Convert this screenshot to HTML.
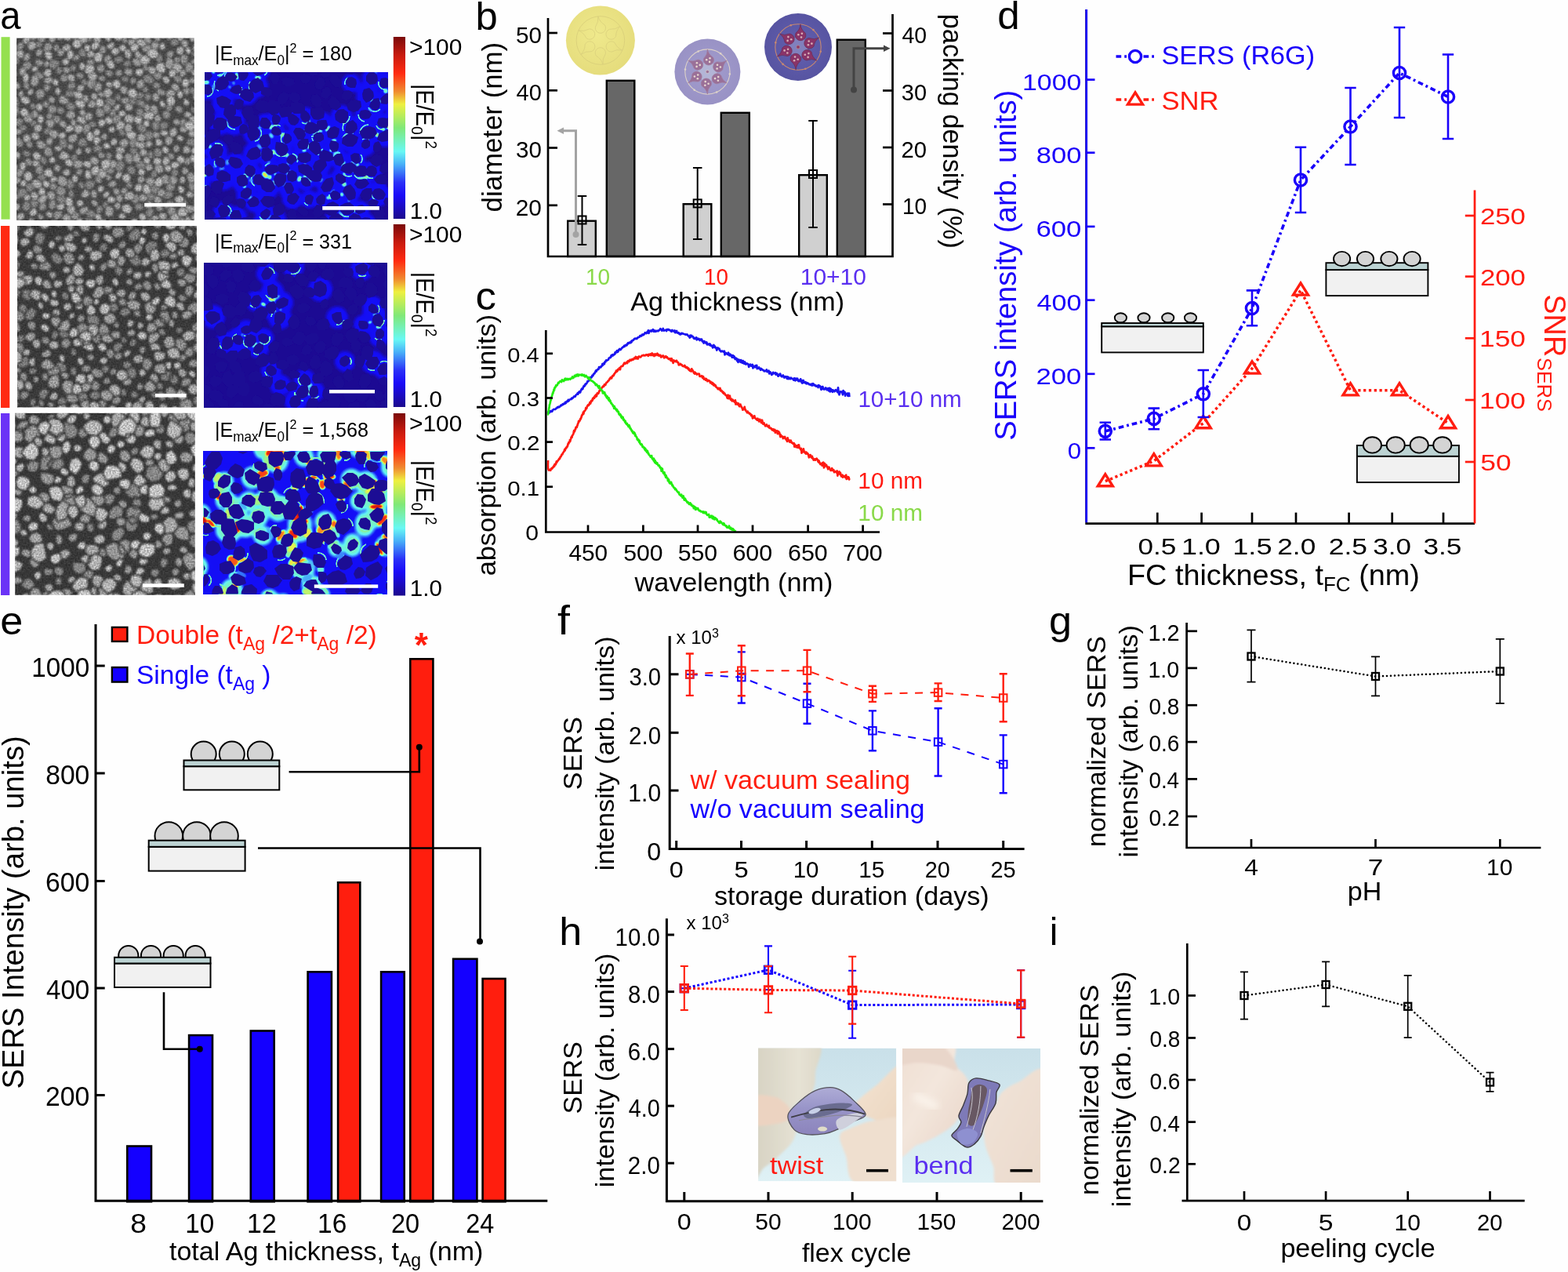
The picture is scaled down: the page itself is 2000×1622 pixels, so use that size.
<!DOCTYPE html><html><head><meta charset="utf-8"><style>html,body{margin:0;padding:0;background:#fff;}svg{display:block;}text{font-family:'Liberation Sans', Arial, Helvetica, sans-serif;}</style></head><body>
<svg width="2000" height="1622" viewBox="0 0 2000 1622">
<rect width="2000" height="1622" fill="#fefefe"/>
<defs><filter id="semnoise" x="0" y="0" width="100%" height="100%"><feTurbulence type="fractalNoise" baseFrequency="0.75" numOctaves="2" seed="3"/><feColorMatrix type="matrix" values="0 0 0 0 1  0 0 0 0 1  0 0 0 0 1  0 0 0 -1.3 1.45"/></filter><filter id="fmpart"><feGaussianBlur stdDeviation="0.5"/></filter><filter id="fmglow" x="-5%" y="-5%" width="110%" height="110%"><feGaussianBlur stdDeviation="2.6"/></filter><filter id="fmcres" x="-5%" y="-5%" width="110%" height="110%"><feGaussianBlur stdDeviation="0.6"/></filter><filter id="fmhot" x="-5%" y="-5%" width="110%" height="110%"><feGaussianBlur stdDeviation="1.1"/></filter></defs>
<rect x="1.5" y="47.2" width="11.1" height="232.5" fill="#95e04f" />
<rect x="1.0" y="288" width="11.3" height="232" fill="#ff2a12" />
<rect x="1.0" y="527" width="11.3" height="232" fill="#6b33f6" />
<clipPath id="semclip1"><rect x="21.1" y="48.5" width="226.70000000000002" height="232.39999999999998"/></clipPath>
<filter id="semb1" x="0" y="0" width="100%" height="100%" color-interpolation-filters="sRGB"><feGaussianBlur in="SourceGraphic" stdDeviation="0.9" result="b"/><feTurbulence type="fractalNoise" baseFrequency="0.5" numOctaves="2" seed="11" result="n"/><feColorMatrix in="n" type="matrix" values="1 0 0 0 0  1 0 0 0 0  1 0 0 0 0  0 0 0 0 1" result="ng"/><feComposite in="b" in2="ng" operator="arithmetic" k1="0.70" k2="0.65" k3="0" k4="0"/></filter>
<g clip-path="url(#semclip1)">
<g filter="url(#semb1)">
<rect x="21.1" y="48.5" width="226.70000000000002" height="232.39999999999998" fill="#484848"/>
<path d="M58 164l4 -2 4 3 -1 6 -4 1 -4 -1 -2 -4zM161 234l3 -3 3 1 2 3 0 5 -5 0 -4 -2zM42 243l-5 3 -4 -4 -1 -5 4 -4 6 1 3 5zM175 195l-4 3 -3 -2 -3 -4 2 -5 5 1 4 3zM29 158l-4 3 -5 0 -3 -5 2 -5 6 -1 5 3zM135 199l0 -4 4 -1 4 2 0 4 -2 4 -5 -1zM252 140l-1 4 -4 1 -3 -3 -1 -4 3 -2 4 0zM34 192l3 1 3 4 -4 3 -4 0 -3 -3 0 -5zM250 239l-2 5 -5 0 -3 -5 0 -5 5 -3 5 3zM76 85l3 2 1 4 -3 4 -4 -1 -2 -3 0 -5zM188 267l4 -3 5 4 -2 5 -2 5 -6 -2 -2 -5zM149 81l-4 -4 2 -4 4 -1 5 0 2 5 -5 3zM116 230l5 1 0 6 -4 4 -7 0 -2 -6 3 -5zM175 159l6 -2 5 4 1 5 -3 4 -5 -1 -4 -4zM208 246l4 -3 6 0 4 6 -5 4 -4 1 -6 -2zM87 246l2 -4 4 0 1 4 1 4 -4 3 -4 -3zM220 59l-3 -3 1 -5 4 -2 5 0 2 6 -4 3zM91 241l-5 0 -2 -5 1 -6 5 -3 5 5 0 5zM18 73l5 -2 2 4 0 4 -3 4 -4 -2 -2 -4zM106 187l-6 -1 -1 -6 4 -4 5 0 3 4 0 6zM172 223l-6 -1 -4 -3 0 -6 5 -2 5 2 1 5zM95 133l2 5 -5 4 -4 -1 -4 -4 1 -5 5 -2zM223 262l-4 5 -6 1 -4 -5 3 -5 3 -3 6 1zM173 120l4 -3 4 1 4 3 -3 4 -4 2 -4 -2zM206 79l-5 1 -2 -4 -2 -4 4 -4 5 2 2 5zM171 263l3 -4 5 0 4 3 0 6 -5 0 -4 0zM15 134l-1 -5 1 -6 7 0 2 5 1 5 -5 4zM83 141l-2 4 -5 1 -3 -3 -3 -5 6 -2 4 1zM101 70l-1 -5 4 -4 5 3 1 4 -1 5 -5 0zM243 186l-6 -2 2 -6 5 -2 5 0 3 6 -4 5zM55 231l-4 -1 -4 -4 4 -4 4 -1 4 3 -1 4zM28 267l1 -6 2 -4 6 -1 3 5 -1 5 -5 4zM116 163l-3 -2 0 -5 5 -2 4 2 2 4 -4 3zM193 108l-5 -2 -6 -2 1 -7 6 -3 5 4 4 5zM50 257l-2 6 -4 3 -5 -2 -1 -6 3 -4 5 0zM195 199l1 -6 3 -5 6 2 2 4 -1 6 -5 0zM199 284l-5 4 -5 0 -3 -3 1 -5 4 -2 6 0zM203 160l3 -4 4 -1 5 2 -1 5 -4 3 -5 0zM102 240l-2 -3 0 -4 4 -2 3 3 2 3 -3 4zM84 116l5 -2 5 0 3 5 -4 4 -4 1 -6 -1zM24 280l0 5 -3 4 -5 -1 -1 -4 1 -4 4 -2zM193 126l-4 4 -4 -3 -1 -4 2 -6 5 2 2 3zM191 245l0 -6 5 -3 6 0 3 6 -3 6 -6 0zM108 47l3 -4 5 1 2 3 0 4 -4 3 -4 -3zM41 131l3 1 3 3 -2 4 -4 1 -3 -3 0 -4zM152 204l7 3 0 6 -3 5 -6 1 -4 -5 2 -5zM149 129l-3 -3 1 -4 3 -3 3 2 2 4 -2 3zM164 99l0 4 -3 3 -4 -2 -3 -3 3 -4 4 0zM200 225l-5 2 -3 -3 1 -4 2 -3 5 0 1 4zM175 134l-3 -6 6 -2 5 2 4 4 -3 6 -6 -2zM250 120l-5 1 -3 -3 -1 -4 4 -4 4 3 2 3zM60 205l-1 5 -5 -1 -3 -3 0 -5 5 -2 3 3zM24 166l1 -5 4 -2 4 1 2 4 -3 3 -4 2zM97 88l-2 3 -4 0 -2 -3 1 -4 4 -2 4 2zM193 157l4 -3 6 0 1 6 -1 5 -6 2 -3 -4zM182 138l2 6 0 5 -5 3 -4 -3 -2 -5 2 -6zM246 72l-2 -3 2 -4 4 0 4 1 -1 4 -3 3zM218 220l2 -3 3 -3 4 3 1 4 -3 4 -5 0zM131 263l0 -3 3 -4 4 3 1 3 -2 4 -4 0zM22 248l1 -6 5 -2 6 0 1 7 -4 4 -6 2zM157 165l3 3 0 4 -3 2 -4 -2 -2 -3 2 -4zM186 179l-4 -5 3 -5 5 -3 5 3 1 6 -4 4zM137 124l5 1 6 2 -1 7 -5 2 -5 -3 -4 -4zM25 63l-6 4 -5 -1 -5 -4 3 -6 5 -2 5 3zM118 289l-6 0 -3 -4 -1 -6 5 -2 6 1 1 5zM130 193l-5 1 -5 0 -2 -5 4 -5 5 1 4 3zM76 178l5 -2 4 3 1 6 -3 5 -6 -3 -2 -4zM95 104l2 5 -2 5 -5 3 -4 -4 0 -5 3 -3zM142 289l-3 -3 0 -6 5 0 4 2 2 4 -3 5zM180 217l-5 -2 -3 -6 5 -4 5 0 4 4 0 6zM248 251l-2 -5 3 -3 4 -1 4 2 0 5 -4 3zM12 42l4 -4 5 1 2 5 -3 4 -4 3 -5 -4zM71 252l4 -4 6 0 3 5 -1 6 -6 1 -4 -3zM74 86l-5 3 -6 -3 -2 -6 6 -4 5 0 5 4zM212 51l1 -5 1 -3 5 0 2 3 -1 4 -4 2zM222 103l-1 -5 4 -3 5 2 3 4 -2 5 -5 0zM176 124l0 6 -4 3 -6 1 -2 -5 2 -4 4 -3zM160 78l4 -2 3 3 0 4 -3 2 -5 0 -3 -4zM249 226l-2 -4 2 -4 5 -2 2 5 1 4 -4 4zM232 254l6 1 2 5 -1 5 -5 3 -3 -4 -3 -5zM53 54l2 4 -3 3 -5 0 -2 -4 1 -4 4 -1zM112 105l-1 4 -4 1 -3 -3 -1 -3 3 -4 4 2zM40 154l3 -1 5 2 -1 4 -4 2 -4 0 -1 -4zM181 114l2 -4 4 0 3 3 -1 3 -2 4 -4 -2zM111 276l-3 -5 4 -4 6 1 4 4 -2 6 -5 1zM182 87l0 -5 5 -2 2 4 3 4 -4 3 -4 -1zM190 246l5 0 3 4 -2 4 -5 3 -4 -3 0 -5zM123 267l1 -5 5 0 3 4 -2 4 -3 3 -5 -2zM96 196l3 3 0 5 -4 1 -4 0 -1 -4 2 -3zM188 195l4 -3 4 2 1 4 -1 4 -5 0 -3 -3z" fill="rgb(130,130,130)" stroke="#484848" stroke-width="1.1"/>
<path d="M239 159l-4 2 -5 0 -1 -5 2 -4 5 -1 3 4zM50 44l5 -4 5 4 -1 5 -3 5 -6 0 -3 -6zM211 137l2 -3 4 -3 3 4 0 4 -3 3 -4 -1zM204 112l-3 1 -5 0 -1 -4 2 -4 4 0 4 2zM143 151l3 -4 5 -1 4 4 -1 5 -5 3 -6 -1zM61 138l2 -4 6 0 4 4 -2 5 -4 3 -5 -3zM219 204l-4 -2 -2 -3 2 -4 4 0 3 2 1 5zM42 289l-4 -3 -3 -3 1 -4 5 -2 3 3 2 5zM41 188l-3 1 -4 -2 -1 -4 3 -3 4 0 2 4zM78 251l-6 -4 -2 -5 4 -5 5 1 5 3 0 6zM62 131l1 4 -3 3 -4 -2 -3 -2 2 -4 4 -2zM95 283l1 4 -2 4 -5 -2 -1 -3 1 -4 3 -2zM202 260l4 2 3 3 -2 4 -5 1 -3 -3 -1 -5zM128 96l3 0 3 2 1 5 -5 1 -3 -1 -2 -4zM63 152l-4 -1 0 -4 3 -4 3 2 5 2 -2 5zM165 210l-5 -4 -2 -5 3 -6 7 1 3 5 0 5zM128 93l-4 -2 -1 -6 4 -3 5 0 2 4 -1 5zM62 265l0 -5 2 -4 6 -2 2 6 -1 4 -4 4zM44 79l3 -4 4 1 5 2 -1 5 -5 2 -4 -2zM151 98l-4 -2 0 -5 3 -2 4 -1 2 4 0 4zM161 47l2 3 0 4 -4 2 -3 -3 -2 -3 3 -4zM140 148l-1 -4 1 -5 5 -1 3 4 0 4 -3 3zM61 200l-5 -3 0 -6 3 -5 6 2 2 5 0 6zM233 84l-3 -6 -1 -5 4 -4 6 1 1 5 -1 5zM222 75l2 -3 4 1 2 3 -1 4 -4 0 -3 -1zM207 146l2 -5 5 0 3 3 1 4 -4 4 -5 -1zM65 55l3 5 -3 4 -4 5 -6 -4 1 -5 2 -6zM128 225l2 3 0 5 -5 1 -4 -3 0 -4 2 -4zM240 102l3 -3 4 -1 3 3 1 5 -5 1 -3 -1zM23 55l5 -2 3 4 -1 4 -3 3 -5 -1 0 -4zM33 209l-2 -5 5 -3 4 3 2 3 -2 4 -4 1zM105 222l-3 2 -4 -1 -2 -4 3 -3 3 -1 4 2zM212 121l-6 1 -4 -1 -3 -4 3 -5 5 2 4 2zM167 108l-1 -4 0 -4 4 -2 4 3 0 4 -3 2zM221 243l-5 1 -5 -3 2 -6 4 -3 5 2 2 5zM119 84l-4 0 -5 -2 1 -5 4 -2 4 1 2 4zM65 110l-1 4 -3 3 -4 -1 -2 -4 2 -4 4 -1zM50 223l-5 -3 0 -5 3 -4 5 -1 2 5 0 5zM130 139l4 4 -2 6 -6 1 -4 -4 0 -5 3 -5zM76 59l0 3 -2 4 -5 -1 -1 -4 1 -4 4 -1zM171 260l-4 -5 2 -5 4 -3 5 2 1 5 -3 4zM236 81l6 -2 5 4 0 5 -4 5 -6 -1 -1 -6zM46 116l4 -3 6 2 2 5 -3 5 -7 2 -3 -6zM97 97l1 -5 5 1 4 1 0 4 -3 3 -4 -1zM216 75l-4 -3 0 -5 4 -2 5 -1 1 5 -2 4zM24 135l1 7 -2 5 -6 4 -3 -6 -1 -5 4 -4zM135 228l-2 -4 3 -3 4 2 3 2 -1 4 -4 2zM198 101l-3 -5 4 -3 4 -2 4 4 -1 5 -4 2zM22 174l5 3 3 5 -1 5 -6 1 -5 -3 1 -5zM131 57l4 3 1 4 -2 5 -5 -1 -3 -4 1 -4zM222 275l-6 0 -3 -4 1 -5 5 -5 5 5 1 5zM37 107l1 3 -2 5 -5 -2 -1 -3 0 -4 4 -3zM47 275l3 -3 4 2 3 2 -2 3 -3 3 -3 -3zM102 274l-2 5 -5 3 -4 -4 -1 -5 3 -5 5 2zM134 144l-3 -5 0 -5 5 -2 4 2 3 5 -3 6zM100 43l1 4 -3 3 -4 1 -4 -3 2 -4 4 -2zM99 77l-5 1 -1 -5 2 -3 4 -1 3 2 0 4zM142 90l3 3 -2 4 -4 1 -4 -2 -1 -5 4 -2zM158 134l-4 -4 0 -4 5 -2 5 0 2 5 -4 4zM225 142l-3 -3 3 -4 5 0 3 3 0 5 -5 2zM69 270l5 -1 5 0 1 5 -3 4 -5 3 -4 -5zM44 99l0 -6 6 -2 4 3 3 4 -4 3 -4 0zM234 113l4 -3 4 3 0 5 -3 4 -4 -2 -2 -4zM55 269l-5 -1 0 -5 1 -4 5 -2 3 4 0 5zM75 148l3 4 -2 5 -6 1 -4 -3 0 -5 4 -3zM83 105l-4 -1 -3 -4 2 -4 4 -2 5 2 0 6zM64 241l-1 -5 3 -3 4 1 4 3 -1 5 -5 1zM109 172l-4 -5 0 -4 3 -5 6 0 2 6 -3 4zM39 79l2 5 -3 4 -5 2 -5 -2 1 -6 4 -4zM235 209l-1 -4 3 -4 5 0 3 4 -2 4 -4 2zM165 178l5 -1 7 -1 0 7 -3 4 -5 2 -4 -5zM141 213l5 2 0 5 -5 2 -4 -1 -2 -4 3 -3z" fill="rgb(142,142,142)" stroke="#484848" stroke-width="1.1"/>
<path d="M55 102l4 -3 4 -2 5 3 -2 6 -4 1 -5 -1zM117 242l5 1 2 3 0 4 -3 4 -4 -3 -2 -4zM121 116l-3 -5 2 -5 6 -2 4 4 0 6 -4 4zM192 144l-1 -5 3 -6 6 2 2 5 -1 5 -4 4zM12 92l4 -2 4 0 2 5 -2 3 -5 4 -3 -5zM239 228l-1 -6 6 -3 4 4 3 5 -4 5 -6 0zM39 102l2 -6 7 0 2 6 -1 5 -5 4 -5 -3zM38 148l2 -5 3 -3 5 2 1 4 -1 4 -5 1zM194 123l1 -4 5 -1 3 4 1 4 -4 4 -5 -2zM156 249l1 5 -2 4 -5 0 -2 -4 0 -4 4 -3zM64 81l-2 3 -3 3 -3 -3 0 -4 3 -3 3 1zM222 186l5 -2 2 4 0 4 -4 3 -4 -2 0 -4zM69 216l0 -4 3 -3 4 2 2 3 -2 5 -5 0zM157 109l5 2 1 5 -3 5 -5 -2 -2 -3 0 -5zM229 98l0 -4 1 -4 4 -3 3 4 1 4 -4 3zM17 112l-2 -4 3 -4 5 1 3 3 0 5 -5 1zM184 262l3 -4 4 -3 4 4 1 4 -4 3 -5 0zM92 209l4 -5 5 0 6 3 -2 6 -5 2 -5 -1zM184 136l2 -4 5 2 1 4 -1 3 -4 3 -3 -4zM74 51l-3 -3 3 -4 3 -3 4 3 2 4 -4 3zM85 133l-6 0 -4 -3 0 -6 5 -3 4 3 5 4zM234 212l5 3 2 3 -1 5 -4 0 -4 -2 0 -4zM137 236l3 -4 3 -2 5 1 1 5 -4 3 -4 0zM41 156l-6 1 -5 -3 0 -6 4 -5 7 1 1 6zM65 165l6 1 4 3 -1 5 -4 4 -5 -3 -4 -5zM212 174l6 -1 3 5 -1 4 -4 4 -5 -2 -1 -6zM71 250l-2 5 -6 0 -3 -4 0 -6 6 -2 4 3zM77 161l-2 -3 2 -4 5 -1 2 4 2 4 -5 3zM130 117l3 2 0 4 -4 2 -2 -2 -3 -3 2 -5zM201 55l-4 -2 -1 -4 1 -4 5 0 2 3 1 4zM101 198l-4 -1 -1 -4 2 -3 4 -2 3 4 -1 4zM65 281l4 -1 5 1 0 6 -4 2 -5 0 -3 -4zM83 66l-2 4 -3 2 -4 -1 -1 -4 2 -4 5 -1zM97 154l1 3 -2 4 -4 0 -2 -3 0 -4 3 -3zM185 257l-6 0 -2 -5 2 -4 4 -1 4 2 2 5zM199 230l-2 5 -4 3 -5 -3 -3 -4 4 -5 5 0zM179 235l-3 -3 -1 -5 4 -3 4 1 3 4 -3 3zM182 65l-2 -5 3 -6 6 1 4 4 -1 6 -5 3zM144 264l1 6 -1 5 -5 2 -5 -3 0 -6 3 -6zM127 206l-3 5 -5 -1 -5 -3 1 -6 6 -2 4 3zM196 168l5 0 3 2 0 4 -3 3 -4 -1 -3 -4zM61 127l2 -4 4 0 3 2 1 4 -4 3 -4 -1zM38 75l-3 3 -5 -1 0 -5 2 -3 5 -2 2 5zM114 100l7 -1 2 6 -1 6 -6 3 -5 -4 0 -5zM91 183l-5 -4 2 -6 5 -2 6 0 0 6 -3 4zM113 131l3 -4 5 2 3 4 -3 4 -5 1 -5 -2zM64 186l-5 -2 -1 -4 2 -3 4 -3 4 4 -1 4zM17 166l4 -2 4 0 4 5 -4 3 -4 0 -4 -1zM113 124l1 4 -4 4 -4 -3 -2 -4 3 -4 4 0zM136 178l-4 1 -4 -3 2 -4 2 -2 4 0 1 4zM83 283l-5 -4 3 -5 5 -2 4 3 1 5 -3 4zM19 237l4 3 -2 5 -4 3 -5 -1 1 -5 1 -5zM54 68l-2 4 -5 0 -2 -5 2 -3 3 -2 5 2zM160 87l5 0 4 2 1 5 -4 3 -4 -1 -4 -3zM238 283l-3 5 -5 2 -5 -4 -1 -5 5 -4 6 1zM64 152l4 1 2 5 -3 5 -6 0 -2 -5 -1 -5zM182 80l-4 5 -5 -1 -4 -3 0 -6 5 -1 5 1zM116 153l-4 1 -5 -3 0 -5 5 -3 5 1 2 5zM151 268l-4 -2 -2 -4 2 -3 4 -2 3 3 0 5zM114 268l-4 3 -4 3 -5 -2 1 -6 4 -2 5 -1zM248 74l3 2 3 3 -3 3 -3 0 -4 -1 0 -4zM230 154l0 4 -3 2 -4 -1 -3 -3 2 -4 4 -1zM226 50l0 -4 4 -2 5 2 0 4 -3 3 -4 0zM88 152l-5 -4 3 -5 4 -3 5 3 2 5 -4 4zM56 181l4 5 -5 4 -5 0 -3 -4 -1 -6 6 -1zM153 247l-3 2 -4 -1 -2 -4 1 -4 5 0 3 2zM135 81l-3 -5 2 -4 3 -2 5 1 0 4 -2 3zM206 240l5 3 0 5 -4 3 -4 0 -3 -4 2 -4zM205 225l6 -3 5 3 2 5 -3 5 -6 0 -3 -4zM151 182l4 -4 4 -2 5 3 0 6 -4 3 -5 -1zM222 80l0 6 -5 3 -6 -3 0 -6 2 -7 7 2zM117 193l-3 3 -3 0 -3 -3 0 -4 4 -2 4 2zM206 151l-2 5 -5 -1 -3 -3 1 -4 3 -3 4 2zM27 232l-5 3 -5 0 -3 -5 2 -5 5 0 5 2zM226 233l-4 3 -5 -2 -3 -5 4 -5 5 1 4 3zM207 258l-5 2 -5 -1 -1 -5 2 -5 5 1 3 3zM194 63l-2 -5 2 -4 4 -4 5 5 0 5 -4 4zM94 188l-2 3 -4 0 -3 -3 2 -4 3 -1 3 1zM154 245l1 -4 3 -2 4 1 1 3 -2 3 -4 3zM193 55l-4 3 -4 -3 -2 -5 2 -5 6 1 2 4zM253 87l3 4 -1 6 -5 1 -5 -2 -2 -5 5 -4zM40 51l-4 -4 1 -5 5 -4 4 3 2 5 -2 5zM85 237l-7 1 -4 -4 -2 -6 4 -4 6 1 4 5zM180 113l-5 0 -1 -5 1 -4 5 -4 4 5 0 5zM85 85l4 2 1 4 -4 3 -4 -1 -2 -3 1 -4zM179 200l1 6 -5 2 -5 -2 -1 -5 2 -4 6 -3zM18 208l5 3 -1 6 -3 6 -6 -2 -2 -6 1 -5zM209 219l-6 3 -5 -3 -1 -5 2 -6 6 1 3 4zM26 226l-5 -1 -1 -5 2 -4 4 -1 5 3 -2 5zM127 193l4 2 3 2 0 4 -5 1 -3 -1 -1 -4z" fill="rgb(154,154,154)" stroke="#484848" stroke-width="1.1"/>
<path d="M43 117l-1 3 -4 2 -3 -2 0 -4 3 -2 4 -2zM176 49l5 0 4 3 2 6 -5 3 -5 -3 -4 -4zM253 277l-2 3 -4 1 -3 -2 0 -4 3 -3 4 1zM138 56l3 -2 5 0 0 5 -3 4 -4 0 -4 -3zM94 95l2 4 -1 5 -5 0 -3 -2 -2 -5 4 -3zM85 66l-5 -1 -1 -5 4 -3 5 -1 3 4 -2 5zM239 252l-2 -4 3 -4 4 0 3 3 0 5 -4 0zM46 55l0 6 -4 3 -5 0 -2 -5 0 -6 7 -1zM69 190l1 -4 4 0 4 0 2 5 -4 2 -4 0zM108 151l3 5 -5 3 -4 -2 -5 -3 2 -6 6 -1zM58 272l3 -3 4 1 3 2 -1 5 -4 1 -3 -2zM122 71l-5 2 -4 1 -3 -4 2 -4 4 -2 4 2zM29 280l-4 2 -4 -4 0 -4 4 -2 5 -1 2 5zM187 188l-6 2 -5 -1 -5 -4 3 -6 6 1 6 2zM21 269l-4 -2 -1 -4 3 -4 4 0 3 3 -1 5zM26 196l0 5 -4 2 -3 -3 -2 -3 3 -3 4 -1zM128 214l6 -1 2 6 0 6 -6 3 -6 -3 1 -6zM30 173l4 -3 4 3 2 4 -3 4 -5 1 -3 -4zM195 213l-1 4 -4 1 -4 -1 0 -5 2 -3 5 0zM161 132l4 0 5 3 -1 5 -5 2 -4 -2 -1 -4zM153 187l4 0 3 4 -2 4 -5 1 -5 -2 0 -6zM255 254l0 5 -3 3 -4 -3 -1 -3 1 -4 4 0zM195 185l-4 3 -3 0 -4 -2 2 -5 4 -2 4 2zM116 255l5 0 3 2 1 3 -2 4 -4 -2 -2 -2zM54 160l0 5 -3 3 -5 2 -3 -5 1 -5 5 -2zM159 160l5 -4 4 3 1 5 -2 5 -6 1 -2 -5zM241 150l5 -3 5 2 2 4 0 6 -6 0 -5 -3zM39 52l-1 4 -5 1 -4 -3 0 -5 4 -3 5 1zM129 53l-4 4 -5 -3 -1 -4 1 -5 6 -2 3 5zM171 148l0 6 -4 5 -6 -2 -3 -5 2 -6 6 0zM213 278l-4 3 -5 -2 -3 -3 3 -4 3 -1 5 1zM234 68l-3 3 -5 -2 -2 -5 3 -4 6 -2 2 5zM89 223l-4 2 -4 -2 -2 -5 5 -2 4 -1 2 4zM241 174l-1 -4 2 -4 5 0 3 3 0 5 -5 1zM109 148l-5 1 -2 -3 -1 -4 3 -3 4 1 1 4zM86 270l-2 -5 4 -4 6 0 2 5 0 5 -6 3zM218 279l1 4 -1 4 -4 0 -3 -2 0 -4 3 -2zM241 49l4 -3 4 0 3 2 1 4 -5 2 -4 -1zM32 93l-3 4 -4 -2 -1 -4 2 -4 5 -1 3 4zM234 147l2 -4 3 -1 4 1 2 4 -4 3 -4 0zM89 52l-4 0 -4 -2 -1 -6 6 -2 5 1 1 5zM189 90l0 -6 6 1 4 2 0 5 -3 4 -5 -2zM161 74l-2 -4 -1 -6 6 -2 3 4 1 4 -2 6zM173 287l-4 1 -3 -4 1 -4 3 -2 5 1 1 4zM227 117l-5 0 -4 -4 1 -5 5 -2 4 3 1 4zM74 227l-2 4 -3 2 -5 0 0 -5 2 -3 4 -1zM224 162l2 5 0 4 -4 4 -5 -1 -1 -6 2 -4zM107 164l-3 5 -5 2 -4 -3 -2 -6 5 -3 6 0zM137 104l4 0 3 2 -1 5 -4 1 -3 -2 -2 -3zM171 58l-5 2 -3 -5 1 -4 3 -2 4 1 2 3zM40 176l0 -6 5 -2 4 2 2 4 -2 4 -5 1zM73 122l-3 -4 0 -4 3 -3 4 2 1 3 -1 4zM77 195l4 -3 5 3 4 4 -5 5 -5 0 -6 -3zM30 118l0 4 -2 3 -4 -2 -1 -3 1 -3 4 -2zM113 243l2 5 -3 3 -4 2 -5 -3 2 -5 3 -4zM184 199l-4 0 -2 -4 1 -5 5 0 3 2 2 5zM183 171l3 4 -2 5 -5 2 -4 -3 0 -5 3 -4zM243 194l-4 2 -5 -1 -1 -4 2 -5 5 0 3 4zM24 250l0 3 -3 3 -4 -1 -2 -4 2 -4 5 0zM159 273l2 3 -2 3 -4 1 -4 -2 1 -5 4 -2zM159 163l-4 3 -7 0 0 -7 3 -5 5 0 4 4zM125 238l4 -2 4 2 0 4 -3 3 -4 1 -2 -3zM233 160l4 3 3 2 -3 4 -3 0 -4 -1 -1 -5zM71 45l0 5 -2 4 -5 0 -2 -4 1 -4 4 -3zM141 113l3 5 -2 4 -4 4 -5 -3 -1 -6 3 -5zM154 132l-1 5 -1 3 -5 2 -2 -4 1 -3 3 -2zM222 285l-5 -3 0 -6 4 -4 6 0 3 5 -3 5zM174 74l-2 -3 0 -4 3 -3 4 3 3 4 -4 4zM223 79l6 2 4 4 -2 6 -5 3 -6 -3 0 -6zM170 255l-5 0 -6 0 -1 -6 4 -4 6 -1 4 5zM198 274l4 1 2 4 -4 2 -4 1 -3 -3 2 -4zM100 286l-3 -3 1 -4 3 -1 4 0 1 4 -2 3zM61 250l-2 6 -3 3 -6 0 -3 -5 5 -4 4 -3zM255 165l-1 3 -4 2 -2 -4 -1 -4 4 -2 4 1zM238 51l2 4 0 4 -4 2 -4 -2 -1 -4 2 -4zM225 116l-2 6 -5 3 -5 -1 -2 -5 4 -4 4 -2zM40 244l6 1 3 3 1 5 -5 3 -4 -2 -2 -4zM238 275l5 3 2 4 -1 5 -5 3 -3 -5 -1 -4zM47 241l-5 -3 -2 -6 5 -4 5 2 4 3 -1 6zM144 46l3 -4 5 -2 6 3 -1 6 -5 4 -5 -2zM26 63l4 2 1 5 -3 5 -5 -2 -4 -4 2 -4zM150 208l-2 4 -5 4 -3 -4 -1 -5 3 -3 5 1zM123 127l-4 1 -3 -3 0 -4 3 -3 4 1 2 4zM121 103l-6 0 -3 -5 0 -7 6 -2 4 4 3 5zM212 41l1 4 -3 4 -4 0 -3 -3 0 -5 4 -1zM229 232l0 -4 3 -4 4 2 1 4 -2 3 -3 2zM112 48l-1 6 -6 2 -5 -3 -2 -6 4 -6 6 2zM47 204l4 2 -1 5 -3 2 -5 -1 -1 -5 2 -3z" fill="rgb(166,166,166)" stroke="#484848" stroke-width="1.1"/>
<path d="M127 175l2 4 -3 4 -4 3 -3 -5 0 -4 3 -3zM142 188l-4 2 -4 0 -3 -4 2 -4 4 0 3 2zM219 215l-2 4 -4 0 -3 -2 0 -5 4 -3 4 2zM209 80l2 6 0 7 -7 0 -4 -3 -2 -5 4 -5zM61 226l-5 -2 0 -6 4 -3 5 0 3 5 -1 6zM51 203l-4 2 -4 -3 -2 -5 4 -4 5 2 3 4zM88 265l-4 -4 -1 -5 2 -5 6 1 2 4 0 5zM236 156l6 -2 5 3 4 5 -5 5 -6 0 -5 -4zM236 241l-2 5 -5 1 -1 -4 -2 -4 3 -3 4 2zM37 100l-1 5 -6 0 -1 -5 0 -4 4 -4 4 4zM125 61l-3 3 -5 -1 -1 -5 3 -4 5 -1 4 4zM102 264l-4 -2 0 -4 2 -3 4 0 3 3 -1 4zM242 200l4 -4 4 3 2 3 0 5 -5 1 -4 -3zM183 272l3 3 1 5 -5 2 -4 -2 -1 -4 2 -4zM234 258l-5 2 -5 -2 -2 -5 4 -3 5 -1 4 3zM40 230l-5 2 -4 -4 -1 -6 5 -4 5 2 2 5zM169 266l-3 6 -6 0 -4 -3 -1 -6 5 -3 5 1zM92 205l2 5 -5 3 -4 -2 -3 -3 2 -4 4 -2zM227 207l-2 -4 2 -4 4 -1 4 3 1 5 -5 4zM215 99l2 3 -2 5 -5 -1 -2 -3 -1 -5 5 -1zM178 87l5 1 0 5 -3 4 -4 0 -4 -3 1 -5zM156 224l4 -3 5 1 2 5 -2 5 -5 1 -4 -4zM188 248l-5 -2 -2 -5 2 -6 6 0 3 5 1 5zM224 129l-2 5 -6 2 -4 -6 1 -5 4 -4 5 3zM205 55l4 -1 2 4 0 4 -3 2 -4 -1 -1 -4zM243 62l1 3 -1 4 -4 0 -2 -3 -1 -3 3 -4zM146 162l1 4 -2 3 -4 0 -3 -2 1 -4 4 -2zM243 262l6 1 0 7 -5 1 -5 1 -4 -5 2 -5zM141 88l-3 -2 -3 -5 4 -4 5 0 2 5 1 5zM172 177l-5 2 -5 -4 -2 -5 5 -3 5 0 5 4zM229 126l-3 -3 0 -4 1 -4 5 1 2 4 -1 4zM116 207l1 5 -4 3 -4 -2 -4 -3 3 -5 5 0zM132 218l-3 -7 0 -6 6 -2 6 1 0 7 -3 4zM66 94l-3 4 -4 0 -4 -3 1 -4 3 -3 6 0zM139 54l-4 -3 -2 -3 1 -4 4 -1 3 3 1 4zM73 267l-2 -5 5 -2 5 -1 2 4 -2 4 -4 1zM98 112l2 -3 5 -1 3 4 -2 3 -3 2 -5 0zM186 162l-4 -2 1 -4 2 -3 5 -1 1 5 0 4zM210 131l2 3 -2 3 -4 0 -2 -3 -1 -4 4 -3zM71 203l0 4 -4 1 -4 -1 -1 -4 3 -3 4 0zM78 77l4 -2 4 -1 3 4 -2 4 -4 2 -3 -3zM241 268l-2 7 -6 1 -5 0 -2 -6 4 -5 5 -1zM95 131l4 -6 5 2 4 3 1 6 -5 3 -6 -3zM145 186l-4 -2 0 -4 2 -3 4 -1 3 4 -1 4zM207 207l1 -4 2 -4 5 2 2 4 -2 5 -6 2zM101 83l2 -4 5 2 1 3 0 5 -5 1 -3 -3zM74 173l3 -4 4 -1 3 3 0 4 -4 2 -4 0zM127 152l5 0 4 4 -3 4 -3 2 -4 -1 -1 -5zM52 239l5 1 1 4 0 4 -5 1 -4 -1 0 -5zM126 272l3 3 1 4 -3 3 -4 -1 -2 -3 0 -5zM207 193l-1 -4 4 -3 4 2 2 4 -2 4 -4 0zM233 180l-4 0 -3 -2 -1 -3 3 -3 3 1 4 3zM143 105l5 -4 5 2 1 5 -2 5 -5 0 -3 -3zM55 136l-1 4 -3 3 -4 -3 -1 -3 1 -5 5 0zM161 59l0 5 -4 2 -4 -2 -2 -3 3 -4 4 0zM32 217l-6 0 -1 -4 0 -4 4 -3 4 2 0 5zM96 164l-4 3 -4 2 -5 -1 1 -6 4 -3 4 1zM180 82l-2 -5 2 -6 6 -1 6 3 -1 7 -5 2zM131 247l3 -2 4 -2 2 4 -1 3 -3 2 -4 0zM28 148l-3 -4 2 -5 4 -2 4 3 2 5 -3 4zM73 110l-4 -1 -2 -3 0 -4 4 -2 3 2 1 4zM252 192l-2 3 -4 2 -3 -4 2 -4 3 -2 4 1zM224 90l1 4 -3 4 -5 1 -2 -4 1 -5 4 -2zM235 125l4 2 3 3 -1 4 -4 1 -3 -2 0 -3zM183 202l4 -3 4 3 1 3 -2 5 -4 -1 -3 -3zM100 228l-2 5 -5 -1 -1 -4 0 -3 3 -3 4 3zM238 99l3 4 1 4 -4 5 -6 -2 0 -5 2 -4zM134 279l2 5 -2 4 -4 3 -4 -4 0 -4 3 -3zM245 63l2 -5 2 -4 5 1 2 4 -3 4 -3 3zM42 85l4 -1 3 2 -1 4 -3 2 -4 -1 -1 -3zM248 216l-1 -4 1 -4 3 -2 5 1 -1 5 -2 3zM176 148l5 2 1 5 -4 4 -4 -1 -3 -3 0 -6zM122 130l2 -5 6 1 3 4 -1 5 -5 2 -5 -2zM198 62l5 6 -3 6 -7 1 -5 -2 -1 -7 5 -4zM47 273l-3 2 -5 1 -2 -5 3 -4 4 -2 4 4zM175 64l-4 3 -4 -2 -1 -5 3 -4 6 -1 3 5zM205 238l-5 0 -4 -4 2 -4 4 -5 6 3 0 6zM94 61l-2 -5 3 -6 5 0 4 4 0 5 -4 3zM119 179l-5 2 -4 -4 0 -4 3 -6 6 2 2 5zM146 227l2 -5 2 -3 5 0 1 4 -2 3 -3 3zM38 248l1 4 -1 3 -3 1 -4 -1 -1 -4 3 -3zM60 76l-2 -3 -2 -6 5 -2 5 2 1 5 -1 5zM120 91l-4 3 -7 0 -2 -6 3 -5 6 -1 5 3zM180 224l-4 -2 0 -4 3 -4 4 2 3 3 -2 4zM131 73l-2 6 -6 1 -4 -6 2 -5 4 -3 6 2zM173 244l-2 -5 3 -4 5 -1 4 3 -1 5 -4 3zM199 186l-1 -4 1 -5 5 0 3 3 1 4 -4 2zM162 117l4 -4 6 0 3 5 0 6 -6 1 -5 -2zM144 155l-3 4 -4 -1 -3 -4 0 -4 5 -2 4 3zM55 230l4 0 4 2 1 5 -4 3 -4 -2 -2 -3zM252 130l-4 -2 -2 -4 2 -5 5 0 4 4 0 5zM29 238l-3 -1 0 -4 2 -3 4 -1 2 4 -1 4zM202 201l4 2 0 5 -4 2 -5 0 -2 -4 2 -5zM210 166l4 1 1 4 -4 3 -4 -1 -3 -3 2 -4zM149 204l-2 -4 1 -5 6 -1 3 5 0 4 -4 2zM158 148l-4 2 -3 -3 0 -5 4 -1 4 0 2 4zM116 218l1 4 0 5 -5 2 -4 -3 0 -5 2 -5zM188 154l-5 -3 0 -7 6 -1 6 -1 2 6 -3 5zM204 280l6 1 -1 5 -3 3 -4 1 -3 -4 2 -4zM87 76l-2 -5 1 -4 3 -4 5 3 0 5 -1 4zM56 153l-2 5 -5 -1 -1 -4 0 -5 4 -2 4 3zM27 123l6 0 4 2 2 5 -5 4 -4 -2 -4 -3zM254 271l-5 0 -5 -3 1 -6 5 -2 5 2 2 5zM113 57l3 2 -1 4 -2 4 -4 -2 -2 -4 1 -4zM143 63l4 -3 4 2 2 5 -4 3 -4 0 -4 -3zM148 254l-2 4 -4 1 -5 -1 0 -6 4 -2 4 1zM229 207l0 5 -5 3 -4 0 -3 -4 2 -4 4 -1zM119 212l7 -1 1 6 -2 5 -4 2 -6 -2 1 -6zM172 41l5 -1 2 5 -2 4 -4 3 -5 -2 0 -6zM128 170l-2 3 -4 1 -4 -2 1 -4 3 -4 5 1zM105 119l1 5 -4 4 -5 -2 -3 -4 1 -6 6 -1z" fill="rgb(178,178,178)" stroke="#484848" stroke-width="1.1"/>
</g>
</g>
<rect x="184.2" y="258.9" width="52.80000000000001" height="4.600000000000023" fill="#fff" />
<clipPath id="semclip2"><rect x="22" y="288" width="229" height="231.5"/></clipPath>
<filter id="semb2" x="0" y="0" width="100%" height="100%" color-interpolation-filters="sRGB"><feGaussianBlur in="SourceGraphic" stdDeviation="1.2" result="b"/><feTurbulence type="fractalNoise" baseFrequency="0.5" numOctaves="2" seed="12" result="n"/><feColorMatrix in="n" type="matrix" values="1 0 0 0 0  1 0 0 0 0  1 0 0 0 0  0 0 0 0 1" result="ng"/><feComposite in="b" in2="ng" operator="arithmetic" k1="0.90" k2="0.55" k3="0" k4="0"/></filter>
<g clip-path="url(#semclip2)">
<g filter="url(#semb2)">
<rect x="22" y="288" width="229" height="231.5" fill="#3a3a3a"/>
<path d="M29 375l-6 5 -6 -1 -7 -3 1 -8 7 -1 6 2zM150 450l-6 -2 0 -7 4 -4 6 -1 4 5 -4 5zM49 502l3 -5 6 -2 5 4 -3 6 -3 5 -7 -2zM261 507l0 8 -6 3 -5 0 -4 -5 1 -8 7 0zM157 404l-5 -4 2 -6 6 -2 6 1 1 7 -5 3zM111 403l8 -3 6 3 3 7 -3 7 -8 -1 -6 -5zM33 389l2 5 -2 6 -6 1 -3 -5 0 -5 4 -5zM192 505l0 -4 4 -2 4 1 2 5 -4 3 -3 -1zM33 432l-4 4 -4 3 -6 -3 2 -5 3 -4 7 -1zM97 468l1 5 0 4 -4 3 -4 -3 -1 -5 2 -4zM74 509l4 -3 5 1 2 5 -1 5 -5 0 -6 -2zM162 501l-1 4 -5 1 -2 -3 -1 -5 4 -3 4 2zM99 450l-3 4 -5 0 -1 -5 1 -4 4 -2 2 4zM44 305l1 -7 7 -2 6 4 -1 7 -4 6 -7 -2zM248 291l-6 -1 -5 -3 1 -5 4 -4 5 2 1 4zM223 477l4 4 1 6 -4 4 -6 -2 -3 -4 1 -6zM204 325l1 -5 5 -3 6 2 3 6 -6 3 -5 2zM151 395l-5 4 -5 -3 -3 -5 4 -5 5 0 4 3zM169 467l-5 3 -4 1 -4 -4 1 -6 5 -1 5 2zM69 303l3 -3 4 0 4 2 -2 5 -3 1 -5 0zM18 345l-4 -5 -1 -5 5 -4 7 1 1 6 -2 6zM167 295l7 -5 7 5 -2 8 -5 4 -8 1 -3 -7zM81 330l-3 7 -7 0 -4 -4 -3 -7 6 -5 6 4zM165 437l2 -4 4 -2 4 4 -1 4 -3 3 -6 0zM31 402l3 -6 7 -5 6 6 -2 7 -4 4 -7 1zM118 499l5 -2 4 4 1 6 -5 3 -6 -1 -4 -5zM198 323l-8 3 -5 -6 0 -8 6 -5 9 1 2 9zM73 461l7 1 5 4 0 7 -6 4 -7 -2 -2 -7zM130 321l-4 -3 1 -4 3 -4 6 0 2 6 -3 5zM73 422l2 5 -2 4 -4 3 -4 -4 1 -4 2 -5zM43 507l3 4 0 4 -4 4 -4 -2 0 -5 1 -3zM162 296l-2 -5 2 -5 4 -1 6 1 -1 5 -3 3zM156 429l4 1 2 3 0 3 -4 3 -3 -3 -1 -4zM232 341l4 3 0 4 -2 6 -6 -1 -4 -5 3 -5zM120 437l-4 -5 1 -6 6 -2 6 2 0 6 -2 7zM161 480l-1 -7 6 -5 7 2 2 7 -3 6 -6 0zM29 369l6 0 8 1 -1 8 -5 6 -7 -3 -5 -5zM88 376l0 5 -4 3 -4 -3 -2 -4 2 -5 5 0zM24 296l-7 2 -3 -5 -4 -6 6 -5 6 3 4 5zM205 476l5 -3 8 0 2 7 -4 7 -7 -1 -5 -3zM248 328l1 -6 6 0 3 4 0 5 -5 3 -5 -1zM154 340l4 4 -2 5 -5 4 -4 -5 -2 -6 4 -4zM230 425l-3 1 -3 -3 0 -4 4 -2 4 1 2 5zM98 293l3 3 2 4 -4 2 -4 0 -3 -3 2 -5zM36 473l3 -4 5 0 4 2 -2 5 -3 1 -5 1zM209 493l-1 4 -5 0 -3 -2 -1 -6 5 -2 3 2zM50 519l-1 -4 0 -4 3 -3 3 3 2 3 -1 5zM39 521l-1 5 -3 2 -4 0 -4 -3 4 -4 4 -1zM83 433l-4 -2 -4 -4 1 -6 7 -2 4 5 1 6zM111 502l2 7 -4 6 -7 -1 -3 -6 2 -6 5 -3zM134 465l5 2 1 5 -4 4 -4 1 -4 -4 2 -5zM22 460l5 -4 8 -2 3 7 -3 7 -6 1 -8 -1zM174 323l4 5 4 8 -8 4 -7 -3 -3 -6 2 -8zM177 502l-1 5 -5 1 -4 -2 -1 -4 3 -4 4 1z" fill="rgb(125,125,125)" stroke="#3a3a3a" stroke-width="1.8"/>
<path d="M183 316l-3 5 -4 4 -5 -4 -1 -6 4 -5 7 0zM34 489l-6 -3 -3 -4 0 -6 6 -2 4 4 0 4zM31 510l-5 -1 -1 -6 3 -4 6 -1 4 5 -3 4zM53 480l1 -4 5 -1 3 3 0 4 -3 4 -5 -1zM106 388l-1 -6 5 -6 6 3 3 4 0 7 -7 2zM187 445l-2 4 -4 4 -3 -4 -1 -5 3 -3 5 1zM45 335l4 3 0 4 -5 2 -3 -1 -3 -4 3 -4zM98 407l2 -5 5 -2 4 4 -1 4 -3 4 -5 0zM206 410l-3 -6 2 -7 8 -3 3 7 2 6 -5 6zM110 475l-5 -1 -2 -5 4 -3 4 -1 5 2 0 6zM46 412l0 5 -2 5 -5 -1 -4 -4 0 -6 6 -2zM131 521l-4 -2 -3 -5 4 -4 5 0 3 3 0 5zM198 369l-3 -5 3 -4 5 1 3 3 0 4 -4 3zM74 290l-3 -3 -2 -4 4 -2 4 -1 4 4 -2 4zM144 446l3 5 -3 6 -5 1 -3 -5 -1 -4 4 -5zM244 510l3 8 -6 6 -7 -2 -6 -4 2 -8 7 -3zM207 419l3 2 2 5 -5 3 -3 -3 -3 -3 2 -3zM149 475l-2 3 -5 1 -3 -4 3 -4 3 -2 4 2zM248 451l-4 4 -6 1 -4 -4 2 -5 4 -5 7 1zM244 363l4 6 -2 6 -5 5 -7 -3 2 -7 1 -5zM181 363l2 5 -5 1 -5 2 -3 -6 4 -3 4 -2zM253 421l-5 3 -4 -4 1 -5 4 -4 5 0 1 6zM143 374l-6 2 -6 -1 -1 -6 4 -4 4 0 7 2zM169 342l1 5 -3 3 -4 2 -3 -4 2 -4 2 -3zM94 337l-9 1 -4 -6 -1 -7 6 -4 6 2 4 6zM247 469l-6 -1 -1 -6 4 -4 6 0 5 4 -3 6zM251 351l-2 8 -7 3 -6 -2 -3 -7 5 -5 6 1zM240 401l-2 -8 4 -5 7 -4 6 6 -2 7 -5 5zM195 463l-2 6 -5 5 -6 -5 -1 -6 3 -7 8 2zM242 311l-4 5 -7 0 -5 -5 2 -7 6 -3 6 3zM22 395l7 3 3 8 -7 5 -8 -2 -6 -5 5 -7zM226 500l-1 7 -8 3 -6 -6 0 -8 6 -4 5 3zM150 409l2 4 1 3 -3 3 -4 -1 -2 -3 2 -4zM183 494l-2 4 -5 0 -2 -4 1 -4 4 -3 4 4zM138 526l0 -6 3 -4 6 -1 2 6 -1 5 -5 1zM244 292l3 4 -2 5 -5 1 -2 -4 -1 -3 3 -4zM93 502l5 2 3 6 -5 5 -6 -1 -6 -3 1 -9zM170 397l3 -4 5 1 1 4 1 5 -5 2 -4 -3zM52 434l3 -5 5 0 3 3 1 4 -4 4 -5 -2zM67 513l3 3 -2 4 -4 0 -3 -2 -1 -4 4 -2zM66 339l-3 7 -7 -1 -7 -2 2 -7 5 -3 6 0zM127 496l-6 3 -5 -3 -3 -6 4 -6 7 2 4 4zM257 297l0 5 -5 1 -3 -4 0 -4 2 -4 5 2zM133 475l-3 7 -7 0 -5 -2 -3 -7 6 -4 6 2zM99 424l-2 -7 6 -6 7 2 5 5 -2 7 -7 1zM152 317l-2 -5 4 -4 4 -2 4 4 -2 5 -3 3zM248 340l4 1 1 5 -3 4 -5 0 -5 -4 2 -6zM200 292l-4 -2 0 -4 4 -3 4 1 3 4 -3 4zM145 287l2 -4 3 -2 5 1 1 4 -2 4 -4 -1zM147 304l-5 -6 2 -7 7 -3 7 3 1 8 -5 4zM121 457l-4 4 -4 -2 -3 -3 2 -4 4 -1 4 2zM137 490l-4 0 -3 -4 3 -3 4 -3 4 4 0 5zM38 520l6 -3 6 0 7 5 -4 7 -7 3 -8 -3zM51 314l4 3 -2 6 -7 1 -4 -3 0 -6 4 -4zM219 331l-4 -3 2 -5 4 -1 5 1 1 5 -4 3zM234 448l-8 -2 -3 -7 1 -7 7 -1 6 3 2 7zM88 432l3 5 -2 5 -5 3 -6 -3 0 -7 5 -4zM11 508l1 -7 4 -7 8 3 2 7 -2 6 -7 1zM203 498l6 2 4 4 -1 4 -4 4 -5 -3 -3 -5zM195 296l6 -1 2 5 -1 4 -3 3 -4 -3 -3 -4zM126 417l5 -6 7 5 2 6 -1 8 -9 0 -5 -6zM151 388l0 -6 5 -3 5 3 1 4 -2 5 -4 -1zM145 454l3 -4 5 -1 4 3 -2 5 -3 2 -5 0zM204 341l-2 5 -5 4 -3 -6 -1 -4 2 -5 7 1zM130 336l5 -2 4 5 -3 4 -4 4 -5 -3 0 -5zM22 487l-5 3 -5 -5 1 -6 4 -5 6 2 1 6zM204 393l2 -5 4 0 4 2 0 5 -4 2 -3 -1zM239 481l6 3 -2 6 -5 3 -7 0 0 -6 3 -5zM229 383l-3 -5 5 -3 5 -1 3 4 -1 5 -5 2zM118 300l4 -4 6 3 -1 6 -2 4 -6 1 -1 -5zM193 370l-6 1 -4 -4 -2 -5 5 -5 5 2 3 5zM220 407l-1 -5 0 -5 6 -1 2 4 1 4 -3 3zM147 505l6 0 2 6 -3 4 -5 2 -5 -3 2 -6zM17 442l4 -5 7 0 3 6 1 7 -8 2 -6 -3zM201 406l6 -1 4 5 -2 7 -6 1 -6 -2 -2 -7zM72 466l5 6 -3 7 -6 3 -6 -4 -4 -7 7 -5z" fill="rgb(140,140,140)" stroke="#3a3a3a" stroke-width="1.8"/>
<path d="M86 475l3 5 -4 4 -4 -1 -3 -3 -1 -4 5 -2zM163 329l-4 -5 1 -6 5 -3 5 3 3 5 -3 6zM103 293l-3 -6 6 -6 7 3 2 5 -1 6 -6 1zM255 447l-4 3 -5 -3 0 -5 2 -4 6 -1 2 5zM106 363l1 7 0 6 -5 1 -5 -3 -1 -5 3 -7zM59 456l-6 0 0 -6 4 -3 5 -2 4 5 -2 5zM20 355l-2 -6 4 -4 5 0 5 2 -1 6 -5 3zM63 346l5 0 4 2 0 5 -4 4 -4 -3 -2 -3zM99 332l0 -5 3 -3 4 0 3 3 -2 4 -3 2zM223 437l0 7 -8 2 -5 -4 -2 -7 5 -7 8 1zM66 413l-2 -6 6 -6 6 4 2 5 -2 7 -6 1zM231 327l-4 -1 -2 -5 4 -3 4 -1 3 3 0 5zM94 494l-1 8 -9 1 -4 -6 -2 -7 6 -6 9 2zM193 426l-6 -3 0 -6 3 -6 7 1 4 6 -2 6zM239 476l-2 5 -5 1 -4 -3 -2 -7 6 -3 5 3zM162 492l-5 -1 -1 -5 3 -4 6 -1 4 4 -2 5zM104 488l7 0 7 1 -3 7 -3 4 -6 0 -5 -5zM235 356l4 4 -3 5 -5 1 -4 -3 -2 -5 5 -3zM174 373l0 5 -3 4 -6 1 -2 -5 2 -4 4 -3zM238 396l6 0 2 6 -5 4 -5 2 -5 -4 2 -6zM152 422l2 5 -1 5 -6 0 -5 -2 -1 -6 6 -2zM152 379l-5 -4 3 -5 6 -2 5 3 0 5 -4 4zM251 358l6 -2 4 3 3 6 -6 4 -5 -2 -5 -3zM86 291l-2 -5 4 -4 6 1 1 5 -1 4 -5 4zM117 521l-6 3 -6 -2 -3 -6 4 -6 7 0 2 5zM48 480l2 3 -1 4 -3 2 -3 -2 -1 -4 1 -4zM174 383l6 4 -2 8 -8 1 -7 -3 -2 -8 8 -3zM225 372l-1 5 -5 1 -3 -2 -2 -5 3 -5 5 3zM234 294l-5 -1 -1 -4 0 -5 6 -3 3 5 1 5zM190 481l3 -5 6 0 3 5 1 5 -6 4 -4 -4zM73 421l2 -8 6 -4 7 -2 2 8 -2 6 -7 2zM223 414l-2 4 -5 -1 -1 -4 0 -3 3 -4 4 3zM168 429l-5 0 -2 -5 4 -3 4 -2 4 4 -1 5zM76 395l2 5 -3 3 -4 2 -5 -3 1 -6 4 -3zM137 426l5 2 4 6 -6 4 -6 -1 -5 -3 1 -7zM15 520l-2 -5 3 -4 5 -1 3 4 -1 4 -3 3zM212 525l-5 -1 -3 -3 -2 -5 6 -2 5 1 1 5zM236 459l-5 2 -5 -1 -1 -5 4 -4 5 1 5 3zM132 361l-5 4 -5 -4 -1 -5 4 -5 6 -1 2 6zM169 358l1 4 -4 2 -4 -1 -2 -3 2 -5 5 0zM124 281l4 3 2 3 1 5 -6 1 -3 -3 0 -4zM149 338l-3 4 -6 0 -4 -3 1 -7 5 -2 8 1zM81 302l5 -3 6 -3 3 7 -3 5 -4 1 -7 0zM223 310l-7 -4 0 -8 6 -5 7 2 6 6 -4 9zM174 452l6 0 4 4 -2 6 -6 2 -6 -2 -1 -6zM186 488l6 -4 5 4 3 7 -5 5 -8 0 -4 -6zM54 461l6 -4 5 3 5 6 -5 6 -7 -1 -7 -3zM149 407l-5 6 -7 1 -6 -6 3 -8 6 -2 6 3zM8 416l8 -4 7 -2 3 6 0 7 -7 1 -7 0zM134 373l-5 6 -6 4 -6 -6 3 -6 3 -6 8 0zM117 315l2 5 -5 3 -4 -1 -4 -4 3 -4 4 -1zM260 482l2 5 -3 4 -4 2 -5 -3 -1 -6 6 -2zM19 468l4 0 3 2 2 4 -4 2 -4 -1 -3 -3zM56 367l-3 -5 3 -6 6 1 3 4 2 6 -6 2zM259 372l-2 5 -3 4 -6 1 -2 -6 3 -5 5 -3zM61 485l5 -6 9 -2 1 9 0 7 -7 3 -8 -3zM133 497l7 0 5 5 -2 8 -8 2 -6 -4 -2 -7zM205 426l-3 7 -5 5 -8 1 0 -9 2 -6 7 -2zM200 394l-4 6 -8 2 -3 -7 -1 -7 7 -4 7 3zM203 477l-6 -3 -1 -7 6 -3 7 -1 3 6 -1 8zM151 326l6 0 4 5 -3 7 -6 2 -4 -5 -3 -6zM95 360l-4 5 -7 -2 -1 -6 3 -5 6 -4 5 6zM248 429l2 -6 7 1 3 4 1 7 -6 5 -6 -5zM171 525l-4 -5 3 -6 6 -3 8 3 -3 7 -3 5zM46 426l-1 6 -5 4 -5 -1 -5 -5 5 -5 5 -2z" fill="rgb(155,155,155)" stroke="#3a3a3a" stroke-width="1.8"/>
<path d="M56 391l-2 4 -5 -2 -1 -3 0 -4 4 -2 3 3zM140 299l4 3 2 6 -6 3 -4 -3 -5 -4 2 -6zM186 520l-2 -5 5 -5 5 2 3 4 0 7 -7 0zM246 523l3 -6 7 2 5 4 -3 6 -6 4 -7 -3zM137 293l-4 -3 -1 -4 4 -2 4 1 4 3 -3 5zM184 328l6 1 3 5 -4 4 -4 2 -5 -2 0 -6zM86 349l-4 0 -3 -5 3 -4 4 0 4 2 0 5zM120 511l7 4 1 6 -2 8 -8 -2 -3 -5 -2 -8zM15 461l-1 -7 2 -6 7 -2 5 6 1 8 -7 5zM229 495l6 4 4 3 -1 7 -7 2 -5 -4 -1 -6zM105 362l-5 2 -5 -3 1 -5 4 -2 4 0 4 4zM188 385l-6 -2 -3 -4 0 -6 6 -1 5 2 3 6zM202 438l3 4 -1 6 -6 0 -6 -2 -1 -7 6 -2zM129 320l3 7 -6 4 -6 3 -6 -4 1 -9 7 -2zM70 368l-2 -5 1 -6 5 0 6 1 0 6 -5 3zM74 507l-2 3 -6 1 -4 -4 3 -5 5 -3 4 3zM90 309l6 2 3 7 -6 4 -6 -1 -6 -4 1 -9zM213 359l-8 2 -5 -7 2 -8 7 -2 8 2 -1 7zM242 435l-7 0 -3 -8 5 -5 6 -1 6 3 0 8zM50 445l-6 -1 -3 -5 1 -5 5 -2 4 2 1 5zM184 349l2 -3 5 -1 3 4 -3 4 -3 2 -4 -2zM215 456l-3 -8 6 -5 7 0 4 5 2 9 -9 1zM214 318l-4 -4 2 -8 7 2 6 3 1 7 -6 5zM39 310l-5 3 -5 2 -4 -4 1 -6 5 -2 6 1zM29 296l5 -4 5 -3 5 4 -1 6 -5 4 -6 -1zM223 517l4 2 3 5 -4 4 -5 -1 -3 -3 1 -5zM167 418l-5 -1 0 -5 1 -5 5 1 4 2 -2 5zM40 456l5 0 0 5 0 5 -5 2 -4 -5 1 -4zM92 364l4 1 -1 5 -2 4 -5 -1 -2 -4 1 -5zM250 325l-7 -3 0 -7 5 -6 7 0 2 6 0 7zM176 346l6 1 -1 6 -4 4 -5 -1 -3 -4 2 -5zM62 290l-4 3 -5 -1 -3 -5 4 -3 5 -2 6 2zM254 493l-1 6 -4 5 -7 -2 -3 -6 3 -6 6 -1zM210 458l-7 3 -6 -2 -1 -6 2 -7 7 2 7 3zM98 530l-7 0 -3 -7 2 -7 6 -2 6 4 0 6zM168 448l-2 4 -2 3 -5 1 -2 -5 3 -4 4 -1zM34 323l2 -5 6 2 1 5 -2 5 -5 1 -5 -3zM36 290l-4 -3 -1 -5 4 -4 5 2 4 4 -4 4zM188 285l-2 4 -5 0 -2 -4 -1 -5 5 -2 4 3zM47 369l5 3 2 7 -6 5 -6 -3 -5 -5 4 -7zM231 397l-4 -3 -4 -4 4 -5 5 0 3 4 1 6zM154 495l0 8 -7 3 -5 -5 -4 -5 4 -6 7 0zM255 275l7 4 -1 7 -5 4 -7 1 -4 -7 4 -6zM114 429l-2 -7 1 -7 6 -2 6 3 1 7 -4 6zM96 353l-4 -6 1 -7 6 -6 6 5 3 6 -3 7zM50 334l-4 -2 -1 -6 5 -3 5 2 4 5 -2 6zM31 495l-5 3 -5 -2 -1 -5 0 -7 8 0 3 5zM39 363l-7 1 -6 -4 2 -7 5 -2 7 -1 3 7zM61 440l4 -5 5 -1 4 2 2 6 -5 4 -6 -1zM227 335l2 4 -3 2 -4 2 -5 -2 2 -5 4 -3zM191 327l1 -7 8 -4 4 7 0 6 -4 4 -7 1zM217 335l1 7 -4 9 -8 -3 -4 -6 -1 -9 9 -1zM92 392l-3 4 -5 1 -4 -4 1 -5 4 -2 5 0zM186 507l-1 5 -3 2 -4 -1 -2 -4 4 -3 3 -2zM180 481l-3 -4 0 -5 5 -3 3 3 2 4 -2 3zM13 389l2 -4 5 -3 3 4 0 5 -2 5 -6 -3zM85 527l-4 5 -6 -3 -4 -7 5 -6 7 0 4 5zM95 405l-3 2 -5 0 1 -5 2 -3 5 -1 1 4zM139 380l-1 -6 6 0 4 2 2 5 -4 5 -6 -1zM33 496l-2 -4 2 -6 5 0 3 4 1 5 -4 4zM182 418l-4 3 -3 -4 0 -3 2 -4 4 1 3 4zM147 478l4 -6 6 -1 6 4 0 8 -7 3 -6 -2z" fill="rgb(170,170,170)" stroke="#3a3a3a" stroke-width="1.8"/>
<path d="M128 437l4 0 3 3 2 6 -6 3 -5 -3 -2 -5zM177 433l-3 -6 5 -5 6 1 3 4 -1 5 -4 2zM38 452l-4 2 -5 -1 0 -5 4 -3 4 0 2 3zM91 382l-1 -8 8 -2 4 5 3 6 -4 7 -7 -4zM213 280l7 -2 7 5 -2 7 -5 3 -6 0 -5 -6zM44 354l5 -3 5 4 0 5 -2 5 -6 -2 -2 -4zM181 299l-2 -4 2 -3 3 -2 3 3 1 3 -3 4zM67 391l-4 -4 1 -6 6 1 4 1 2 5 -4 3zM95 442l-3 -5 3 -5 5 -1 6 2 0 7 -6 2zM114 337l5 -1 2 3 1 4 -4 4 -3 -3 -2 -3zM197 380l5 -3 3 5 -2 5 -4 3 -6 -1 0 -6zM105 311l-2 -4 2 -3 3 -2 3 2 1 4 -3 2zM99 463l-1 -5 3 -3 5 2 1 4 0 5 -6 0zM27 325l-4 4 -5 0 -6 -2 1 -7 6 -2 6 1zM169 517l-2 4 -4 0 -4 -2 1 -5 4 -2 4 1zM142 358l2 -3 5 -1 2 4 1 5 -5 3 -3 -4zM126 459l4 -3 4 -1 4 3 -2 5 -3 2 -5 -2zM213 471l-2 -4 -1 -4 5 -2 4 1 0 5 -2 5zM101 427l6 -5 9 1 1 8 -2 8 -8 1 -6 -6zM57 385l-3 -3 -3 -6 6 -3 4 3 2 3 -1 6zM193 409l-5 1 -3 -5 2 -4 4 -2 3 3 2 3zM217 376l6 4 2 6 -3 7 -7 -2 -6 -4 1 -7zM121 356l1 6 -2 5 -6 1 -5 -4 0 -6 6 -2zM71 310l-1 4 -3 4 -5 -2 -1 -4 2 -4 4 -2zM260 473l-2 4 -5 -1 -1 -4 0 -5 5 -1 4 3zM150 330l-7 1 -4 -7 2 -5 6 -3 6 2 0 7zM93 417l6 3 2 5 -3 4 -6 2 -5 -3 2 -6zM83 456l0 3 -2 4 -4 -2 -2 -4 1 -5 5 0zM63 406l-3 1 -5 0 -2 -5 3 -4 5 1 4 2zM64 421l-5 3 -4 -2 -4 -4 2 -5 5 0 4 3zM244 336l-4 5 -6 -2 -3 -6 1 -7 8 -1 6 4zM129 388l6 -2 5 3 1 6 -4 6 -8 0 -3 -7zM216 299l1 5 -2 4 -5 2 -3 -5 0 -4 4 -5zM182 313l-5 -2 0 -5 2 -5 5 1 3 3 -2 4zM120 481l-1 5 -4 3 -5 -2 -1 -5 2 -4 6 -2zM96 487l0 -7 5 -4 7 1 4 7 -5 6 -6 0zM17 315l-6 -5 1 -7 5 -4 6 1 1 6 -2 5zM93 491l7 -4 4 6 1 7 -6 3 -6 0 -1 -6zM19 353l7 1 7 4 -3 7 -6 4 -7 -2 -2 -8zM121 444l-5 5 -6 -3 -5 -3 1 -7 7 -1 5 3zM70 381l-4 -3 -1 -3 1 -5 5 0 2 4 0 3zM127 383l0 3 -2 3 -4 0 -2 -3 1 -4 4 -2zM247 473l3 3 0 5 -5 1 -3 -3 -3 -4 4 -3zM106 391l-2 4 -4 0 -4 -2 1 -4 3 -4 5 1zM118 402l-6 0 -2 -5 1 -5 5 -5 5 5 2 6zM204 365l3 -6 5 -4 5 4 3 6 -4 4 -6 -1zM231 469l-4 2 -4 0 -2 -4 1 -4 5 -2 4 2zM82 321l-5 1 -2 -4 -1 -4 5 -2 3 1 2 4z" fill="rgb(185,185,185)" stroke="#3a3a3a" stroke-width="1.8"/>
</g>
</g>
<rect x="198" y="502" width="39.5" height="4.5" fill="#fff" />
<clipPath id="semclip3"><rect x="19.2" y="526.8" width="229.60000000000002" height="231.9000000000001"/></clipPath>
<filter id="semb3" x="0" y="0" width="100%" height="100%" color-interpolation-filters="sRGB"><feGaussianBlur in="SourceGraphic" stdDeviation="1.3" result="b"/><feTurbulence type="fractalNoise" baseFrequency="0.5" numOctaves="2" seed="13" result="n"/><feColorMatrix in="n" type="matrix" values="1 0 0 0 0  1 0 0 0 0  1 0 0 0 0  0 0 0 0 1" result="ng"/><feComposite in="b" in2="ng" operator="arithmetic" k1="0.90" k2="0.55" k3="0" k4="0"/></filter>
<g clip-path="url(#semclip3)">
<g filter="url(#semb3)">
<rect x="19.2" y="526.8" width="229.60000000000002" height="231.9000000000001" fill="#383838"/>
<path d="M213 721l-5 4 -4 -4 0 -5 3 -5 6 1 2 5zM73 734l-4 -4 0 -6 6 -2 5 2 2 6 -4 5zM129 711l-7 -2 4 -6 3 -5 6 2 3 5 -3 5zM86 536l9 6 6 7 -5 9 -10 2 -6 -7 -3 -10zM243 682l9 -2 10 2 0 10 -6 7 -9 0 -7 -7zM115 739l-6 0 -4 -6 4 -5 5 -2 6 3 0 7zM58 734l-3 -4 2 -6 6 1 5 1 0 6 -5 2zM148 662l-10 0 1 -10 5 -6 8 -3 6 7 -2 9zM51 590l-2 8 -5 5 -8 -2 -3 -7 5 -6 6 -1zM105 732l-7 0 -5 -5 -1 -10 10 0 7 1 1 9zM12 592l7 4 7 7 -7 7 -7 -1 -8 -2 -1 -11zM128 636l6 -5 6 -2 8 3 -3 8 -5 5 -7 -3zM65 586l6 -5 8 3 4 8 -6 7 -8 0 -9 -5zM218 767l2 -6 4 -3 6 -1 1 5 -2 4 -5 3zM139 550l3 -5 7 -2 3 6 -2 6 -5 3 -8 0zM119 668l1 5 0 5 -6 1 -3 -4 -1 -5 4 -4zM183 630l-9 7 -10 -3 -6 -8 4 -9 9 -2 7 6zM205 595l4 10 -6 8 -10 2 -8 -7 2 -11 8 -6zM60 532l4 -4 5 -1 1 5 1 4 -4 2 -5 -1zM45 746l-4 6 -7 0 -7 -5 3 -8 7 -2 5 3zM163 678l-4 -7 2 -9 9 -4 6 7 0 7 -5 6zM182 533l-3 -8 1 -9 9 -1 6 5 2 8 -6 9zM169 639l2 -6 7 2 3 6 -1 6 -7 2 -5 -4zM203 732l-3 4 -5 0 -3 -5 1 -5 6 -1 5 2zM247 567l-8 0 -4 -7 1 -7 7 -6 6 7 4 6zM110 604l6 2 -2 6 -2 5 -7 0 -2 -7 2 -4zM51 600l0 -10 2 -7 9 -6 7 8 -3 8 -5 7zM71 745l-1 -4 2 -4 5 -2 2 5 0 4 -4 3zM157 685l-5 5 -9 0 -1 -9 4 -6 9 -4 5 7zM210 545l0 6 -5 3 -6 -2 -1 -6 3 -4 5 -2zM248 662l9 2 3 10 -8 6 -8 0 -7 -6 3 -9zM112 547l3 6 -6 5 -6 1 -4 -5 1 -7 6 -2zM53 774l-5 -9 4 -7 7 -6 9 3 1 10 -6 6zM181 655l-2 9 -11 5 -7 -10 0 -9 8 -6 9 2zM177 577l-3 3 -6 1 -2 -6 3 -3 4 -3 4 3zM22 620l-5 6 -8 -1 -2 -6 0 -8 7 -2 6 4zM58 528l-5 -3 -1 -4 1 -5 4 -1 4 3 -1 5zM10 671l4 -6 7 -6 5 8 2 8 -6 7 -10 -2zM225 536l7 -6 11 0 6 10 -6 11 -11 0 -8 -5zM139 514l7 1 7 3 -3 8 -6 4 -8 -2 -3 -8zM198 663l-4 0 -3 -3 2 -5 4 0 4 1 2 5z" fill="rgb(135,135,135)" stroke="#383838" stroke-width="2.0"/>
<path d="M71 681l6 1 3 4 0 5 -3 5 -6 -3 0 -5zM95 631l-9 5 -8 -3 -5 -7 6 -7 7 -1 7 4zM242 729l-7 -9 -3 -8 6 -9 10 3 4 7 -1 9zM154 629l-4 2 -5 -2 -1 -5 3 -3 5 -1 2 4zM145 691l10 4 7 10 -7 11 -11 -2 -8 -6 -2 -12zM51 611l1 -9 9 1 7 2 3 9 -8 5 -7 -2zM20 549l8 -3 4 7 -2 8 -7 4 -10 -3 2 -9zM233 719l-3 5 -5 -2 -2 -4 0 -5 5 -3 5 4zM49 749l4 7 1 8 -7 4 -9 -3 -1 -8 4 -8zM151 698l1 -7 8 -4 8 4 0 9 -5 7 -9 -1zM63 667l4 1 2 3 -1 5 -5 0 -3 -2 -1 -5zM153 659l6 2 2 5 -4 5 -6 0 -3 -4 0 -6zM18 630l-2 -5 5 -3 5 1 3 5 -3 5 -5 -1zM64 670l5 -10 9 -5 9 4 6 11 -11 5 -9 2zM26 706l3 -6 6 0 5 3 0 6 -5 3 -4 -2zM50 722l-6 3 -5 -4 -2 -6 3 -5 7 1 4 5zM169 725l-1 5 -5 3 -5 -3 1 -5 2 -5 5 1zM94 756l-5 4 -5 3 -5 -4 -1 -7 6 -2 5 1zM136 592l-7 -1 -5 -4 0 -6 4 -6 6 4 5 5zM232 642l-1 4 -5 2 -4 -3 0 -5 4 -3 5 0zM233 576l7 0 7 5 -2 8 -7 2 -7 -2 -3 -7zM208 683l5 -6 8 4 0 7 -2 7 -8 2 -6 -6zM35 542l10 0 7 7 -1 11 -11 7 -10 -7 -1 -11zM119 588l-7 1 -7 -6 3 -8 6 -5 8 4 3 8zM153 575l7 -2 5 4 3 7 -6 6 -7 -2 -3 -6zM234 758l5 -4 5 -3 6 3 -2 7 -4 4 -7 0zM38 657l2 4 -2 5 -5 -1 -5 -2 2 -5 4 -2zM22 734l5 3 3 5 -6 3 -4 0 -5 -3 3 -5zM185 588l4 -4 5 1 3 4 -2 5 -5 1 -5 -2zM18 664l-6 -1 -3 -6 1 -6 7 -2 5 4 1 6zM165 701l7 -2 4 5 0 5 -3 5 -5 -2 -4 -4zM213 642l-4 -2 -3 -4 2 -5 5 2 5 1 0 6zM52 535l-3 6 -6 1 -6 -2 -1 -7 5 -5 6 2zM150 641l4 -4 5 1 3 3 1 5 -5 3 -5 -3zM253 660l-5 1 -6 -2 -2 -6 6 -4 6 1 2 5zM229 730l-3 4 -5 1 -2 -4 0 -4 4 -3 5 1zM242 689l-10 0 -7 -3 -5 -8 7 -7 9 0 5 7zM99 686l-2 4 -6 2 -5 -5 3 -6 5 -1 5 0zM61 629l3 5 -2 7 -8 1 -6 -5 1 -7 6 -3zM205 689l5 4 -4 5 -5 2 -6 -2 2 -6 3 -4zM229 537l-4 6 -7 -2 -4 -5 1 -8 7 -1 7 3zM172 545l5 -4 7 3 1 7 -3 5 -8 2 -3 -7zM108 654l7 0 1 7 -2 6 -7 1 -7 -3 3 -7zM31 771l-4 -5 0 -5 3 -5 6 0 4 6 -3 6zM82 649l-4 -9 4 -8 8 -3 9 3 1 10 -8 5zM70 568l9 1 2 9 -5 7 -8 1 -5 -6 -2 -9zM29 536l7 1 2 7 -6 4 -6 3 -6 -6 5 -6zM130 630l5 8 -5 7 -8 1 -7 -4 0 -8 7 -4z" fill="rgb(150,150,150)" stroke="#383838" stroke-width="2.0"/>
<path d="M54 582l-1 -5 0 -6 6 -1 4 4 0 5 -4 4zM222 679l-10 2 -9 -7 5 -9 7 -7 9 3 4 10zM210 708l-3 -4 2 -5 5 -1 4 2 0 4 -3 3zM53 682l2 8 -7 4 -7 -1 -5 -6 4 -7 7 -2zM67 656l-7 -1 -6 -4 0 -7 7 -4 5 4 6 5zM240 613l3 -5 6 3 0 5 -1 6 -6 0 -3 -4zM179 756l-1 -9 4 -6 10 -5 4 10 0 9 -8 4zM142 768l-11 -1 -6 -5 -2 -9 7 -7 10 3 5 9zM228 703l1 -5 4 -2 4 1 3 5 -3 5 -5 -2zM200 560l6 2 0 6 -1 7 -7 -3 -3 -4 0 -5zM97 738l-2 4 -4 2 -5 -1 0 -5 3 -3 5 -1zM88 701l3 6 -5 4 -4 3 -7 -3 1 -7 6 -4zM250 643l-7 -6 2 -11 11 -1 6 6 5 10 -9 6zM121 526l-5 -2 2 -5 3 -2 5 -1 2 5 -3 4zM126 750l-7 -2 -2 -7 2 -8 8 0 6 5 0 8zM135 661l2 7 -2 5 -5 3 -6 -3 1 -6 3 -4zM56 747l5 -3 4 0 3 4 0 5 -5 2 -5 -2zM244 537l6 -4 7 4 -1 8 -4 5 -8 0 -2 -7zM29 570l6 5 -3 8 -8 2 -7 -3 -1 -8 5 -5zM149 741l-4 -2 -1 -5 5 -3 4 2 3 4 -2 5zM226 536l-7 -9 5 -9 9 -4 10 4 -1 10 -5 7zM176 750l-2 11 -10 0 -8 -4 0 -9 6 -9 9 4zM223 661l-1 -6 5 -2 5 -1 4 4 -3 5 -5 1zM160 538l-6 6 -10 1 -5 -9 5 -8 8 -5 9 5zM73 665l-3 -11 2 -8 8 -9 10 8 -2 9 -4 8zM108 674l-4 4 -6 -1 -4 -4 2 -6 5 -2 7 2zM122 660l-11 -4 -9 -5 -2 -12 11 -6 8 7 6 8zM215 516l2 7 -2 6 -5 5 -6 -5 0 -7 4 -5zM88 529l-5 4 -7 3 -5 -6 3 -7 6 -3 7 1zM207 602l-5 -6 -1 -7 7 -5 6 4 4 6 -3 8zM142 772l-9 -7 6 -9 9 -1 6 3 4 8 -7 7zM236 730l5 0 4 3 -1 6 -5 1 -4 -1 -3 -5zM229 567l-5 -2 -6 -5 3 -7 7 1 7 2 -1 7zM126 696l1 8 -6 4 -7 1 -6 -5 2 -10 9 0zM125 752l2 4 -4 4 -5 -1 -3 -4 1 -5 5 -3zM55 563l-1 5 -6 3 -3 -4 -3 -6 5 -5 5 3zM97 618l-5 4 -7 -2 0 -6 1 -6 7 -3 3 7zM191 537l1 6 -6 2 -6 -2 -2 -6 4 -6 7 -1zM15 535l4 4 2 5 -4 4 -5 -2 -2 -3 -1 -6zM222 566l-2 6 -6 -1 -3 -3 -1 -5 5 -2 4 1zM106 527l4 -2 4 2 2 4 -3 4 -5 1 -2 -5z" fill="rgb(165,165,165)" stroke="#383838" stroke-width="2.0"/>
<path d="M57 643l-8 7 -8 -2 -7 -4 1 -10 9 -3 7 3zM31 684l-4 -1 -2 -4 3 -4 4 0 3 3 0 5zM5 763l2 -9 10 2 6 6 -1 8 -8 5 -7 -4zM176 605l-7 -6 -4 -7 4 -9 9 2 5 5 1 9zM153 517l5 -5 7 5 -1 6 -1 8 -8 -4 -3 -5zM129 667l-7 -5 -1 -8 3 -8 9 2 6 6 -3 7zM227 541l7 6 -4 9 -9 5 -9 -7 1 -10 5 -9zM137 608l3 10 -10 5 -8 -5 -5 -8 7 -6 8 -2zM60 699l-1 -5 4 -3 4 1 3 4 -2 4 -4 3zM144 737l6 7 -4 8 -8 5 -8 -6 -1 -8 7 -6zM206 656l-3 -5 3 -4 5 -2 5 3 1 6 -6 2zM30 520l3 7 0 7 -8 1 -6 -3 -1 -7 4 -7zM227 623l-5 3 -4 0 -5 -1 1 -6 5 -2 5 1zM30 719l-3 7 -6 4 -8 -2 -3 -8 6 -7 8 2zM150 594l2 -6 6 2 4 4 -1 6 -5 4 -5 -4zM244 635l-6 1 -5 -4 0 -6 5 -3 5 1 1 5zM183 619l-7 2 -7 -6 3 -7 6 -5 5 5 5 5zM208 765l-5 2 -4 -2 -3 -5 5 -3 4 0 4 4zM58 554l6 -3 6 4 2 6 -3 7 -7 -3 -7 -3zM24 691l-2 6 -6 0 -7 -1 1 -7 4 -5 6 2zM111 553l-6 -10 10 -8 10 1 7 7 -3 10 -9 4zM193 651l-5 -8 4 -9 8 -4 8 5 3 9 -7 8zM182 776l-12 0 -4 -10 3 -10 9 -4 10 5 -2 10zM178 750l-8 -2 -5 -6 2 -8 7 -3 7 4 1 8zM53 652l5 4 3 3 -1 6 -6 2 -4 -4 -1 -6zM135 686l-2 6 -5 2 -7 -1 -2 -7 5 -4 6 -1zM39 702l6 -9 11 -1 2 10 2 10 -10 6 -10 -6zM65 533l11 2 6 8 -1 10 -9 6 -9 -6 -5 -10zM92 663l-4 -6 -3 -6 4 -7 9 1 3 7 -2 6zM102 712l4 -4 5 -1 5 3 -1 6 -4 3 -6 -2zM72 561l1 -6 4 -3 6 0 1 6 -2 5 -5 1zM166 540l-4 -6 3 -7 6 -4 7 4 1 8 -5 7zM214 738l10 -2 6 3 3 7 -4 5 -8 2 -8 -5zM102 576l-5 1 -4 -4 1 -5 4 -2 5 2 3 4zM208 747l-5 4 -5 -3 -3 -5 3 -5 6 -1 3 4zM245 594l4 -3 5 -1 3 5 -2 4 -4 3 -6 -1zM94 636l6 -4 7 -2 3 8 -1 6 -7 5 -5 -6zM225 601l7 -5 8 2 2 7 -2 6 -7 3 -5 -5zM197 570l0 9 -5 7 -9 -2 -6 -6 5 -8 6 -3zM210 611l0 -6 5 -5 7 0 4 8 -5 6 -7 2zM91 528l7 1 0 6 -4 5 -6 1 -4 -5 4 -5zM261 747l-1 8 -8 5 -6 -6 -2 -7 4 -6 8 0zM30 590l2 5 -2 4 -4 4 -6 -3 0 -6 4 -3zM207 581l-2 5 -4 2 -4 -3 -2 -5 5 -3 5 0zM102 735l10 2 1 10 -5 8 -10 1 -7 -7 4 -8zM261 718l-2 5 -3 3 -5 -2 -1 -5 2 -5 6 -1zM122 706l9 4 -1 9 -3 8 -10 1 -6 -8 2 -9z" fill="rgb(180,180,180)" stroke="#383838" stroke-width="2.0"/>
<path d="M186 728l-4 4 -5 2 -5 -2 2 -6 3 -3 5 1zM193 546l5 3 0 7 -6 1 -6 1 -3 -6 5 -4zM138 578l-2 -5 2 -5 5 -2 5 4 -1 5 -4 4zM17 594l-4 -3 -4 -4 5 -3 4 -1 4 3 -1 5zM52 737l-4 4 -4 -4 -1 -5 3 -3 5 -1 2 5zM101 619l6 1 0 7 -4 2 -5 3 -2 -5 1 -4zM120 574l-6 -6 -2 -7 5 -6 8 1 5 6 -4 7zM163 625l-6 -2 -6 -4 2 -7 7 -2 6 2 1 7zM173 556l1 5 -3 5 -7 0 -5 -5 2 -7 7 -1zM102 691l6 -1 2 6 -2 5 -6 0 -4 -3 1 -4zM105 590l-2 8 -6 8 -9 -6 0 -8 3 -7 8 -2zM50 579l-6 8 -10 -1 -7 -9 6 -8 8 -6 8 7zM29 637l0 8 -4 8 -10 1 -2 -9 -1 -9 9 -2zM211 585l0 -7 8 -5 5 6 3 7 -5 6 -8 1zM251 702l5 0 4 4 -2 4 -4 2 -6 -1 -1 -6zM65 542l-3 7 -4 7 -8 -4 -2 -7 3 -6 8 -3zM133 724l4 -3 4 -2 3 4 -1 4 -3 3 -5 -1zM237 525l2 -9 10 -1 7 7 0 10 -9 6 -8 -6zM182 681l4 -3 5 1 3 4 -3 5 -4 2 -5 -3zM81 564l6 -3 4 7 -1 6 -5 6 -6 -4 0 -6zM38 611l2 10 -9 5 -9 -3 -2 -9 3 -7 8 0zM175 688l6 4 -3 6 -5 3 -7 -2 0 -7 4 -3zM183 710l5 2 1 5 -4 3 -5 1 -4 -4 3 -5zM189 618l0 6 1 7 -7 0 -5 -3 0 -6 4 -4zM179 665l-3 -6 4 -6 6 3 6 3 -2 7 -7 1zM107 522l-2 7 -8 -1 -3 -5 1 -6 6 -5 6 4zM192 710l-9 3 -7 -8 2 -11 10 -2 10 2 0 11zM205 616l6 8 -2 9 -9 3 -11 -2 -1 -11 8 -6zM142 539l-6 2 -4 -2 -1 -5 3 -4 4 -1 4 4zM78 640l-11 -2 -4 -7 -1 -9 9 -3 7 3 4 8zM38 678l-3 -6 3 -5 5 -2 6 2 0 7 -5 3zM75 718l-5 2 -6 -4 0 -7 5 -3 7 -1 3 7zM129 632l-7 0 -5 -5 -1 -7 7 -4 6 3 4 7zM111 766l-8 0 -6 -5 3 -8 7 -2 8 1 3 9zM78 605l-2 -5 3 -4 5 1 4 4 -1 5 -5 1zM44 620l3 3 0 5 -5 2 -4 -2 -3 -5 3 -5zM67 753l9 -1 7 5 0 10 -8 6 -9 -4 -7 -9zM115 588l6 -1 5 3 1 7 -5 5 -6 -2 -4 -5zM256 740l-7 3 -7 -6 2 -9 8 -2 8 1 1 8zM210 677l-4 6 -6 -3 -4 -5 2 -7 7 -2 5 5zM171 552l-9 7 -12 -5 1 -11 5 -8 11 -3 8 10zM135 613l-4 -10 5 -10 10 0 8 5 2 11 -11 2zM205 527l1 7 -2 11 -12 0 -2 -10 1 -8 7 -6zM137 555l5 5 -4 7 -7 -2 -4 -5 -1 -7 7 -3zM254 587l-9 -7 -3 -9 7 -7 9 -1 6 8 -3 8zM77 608l3 4 -4 4 -4 1 -4 -2 2 -4 2 -5zM19 711l-7 2 -3 -7 1 -7 7 -3 9 2 -1 9zM149 715l4 -3 5 2 -2 5 -2 4 -5 0 -2 -4zM158 570l-4 2 -5 -2 0 -5 3 -4 5 1 3 4z" fill="rgb(195,195,195)" stroke="#383838" stroke-width="2.0"/>
</g>
</g>
<rect x="181.9" y="744.3" width="52.900000000000006" height="4.5" fill="#fff" />
<clipPath id="fmclip1"><rect x="261" y="92.2" width="234" height="187.40000000000003"/></clipPath>
<filter id="fmf1" x="0" y="0" width="100%" height="100%" color-interpolation-filters="sRGB"><feGaussianBlur stdDeviation="0.7"/><feComponentTransfer><feFuncR type="table" tableValues="0.11 0.08 0.08 0.20 0.38 0.55 0.92 0.97 0.98 0.75 0.55"/><feFuncG type="table" tableValues="0.04 0.05 0.07 0.45 0.95 0.95 0.95 0.60 0.18 0.06 0.02"/><feFuncB type="table" tableValues="0.58 0.96 0.97 0.98 0.97 0.60 0.28 0.15 0.06 0.04 0.02"/></feComponentTransfer></filter>
<g clip-path="url(#fmclip1)">
<g filter="url(#fmf1)">
<rect x="251" y="82.2" width="254" height="207.40000000000003" fill="rgb(0,0,0)"/>
<g filter="url(#fmglow)">
<path d="M288 208a12 12 0 1 0 25 0a12 12 0 1 0 -25 0M415 186a11 11 0 1 0 22 0a11 11 0 1 0 -22 0M493 166a13 13 0 1 0 26 0a13 13 0 1 0 -26 0M482 126a11 11 0 1 0 22 0a11 11 0 1 0 -22 0M271 207a10 10 0 1 0 21 0a10 10 0 1 0 -21 0M455 284a11 11 0 1 0 23 0a11 11 0 1 0 -23 0M311 195a13 13 0 1 0 26 0a13 13 0 1 0 -26 0M269 88a11 11 0 1 0 22 0a11 11 0 1 0 -22 0M238 207a11 11 0 1 0 22 0a11 11 0 1 0 -22 0M384 254a10 10 0 1 0 21 0a10 10 0 1 0 -21 0M457 169a13 13 0 1 0 27 0a13 13 0 1 0 -27 0M456 121a13 13 0 1 0 25 0a13 13 0 1 0 -25 0M346 190a13 13 0 1 0 26 0a13 13 0 1 0 -26 0M250 94a12 12 0 1 0 24 0a12 12 0 1 0 -24 0M379 232a10 10 0 1 0 21 0a10 10 0 1 0 -21 0M495 98a12 12 0 1 0 24 0a12 12 0 1 0 -24 0M439 281a13 13 0 1 0 27 0a13 13 0 1 0 -27 0M421 203a11 11 0 1 0 23 0a11 11 0 1 0 -23 0M299 96a11 11 0 1 0 22 0a11 11 0 1 0 -22 0M327 274a11 11 0 1 0 21 0a11 11 0 1 0 -21 0M433 245a13 13 0 1 0 26 0a13 13 0 1 0 -26 0M326 179a12 12 0 1 0 24 0a12 12 0 1 0 -24 0M399 255a11 11 0 1 0 22 0a11 11 0 1 0 -22 0M361 204a10 10 0 1 0 21 0a10 10 0 1 0 -21 0M311 170a13 13 0 1 0 26 0a13 13 0 1 0 -26 0M253 115a11 11 0 1 0 22 0a11 11 0 1 0 -22 0M413 169a13 13 0 1 0 25 0a13 13 0 1 0 -25 0M314 110a13 13 0 1 0 27 0a13 13 0 1 0 -27 0M405 236a13 13 0 1 0 26 0a13 13 0 1 0 -26 0M272 130a13 13 0 1 0 25 0a13 13 0 1 0 -25 0M249 183a12 12 0 1 0 24 0a12 12 0 1 0 -24 0M290 114a11 11 0 1 0 22 0a11 11 0 1 0 -22 0M302 120a13 13 0 1 0 26 0a13 13 0 1 0 -26 0M423 148a13 13 0 1 0 26 0a13 13 0 1 0 -26 0M303 246a12 12 0 1 0 23 0a12 12 0 1 0 -23 0M308 218a11 11 0 1 0 23 0a11 11 0 1 0 -23 0M424 228a11 11 0 1 0 21 0a11 11 0 1 0 -21 0M242 231a13 13 0 1 0 25 0a13 13 0 1 0 -25 0M433 179a13 13 0 1 0 27 0a13 13 0 1 0 -27 0M235 91a12 12 0 1 0 24 0a12 12 0 1 0 -24 0M334 216a12 12 0 1 0 24 0a12 12 0 1 0 -24 0M338 282a13 13 0 1 0 25 0a13 13 0 1 0 -25 0M447 218a12 12 0 1 0 24 0a12 12 0 1 0 -24 0M443 202a11 11 0 1 0 22 0a11 11 0 1 0 -22 0M477 157a11 11 0 1 0 22 0a11 11 0 1 0 -22 0M329 237a13 13 0 1 0 25 0a13 13 0 1 0 -25 0M327 157a11 11 0 1 0 23 0a11 11 0 1 0 -23 0M389 189a12 12 0 1 0 25 0a12 12 0 1 0 -25 0M327 198a12 12 0 1 0 25 0a12 12 0 1 0 -25 0M434 163a13 13 0 1 0 26 0a13 13 0 1 0 -26 0M454 146a12 12 0 1 0 23 0a12 12 0 1 0 -23 0M492 135a13 13 0 1 0 27 0a13 13 0 1 0 -27 0M361 254a12 12 0 1 0 24 0a12 12 0 1 0 -24 0M370 170a11 11 0 1 0 23 0a11 11 0 1 0 -23 0M470 83a13 13 0 1 0 26 0a13 13 0 1 0 -26 0M273 225a13 13 0 1 0 25 0a13 13 0 1 0 -25 0M395 211a13 13 0 1 0 26 0a13 13 0 1 0 -26 0M417 249a10 10 0 1 0 21 0a10 10 0 1 0 -21 0M363 153a11 11 0 1 0 22 0a11 11 0 1 0 -22 0M298 230a12 12 0 1 0 23 0a12 12 0 1 0 -23 0M313 258a11 11 0 1 0 23 0a11 11 0 1 0 -23 0M288 277a13 13 0 1 0 26 0a13 13 0 1 0 -26 0M286 155a13 13 0 1 0 25 0a13 13 0 1 0 -25 0M449 235a12 12 0 1 0 24 0a12 12 0 1 0 -24 0M384 163a13 13 0 1 0 27 0a13 13 0 1 0 -27 0M350 215a12 12 0 1 0 24 0a12 12 0 1 0 -24 0M437 106a11 11 0 1 0 22 0a11 11 0 1 0 -22 0M268 158a13 13 0 1 0 26 0a13 13 0 1 0 -26 0M415 280a13 13 0 1 0 26 0a13 13 0 1 0 -26 0M399 159a12 12 0 1 0 23 0a12 12 0 1 0 -23 0M376 201a12 12 0 1 0 24 0a12 12 0 1 0 -24 0M236 109a13 13 0 1 0 26 0a13 13 0 1 0 -26 0M480 106a11 11 0 1 0 22 0a11 11 0 1 0 -22 0M342 152a10 10 0 1 0 21 0a10 10 0 1 0 -21 0M344 229a12 12 0 1 0 25 0a12 12 0 1 0 -25 0M317 88a13 13 0 1 0 27 0a13 13 0 1 0 -27 0M270 106a13 13 0 1 0 26 0a13 13 0 1 0 -26 0M273 270a12 12 0 1 0 24 0a12 12 0 1 0 -24 0M375 183a12 12 0 1 0 23 0a12 12 0 1 0 -23 0M429 266a13 13 0 1 0 27 0a13 13 0 1 0 -27 0M263 193a13 13 0 1 0 26 0a13 13 0 1 0 -26 0M358 240a11 11 0 1 0 21 0a11 11 0 1 0 -21 0M456 184a11 11 0 1 0 21 0a11 11 0 1 0 -21 0M430 289a11 11 0 1 0 21 0a11 11 0 1 0 -21 0M449 267a10 10 0 1 0 21 0a10 10 0 1 0 -21 0M467 133a12 12 0 1 0 23 0a12 12 0 1 0 -23 0M255 217a11 11 0 1 0 21 0a11 11 0 1 0 -21 0M300 81a12 12 0 1 0 25 0a12 12 0 1 0 -25 0M284 79a12 12 0 1 0 24 0a12 12 0 1 0 -24 0M320 289a11 11 0 1 0 23 0a11 11 0 1 0 -23 0M318 229a12 12 0 1 0 24 0a12 12 0 1 0 -24 0M362 224a11 11 0 1 0 23 0a11 11 0 1 0 -23 0M404 199a12 12 0 1 0 25 0a12 12 0 1 0 -25 0M463 99a12 12 0 1 0 24 0a12 12 0 1 0 -24 0M342 167a10 10 0 1 0 21 0a10 10 0 1 0 -21 0M252 79a13 13 0 1 0 25 0a13 13 0 1 0 -25 0M494 114a13 13 0 1 0 26 0a13 13 0 1 0 -26 0M389 224a13 13 0 1 0 26 0a13 13 0 1 0 -26 0M471 247a12 12 0 1 0 23 0a12 12 0 1 0 -23 0M432 215a13 13 0 1 0 25 0a13 13 0 1 0 -25 0M496 247a11 11 0 1 0 22 0a11 11 0 1 0 -22 0M478 174a12 12 0 1 0 25 0a12 12 0 1 0 -25 0M378 149a11 11 0 1 0 23 0a11 11 0 1 0 -23 0M356 177a10 10 0 1 0 21 0a10 10 0 1 0 -21 0M490 152a11 11 0 1 0 22 0a11 11 0 1 0 -22 0M395 175a11 11 0 1 0 22 0a11 11 0 1 0 -22 0M462 218a12 12 0 1 0 24 0a12 12 0 1 0 -24 0M377 217a12 12 0 1 0 24 0a12 12 0 1 0 -24 0M496 293a13 13 0 1 0 26 0a13 13 0 1 0 -26 0M284 98a11 11 0 1 0 21 0a11 11 0 1 0 -21 0" fill="#282828"/>
</g>
<path d="M495 118A8 8 0 0 1 501 126M276 213A7 7 0 0 1 274 205M287 91A8 8 0 0 1 277 96M393 262A8 8 0 0 1 388 258M459 170A11 11 0 0 1 470 159M367 196A10 10 0 0 1 351 195M255 99A9 9 0 0 1 258 86M514 102A9 9 0 0 1 501 105M462 284A10 10 0 0 1 453 292M426 197A9 9 0 0 1 434 195M342 280A8 8 0 0 1 331 276M373 196A8 8 0 0 1 379 207M332 165A10 10 0 0 1 325 180M271 112A8 8 0 0 1 264 123M321 118A11 11 0 0 1 319 104M308 111A8 8 0 0 1 305 121M446 148A10 10 0 0 1 437 158M263 236A10 10 0 0 1 252 240M437 176A11 11 0 0 1 451 170M253 98A9 9 0 0 1 247 100M338 212A9 9 0 0 1 344 208M467 224A9 9 0 0 1 452 223M460 197A8 8 0 0 1 460 208M488 165A8 8 0 0 1 480 160M438 167A10 10 0 0 1 441 155M465 155A9 9 0 0 1 457 146M515 138A11 11 0 0 1 500 145M422 254A8 8 0 0 1 420 248M300 165A10 10 0 0 1 289 155M407 167A10 10 0 0 1 397 174M440 108A8 8 0 0 1 444 99M491 114A8 8 0 0 1 483 104M337 79A10 10 0 0 1 337 96M279 116A10 10 0 0 1 274 103M290 262A9 9 0 0 1 295 270M445 276A10 10 0 0 1 435 273M274 183A10 10 0 0 1 284 186M462 178A8 8 0 0 1 471 178M445 295A8 8 0 0 1 439 297M485 139A9 9 0 0 1 470 137M311 72A10 10 0 0 1 321 79M286 79A9 9 0 0 1 299 71M326 283A8 8 0 0 1 338 284M325 237A9 9 0 0 1 323 223M406 198A10 10 0 0 1 412 190M348 161A8 8 0 0 1 358 161M257 74A10 10 0 0 1 269 70M497 115A10 10 0 0 1 501 106M479 255A9 9 0 0 1 474 248M449 224A10 10 0 0 1 439 223M396 155A8 8 0 0 1 385 156M360 182A8 8 0 0 1 363 170M499 144A8 8 0 0 1 509 149M407 183A8 8 0 0 1 398 176M476 227A9 9 0 0 1 465 221M503 284A10 10 0 0 1 512 283M291 105A8 8 0 0 1 289 92" fill="none" stroke="#757575" stroke-width="1.6" filter="url(#fmcres)"/>
<g filter="url(#fmhot)">
<ellipse cx="290" cy="207" rx="3.9" ry="2.8" transform="rotate(-88 290 207)" fill="#575757"/>
<ellipse cx="429" cy="195" rx="4.2" ry="2.3" transform="rotate(160 429 195)" fill="#686868"/>
<ellipse cx="426" cy="179" rx="3.4" ry="1.6" transform="rotate(-2 426 179)" fill="#8b8b8b"/>
<ellipse cx="422" cy="192" rx="2.0" ry="1.3" transform="rotate(218 422 192)" fill="#9e9e9e"/>
<ellipse cx="496" cy="161" rx="3.9" ry="2.4" transform="rotate(-62 496 161)" fill="#a3a3a3"/>
<ellipse cx="498" cy="170" rx="3.2" ry="1.2" transform="rotate(242 498 170)" fill="#848484"/>
<ellipse cx="498" cy="130" rx="3.6" ry="1.4" transform="rotate(127 498 130)" fill="#555555"/>
<ellipse cx="492" cy="116" rx="2.8" ry="3.1" transform="rotate(-4 492 116)" fill="#7c7c7c"/>
<ellipse cx="486" cy="129" rx="1.9" ry="1.5" transform="rotate(245 486 129)" fill="#8f8f8f"/>
<ellipse cx="499" cy="121" rx="2.0" ry="2.1" transform="rotate(51 499 121)" fill="#4e4e4e"/>
<ellipse cx="283" cy="215" rx="4.0" ry="2.3" transform="rotate(166 283 215)" fill="#535353"/>
<ellipse cx="279" cy="201" rx="2.2" ry="1.3" transform="rotate(-19 279 201)" fill="#898989"/>
<ellipse cx="274" cy="212" rx="2.1" ry="2.8" transform="rotate(235 274 212)" fill="#515151"/>
<ellipse cx="460" cy="283" rx="3.0" ry="1.7" transform="rotate(-78 460 283)" fill="#7d7d7d"/>
<ellipse cx="331" cy="187" rx="4.2" ry="2.6" transform="rotate(42 331 187)" fill="#595959"/>
<ellipse cx="332" cy="197" rx="3.7" ry="1.4" transform="rotate(99 332 197)" fill="#5f5f5f"/>
<ellipse cx="272" cy="91" rx="3.1" ry="2.2" transform="rotate(249 272 91)" fill="#797979"/>
<ellipse cx="281" cy="96" rx="2.8" ry="2.2" transform="rotate(170 281 96)" fill="#707070"/>
<ellipse cx="273" cy="84" rx="2.6" ry="1.7" transform="rotate(-59 273 84)" fill="#686868"/>
<ellipse cx="287" cy="93" rx="2.3" ry="2.6" transform="rotate(124 287 93)" fill="#535353"/>
<ellipse cx="258" cy="212" rx="2.9" ry="3.1" transform="rotate(119 258 212)" fill="#9d9d9d"/>
<ellipse cx="481" cy="172" rx="2.7" ry="2.2" transform="rotate(103 481 172)" fill="#979797"/>
<ellipse cx="474" cy="128" rx="2.4" ry="1.6" transform="rotate(141 474 128)" fill="#7e7e7e"/>
<ellipse cx="366" cy="198" rx="3.0" ry="2.2" transform="rotate(137 366 198)" fill="#7c7c7c"/>
<ellipse cx="349" cy="194" rx="3.2" ry="2.3" transform="rotate(247 349 194)" fill="#878787"/>
<ellipse cx="363" cy="182" rx="2.5" ry="1.4" transform="rotate(30 363 182)" fill="#595959"/>
<ellipse cx="263" cy="105" rx="4.1" ry="2.8" transform="rotate(176 263 105)" fill="#757575"/>
<ellipse cx="255" cy="93" rx="3.1" ry="1.2" transform="rotate(-78 255 93)" fill="#818181"/>
<ellipse cx="256" cy="101" rx="4.2" ry="2.0" transform="rotate(223 256 101)" fill="#535353"/>
<ellipse cx="264" cy="87" rx="2.2" ry="1.3" transform="rotate(9 264 87)" fill="#949494"/>
<ellipse cx="382" cy="228" rx="3.9" ry="2.7" transform="rotate(-66 382 228)" fill="#7f7f7f"/>
<ellipse cx="395" cy="229" rx="4.5" ry="1.4" transform="rotate(57 395 229)" fill="#7f7f7f"/>
<ellipse cx="389" cy="225" rx="2.4" ry="1.4" transform="rotate(-3 389 225)" fill="#999999"/>
<ellipse cx="499" cy="102" rx="2.7" ry="1.8" transform="rotate(241 499 102)" fill="#a7a7a7"/>
<ellipse cx="507" cy="105" rx="4.5" ry="1.2" transform="rotate(177 507 105)" fill="#5a5a5a"/>
<ellipse cx="445" cy="286" rx="3.5" ry="1.5" transform="rotate(235 445 286)" fill="#5b5b5b"/>
<ellipse cx="456" cy="273" rx="2.5" ry="1.1" transform="rotate(27 456 273)" fill="#4c4c4c"/>
<ellipse cx="425" cy="201" rx="3.5" ry="1.3" transform="rotate(-75 425 201)" fill="#8e8e8e"/>
<ellipse cx="438" cy="209" rx="4.0" ry="1.3" transform="rotate(131 438 209)" fill="#878787"/>
<ellipse cx="311" cy="89" rx="4.3" ry="1.2" transform="rotate(9 311 89)" fill="#989898"/>
<ellipse cx="302" cy="97" rx="4.5" ry="1.8" transform="rotate(263 302 97)" fill="#929292"/>
<ellipse cx="344" cy="277" rx="3.7" ry="1.1" transform="rotate(124 344 277)" fill="#696969"/>
<ellipse cx="335" cy="281" rx="4.5" ry="2.2" transform="rotate(202 335 281)" fill="#6a6a6a"/>
<ellipse cx="439" cy="235" rx="3.0" ry="3.0" transform="rotate(-35 439 235)" fill="#7c7c7c"/>
<ellipse cx="436" cy="248" rx="2.6" ry="2.3" transform="rotate(257 436 248)" fill="#7d7d7d"/>
<ellipse cx="445" cy="256" rx="2.1" ry="2.0" transform="rotate(190 445 256)" fill="#5a5a5a"/>
<ellipse cx="346" cy="173" rx="3.9" ry="2.7" transform="rotate(50 346 173)" fill="#636363"/>
<ellipse cx="419" cy="252" rx="2.1" ry="3.0" transform="rotate(74 419 252)" fill="#7a7a7a"/>
<ellipse cx="367" cy="209" rx="2.6" ry="1.3" transform="rotate(223 367 209)" fill="#6a6a6a"/>
<ellipse cx="379" cy="202" rx="3.7" ry="1.8" transform="rotate(80 379 202)" fill="#626262"/>
<ellipse cx="331" cy="163" rx="2.8" ry="2.2" transform="rotate(48 331 163)" fill="#5e5e5e"/>
<ellipse cx="257" cy="112" rx="2.1" ry="1.1" transform="rotate(-69 257 112)" fill="#868686"/>
<ellipse cx="273" cy="111" rx="3.7" ry="2.8" transform="rotate(67 273 111)" fill="#565656"/>
<ellipse cx="418" cy="164" rx="4.5" ry="1.5" transform="rotate(-54 418 164)" fill="#939393"/>
<ellipse cx="321" cy="115" rx="2.6" ry="2.0" transform="rotate(228 321 115)" fill="#787878"/>
<ellipse cx="329" cy="99" rx="4.1" ry="2.2" transform="rotate(9 329 99)" fill="#828282"/>
<ellipse cx="424" cy="244" rx="4.4" ry="1.4" transform="rotate(145 424 244)" fill="#555555"/>
<ellipse cx="410" cy="230" rx="3.5" ry="1.8" transform="rotate(-55 410 230)" fill="#565656"/>
<ellipse cx="268" cy="187" rx="2.5" ry="1.6" transform="rotate(125 268 187)" fill="#919191"/>
<ellipse cx="307" cy="117" rx="1.8" ry="1.2" transform="rotate(112 307 117)" fill="#8c8c8c"/>
<ellipse cx="293" cy="111" rx="2.2" ry="2.4" transform="rotate(-66 293 111)" fill="#555555"/>
<ellipse cx="298" cy="106" rx="2.3" ry="2.6" transform="rotate(-21 298 106)" fill="#555555"/>
<ellipse cx="312" cy="238" rx="2.2" ry="1.5" transform="rotate(-17 312 238)" fill="#8f8f8f"/>
<ellipse cx="319" cy="252" rx="3.3" ry="1.3" transform="rotate(140 319 252)" fill="#727272"/>
<ellipse cx="314" cy="224" rx="4.1" ry="1.4" transform="rotate(218 314 224)" fill="#959595"/>
<ellipse cx="324" cy="223" rx="2.2" ry="1.3" transform="rotate(137 324 223)" fill="#787878"/>
<ellipse cx="439" cy="222" rx="2.0" ry="1.6" transform="rotate(39 439 222)" fill="#8a8a8a"/>
<ellipse cx="261" cy="223" rx="2.6" ry="2.1" transform="rotate(40 261 223)" fill="#9f9f9f"/>
<ellipse cx="248" cy="100" rx="4.0" ry="1.4" transform="rotate(175 248 100)" fill="#5c5c5c"/>
<ellipse cx="256" cy="85" rx="3.8" ry="2.9" transform="rotate(54 256 85)" fill="#959595"/>
<ellipse cx="344" cy="226" rx="2.4" ry="2.7" transform="rotate(191 344 226)" fill="#868686"/>
<ellipse cx="343" cy="207" rx="2.6" ry="2.2" transform="rotate(-20 343 207)" fill="#525252"/>
<ellipse cx="354" cy="215" rx="4.2" ry="1.1" transform="rotate(84 354 215)" fill="#606060"/>
<ellipse cx="351" cy="222" rx="2.0" ry="1.1" transform="rotate(140 351 222)" fill="#a7a7a7"/>
<ellipse cx="338" cy="223" rx="4.3" ry="2.9" transform="rotate(231 338 223)" fill="#a3a3a3"/>
<ellipse cx="341" cy="286" rx="3.7" ry="2.7" transform="rotate(249 341 286)" fill="#646464"/>
<ellipse cx="456" cy="210" rx="2.3" ry="1.7" transform="rotate(-20 456 210)" fill="#8d8d8d"/>
<ellipse cx="460" cy="227" rx="4.5" ry="1.3" transform="rotate(174 460 227)" fill="#777777"/>
<ellipse cx="452" cy="216" rx="4.3" ry="1.6" transform="rotate(-76 452 216)" fill="#999999"/>
<ellipse cx="450" cy="208" rx="3.1" ry="1.2" transform="rotate(216 450 208)" fill="#848484"/>
<ellipse cx="489" cy="165" rx="2.2" ry="1.7" transform="rotate(171 489 165)" fill="#9c9c9c"/>
<ellipse cx="495" cy="155" rx="2.1" ry="1.1" transform="rotate(71 495 155)" fill="#6f6f6f"/>
<ellipse cx="350" cy="233" rx="3.8" ry="1.2" transform="rotate(61 350 233)" fill="#8f8f8f"/>
<ellipse cx="346" cy="155" rx="2.1" ry="1.3" transform="rotate(70 346 155)" fill="#515151"/>
<ellipse cx="346" cy="162" rx="3.5" ry="2.4" transform="rotate(124 346 162)" fill="#7a7a7a"/>
<ellipse cx="394" cy="186" rx="4.5" ry="1.1" transform="rotate(-71 394 186)" fill="#a2a2a2"/>
<ellipse cx="409" cy="194" rx="3.4" ry="1.3" transform="rotate(126 409 194)" fill="#616161"/>
<ellipse cx="404" cy="181" rx="3.4" ry="1.4" transform="rotate(18 404 181)" fill="#575757"/>
<ellipse cx="472" cy="140" rx="3.0" ry="2.1" transform="rotate(44 472 140)" fill="#5c5c5c"/>
<ellipse cx="506" cy="125" rx="2.3" ry="2.1" transform="rotate(7 506 125)" fill="#888888"/>
<ellipse cx="503" cy="145" rx="3.9" ry="1.3" transform="rotate(192 503 145)" fill="#4f4f4f"/>
<ellipse cx="389" cy="167" rx="2.2" ry="1.1" transform="rotate(65 389 167)" fill="#9d9d9d"/>
<ellipse cx="384" cy="177" rx="2.6" ry="1.3" transform="rotate(159 384 177)" fill="#5d5d5d"/>
<ellipse cx="479" cy="92" rx="3.3" ry="1.5" transform="rotate(206 479 92)" fill="#565656"/>
<ellipse cx="412" cy="205" rx="1.9" ry="2.1" transform="rotate(33 412 205)" fill="#6d6d6d"/>
<ellipse cx="320" cy="230" rx="2.6" ry="3.0" transform="rotate(87 320 230)" fill="#555555"/>
<ellipse cx="293" cy="273" rx="3.6" ry="1.1" transform="rotate(-63 293 273)" fill="#939393"/>
<ellipse cx="290" cy="157" rx="3.9" ry="1.4" transform="rotate(262 290 157)" fill="#656565"/>
<ellipse cx="467" cy="226" rx="2.6" ry="2.8" transform="rotate(37 467 226)" fill="#808080"/>
<ellipse cx="405" cy="161" rx="3.8" ry="1.9" transform="rotate(74 405 161)" fill="#777777"/>
<ellipse cx="393" cy="155" rx="3.9" ry="1.3" transform="rotate(-28 393 155)" fill="#6d6d6d"/>
<ellipse cx="402" cy="170" rx="4.3" ry="1.6" transform="rotate(142 402 170)" fill="#797979"/>
<ellipse cx="368" cy="220" rx="4.5" ry="1.2" transform="rotate(131 368 220)" fill="#7e7e7e"/>
<ellipse cx="435" cy="273" rx="4.3" ry="1.6" transform="rotate(46 435 273)" fill="#6c6c6c"/>
<ellipse cx="409" cy="167" rx="2.5" ry="1.6" transform="rotate(197 409 167)" fill="#858585"/>
<ellipse cx="388" cy="192" rx="2.9" ry="1.6" transform="rotate(-5 388 192)" fill="#888888"/>
<ellipse cx="389" cy="209" rx="2.4" ry="1.1" transform="rotate(178 389 209)" fill="#6d6d6d"/>
<ellipse cx="499" cy="110" rx="3.6" ry="1.6" transform="rotate(117 499 110)" fill="#979797"/>
<ellipse cx="352" cy="160" rx="2.1" ry="1.8" transform="rotate(177 352 160)" fill="#797979"/>
<ellipse cx="363" cy="235" rx="4.5" ry="1.5" transform="rotate(133 363 235)" fill="#4f4f4f"/>
<ellipse cx="321" cy="84" rx="3.7" ry="1.8" transform="rotate(-71 321 84)" fill="#6d6d6d"/>
<ellipse cx="290" cy="101" rx="3.3" ry="1.4" transform="rotate(52 290 101)" fill="#6a6a6a"/>
<ellipse cx="452" cy="267" rx="3.9" ry="1.4" transform="rotate(94 452 267)" fill="#a4a4a4"/>
<ellipse cx="304" cy="80" rx="2.9" ry="1.1" transform="rotate(-83 304 80)" fill="#606060"/>
<ellipse cx="295" cy="89" rx="3.6" ry="2.4" transform="rotate(184 295 89)" fill="#808080"/>
<ellipse cx="360" cy="172" rx="3.0" ry="2.5" transform="rotate(127 360 172)" fill="#818181"/>
</g>
</g>
<path d="M441 128l-5 -2 0 -6 3 -4 6 -1 5 3 -1 6 -3 3zM307 203l3 6 -4 5 -6 1 -5 -3 -4 -6 3 -6 8 1zM265 253l-6 0 -6 -4 3 -6 3 -5 7 -2 4 6 -2 6zM455 85l-1 6 -5 4 -6 -1 -3 -5 1 -5 4 -4 6 1zM430 193l-6 1 -3 -4 -1 -5 2 -6 6 1 4 3 0 5zM406 283l2 -6 6 -2 5 4 3 5 -2 7 -7 3 -5 -5zM513 171l-5 6 -8 -2 -2 -7 1 -6 4 -5 7 2 3 5zM474 252l-5 4 -6 -1 -4 -6 3 -6 5 -3 7 0 1 6zM504 77l4 4 0 5 -2 7 -7 -1 -4 -4 -1 -6 3 -6zM486 132l-1 -6 4 -4 4 -3 6 1 1 6 -3 4 -4 3zM287 205l0 6 -4 3 -5 -2 -3 -4 -1 -5 5 -3 5 2zM468 293l-5 -3 -3 -5 0 -6 6 -2 6 1 1 5 0 6zM332 256l5 -6 6 0 6 1 2 6 -3 6 -6 2 -6 -3zM250 290l0 -5 2 -4 5 -1 2 4 2 4 -2 5 -6 1zM317 192l4 -3 7 -2 4 5 1 7 -6 4 -7 1 -6 -5zM280 94l-5 -1 -3 -5 3 -5 4 -2 5 2 3 4 -3 5zM256 206l-1 6 -5 2 -5 -1 -4 -4 1 -6 6 -2 5 1zM399 256l-2 5 -5 -1 -3 -3 0 -5 2 -3 5 -1 4 3zM462 176l-4 -8 6 -5 7 -2 7 2 3 7 -5 6 -7 2zM471 112l5 5 1 6 -3 5 -7 3 -4 -5 -1 -6 2 -6zM352 181l8 1 6 3 2 6 -3 6 -7 3 -5 -6 -2 -5zM271 97l-4 5 -7 1 -4 -5 -1 -6 2 -7 8 1 3 5zM393 228l3 4 0 5 -6 1 -4 -2 -2 -4 0 -5 5 -1zM263 159l4 5 -3 5 -4 4 -6 0 -3 -6 3 -5 3 -4zM504 104l-4 -4 -1 -6 4 -5 6 3 4 3 1 6 -4 5zM392 95l5 4 -2 5 -4 3 -5 -1 -3 -4 0 -5 5 -3zM462 280l-2 7 -7 2 -6 -1 -4 -6 3 -6 5 -4 7 2zM428 210l-2 -5 -1 -5 5 -4 6 0 2 6 1 5 -5 5zM317 95l-2 4 -4 4 -5 -1 -2 -5 0 -5 5 -4 6 1zM288 278l3 6 0 8 -8 0 -6 -1 -5 -5 2 -8 7 -1zM340 266l5 3 -1 6 -3 3 -5 3 -3 -4 -1 -5 3 -3zM447 235l5 6 2 5 -1 7 -8 3 -4 -6 -4 -6 3 -6zM481 224l5 -2 6 1 2 5 -2 7 -6 0 -5 -1 -4 -5zM341 188l-7 0 -3 -6 0 -6 4 -4 7 -1 3 6 0 6zM344 80l5 -1 5 1 3 5 -3 5 -5 2 -5 -2 -3 -5zM376 290l2 -5 3 -6 7 2 4 4 -2 6 -4 4 -6 -1zM406 250l5 -3 4 3 0 5 -1 5 -5 2 -5 -3 -1 -5zM377 199l2 5 -4 3 -3 3 -5 -2 -2 -4 3 -5 4 -2zM327 161l4 6 0 6 -4 5 -7 2 -4 -6 -1 -7 5 -5zM258 117l-1 -6 5 -3 5 0 3 4 1 6 -5 3 -5 -1zM424 177l-6 -2 -1 -7 4 -5 6 -2 6 3 -1 7 -2 4zM345 102l0 -4 2 -5 6 0 4 4 -1 5 -2 5 -6 0zM322 102l7 -3 6 5 2 7 -5 5 -6 3 -7 -4 -2 -7zM426 234l-2 5 -3 5 -8 1 -4 -6 3 -6 4 -5 8 -2zM281 137l-4 -5 -1 -7 7 -3 6 2 6 4 -3 7 -6 3zM266 131l5 4 3 6 -4 7 -7 0 -6 -5 -3 -7 6 -4zM368 126l-3 5 -5 3 -7 -3 1 -7 3 -4 5 -3 7 3zM381 71l4 6 2 7 -6 5 -7 -1 -3 -6 0 -5 3 -6zM498 284l2 5 -2 5 -4 2 -5 0 -3 -4 2 -6 4 -2zM262 175l4 3 2 5 -2 5 -6 4 -4 -6 -3 -4 2 -7zM275 248l-5 -5 -1 -7 4 -5 7 -1 6 4 -2 6 -2 7zM300 109l5 -1 4 5 -2 6 -5 1 -4 -1 -5 -3 3 -5zM312 128l-6 -5 1 -7 6 -3 6 1 4 4 1 6 -5 6zM444 150l-3 7 -7 0 -6 -4 -1 -7 4 -6 7 -1 6 4zM318 252l-5 2 -6 -3 0 -6 4 -4 5 -2 5 3 0 5zM325 222l-4 4 -6 -2 -3 -4 1 -6 4 -4 6 2 3 4zM507 209l-6 1 -5 -2 -3 -5 2 -7 6 1 6 1 4 6zM309 285l-2 -7 7 -1 5 -1 4 4 -1 6 -4 4 -5 -2zM413 150l-7 3 -6 -1 -4 -6 0 -8 8 -1 7 0 3 6zM409 124l2 5 -2 7 -6 0 -5 -3 -2 -6 2 -6 7 -1zM302 127l4 -1 5 3 -1 5 -2 4 -5 2 -5 -4 2 -5zM431 232l-3 -3 0 -5 4 -3 5 2 4 3 0 6 -5 3zM255 240l-7 -2 -2 -6 3 -5 5 -4 7 0 0 7 0 7zM450 187l-7 0 -7 -4 1 -8 7 -4 6 0 7 4 -2 7zM244 100l-5 -5 2 -6 3 -4 6 -1 6 3 -3 6 -3 4zM356 218l-6 3 -5 2 -5 -2 -3 -6 5 -4 5 -1 7 1zM433 100l3 5 -2 7 -7 -1 -4 -4 -3 -5 3 -6 7 0zM359 284l-5 5 -5 -1 -7 -1 1 -7 4 -6 6 0 5 4zM410 124l0 -5 1 -5 6 -4 5 4 1 6 -4 4 -4 2zM449 218l5 -5 6 -2 6 1 3 6 -3 7 -7 0 -5 -1zM363 136l6 -1 4 6 -2 7 -6 1 -6 1 -3 -6 1 -7zM433 129l2 7 -6 5 -7 -3 -3 -5 0 -5 4 -6 6 3zM376 107l-6 3 -5 0 -5 -3 -1 -6 6 -3 4 1 6 2zM459 201l1 5 -5 3 -4 -2 -3 -3 -1 -6 5 -3 6 1zM366 297l-5 1 -6 -2 0 -6 4 -3 5 -4 5 4 1 6zM385 131l4 5 0 8 -8 1 -6 0 -5 -6 1 -8 8 -1zM409 96l1 -5 1 -5 6 -2 4 5 0 5 -2 4 -6 2zM511 178l2 7 -2 5 -4 5 -7 0 -4 -6 3 -6 5 -4zM494 163l-6 0 -5 -2 -2 -4 2 -6 5 -1 6 1 2 6zM486 185l1 4 -3 4 -5 2 -3 -4 0 -5 2 -4 5 -2zM255 157l-5 0 -4 -3 -1 -4 2 -6 6 0 3 4 1 4zM250 270l-6 -4 3 -7 5 -4 7 0 6 5 -3 8 -6 2zM345 229l4 4 2 7 -5 5 -6 0 -6 -4 -2 -7 5 -6zM331 156l3 -6 6 0 4 4 2 5 -3 5 -6 0 -5 -3zM401 179l6 3 2 6 1 7 -7 3 -5 -4 -4 -4 0 -7zM348 193l0 7 -4 5 -6 1 -4 -4 -1 -6 2 -7 7 -1zM455 158l1 6 -4 5 -6 3 -6 -4 1 -6 2 -6 7 -3zM354 145l-7 2 -5 -5 -2 -6 3 -8 8 0 6 5 2 7zM458 146l2 -5 6 -1 5 1 3 5 -3 5 -5 1 -6 -1zM512 135l1 8 -8 4 -6 -5 -3 -6 1 -8 8 -3 6 4zM427 274l-7 1 -6 -4 0 -7 5 -5 6 -2 7 4 0 8zM414 268l-2 5 -4 4 -6 1 -3 -6 1 -6 4 -5 7 1zM491 273l-1 6 -5 5 -6 -5 -2 -5 0 -7 6 -5 7 5zM382 251l-3 6 -4 4 -5 -1 -4 -4 1 -6 4 -3 6 -1zM377 173l-3 -5 3 -5 6 0 5 3 2 6 -3 6 -7 0zM283 255l3 -4 5 -2 6 1 0 6 -4 4 -4 3 -5 -3zM344 139l-6 5 -6 -1 -6 -4 0 -7 5 -5 7 1 5 4zM271 263l-4 -3 1 -5 3 -5 6 2 3 4 -1 5 -3 4zM477 265l-4 0 -3 -4 0 -4 4 -3 4 0 5 3 -2 5zM477 89l-2 -6 2 -5 6 -3 6 1 1 7 -1 6 -6 3zM287 232l-6 0 -5 -5 1 -7 6 -3 6 2 5 4 0 7zM499 241l-5 -3 -1 -6 3 -5 6 -1 5 3 0 6 -2 5zM401 219l-2 -7 3 -6 6 -3 7 0 2 8 -4 5 -4 4zM430 255l-5 0 -3 -3 -1 -5 4 -4 5 1 4 3 0 5zM413 100l2 6 -2 4 -4 5 -6 -2 -2 -6 3 -4 3 -5zM376 160l-5 -1 -3 -4 -1 -6 6 -4 5 3 4 4 -2 5zM305 237l-3 -5 0 -6 5 -3 6 0 3 6 0 6 -5 3zM296 183l-4 2 -4 -3 -4 -4 2 -5 5 -1 5 1 2 5zM387 264l3 2 4 4 -2 5 -6 0 -3 -2 -4 -4 2 -5zM324 250l5 3 2 5 -2 4 -5 2 -5 0 -4 -6 4 -4zM305 268l3 7 0 5 -4 5 -7 2 -3 -7 -1 -6 5 -6zM281 166l0 8 -5 5 -7 4 -7 -5 0 -7 5 -5 6 -2zM290 154l3 -7 7 1 7 1 2 8 -5 4 -6 2 -5 -3zM452 235l3 -6 6 0 6 -1 4 6 -5 5 -5 2 -5 -1zM504 260l-3 4 -6 1 -3 -3 -3 -5 3 -5 6 1 4 2zM405 159l2 7 -6 4 -6 1 -7 -3 1 -7 4 -6 6 1zM366 209l4 5 -2 5 -5 3 -6 -2 -3 -4 1 -6 6 -2zM324 164l-7 0 -1 -7 0 -6 6 -5 8 2 1 7 -1 7zM244 195l-1 -5 3 -4 5 -1 2 4 2 4 -2 5 -5 -1zM447 112l-4 -2 -2 -5 2 -6 6 -1 5 3 1 5 -2 6zM273 155l-2 5 -7 4 -6 -4 0 -7 2 -6 7 -2 7 2zM290 161l-5 5 -6 0 -7 -3 0 -8 5 -5 6 0 6 3zM431 272l6 4 1 7 -6 4 -6 1 -7 -4 1 -7 5 -4zM451 143l-7 -3 -2 -7 5 -5 6 -1 7 2 1 7 -4 5zM403 160l2 -6 5 -1 6 0 2 6 -1 5 -6 2 -5 -1zM384 207l-5 -4 2 -7 6 -1 5 -1 5 4 -1 7 -6 3zM248 100l7 1 4 7 -3 6 -6 4 -7 -2 -3 -6 2 -6zM484 106l2 -6 6 -1 4 2 4 5 -3 5 -6 1 -5 -1zM293 186l3 -6 7 2 5 3 2 6 -4 5 -7 1 -3 -5zM377 118l5 2 2 6 -5 5 -5 -1 -5 -3 -1 -6 5 -3zM475 210l-4 -5 4 -6 5 -2 6 1 3 6 -3 6 -6 3zM349 159l-2 -5 0 -4 2 -5 6 2 3 3 -1 5 -3 4zM358 221l7 2 0 7 -3 6 -7 3 -5 -5 -1 -6 3 -6zM328 97l-6 -5 1 -7 4 -5 7 -1 6 5 0 7 -6 4zM267 279l-5 0 -2 -6 3 -4 4 -1 5 1 3 4 -3 4zM349 274l-1 -8 4 -5 5 -2 6 3 1 6 -3 5 -5 2zM390 87l4 -5 6 -1 5 3 1 5 -1 7 -7 1 -5 -4zM278 100l6 -3 7 2 1 8 -4 6 -6 2 -8 -1 1 -8zM278 266l4 -5 7 1 4 5 0 6 -5 4 -6 1 -3 -6zM347 121l-5 3 -4 -2 -5 -2 0 -7 5 -2 5 1 4 3zM393 177l1 6 -2 6 -5 2 -6 -2 -2 -5 3 -5 5 -2zM452 270l-7 4 -6 0 -5 -5 0 -7 6 -3 6 -1 6 5zM269 189l5 -5 8 0 3 7 -2 7 -5 3 -8 2 -3 -8zM375 242l-3 5 -6 0 -2 -4 -2 -5 3 -5 6 0 3 5zM472 181l0 5 -3 3 -4 1 -4 -3 0 -4 3 -4 5 -2zM447 286l-1 5 -3 4 -5 2 -4 -5 2 -4 2 -4 4 0zM457 262l5 -1 4 3 0 6 -5 2 -4 1 -4 -3 0 -5zM480 141l-6 -2 -3 -4 2 -5 4 -4 6 -1 2 6 -1 6zM272 223l-6 2 -5 -3 -2 -5 3 -5 5 -3 4 4 2 4zM475 86l-5 6 -6 0 -8 -1 0 -7 3 -7 7 -1 5 4zM315 75l4 4 1 7 -5 5 -7 -3 -3 -4 -1 -7 6 -3zM485 212l3 -3 5 -2 6 3 -1 6 -4 4 -5 1 -5 -3zM295 87l-5 -2 -2 -6 1 -7 7 -1 5 4 3 5 -2 6zM331 296l-5 -2 -2 -5 3 -5 5 0 6 0 1 6 -2 6zM336 236l-7 0 -5 -2 -1 -5 2 -6 6 -1 4 3 4 5zM424 85l-5 -2 -4 -2 -1 -6 5 -3 5 1 3 3 1 6zM315 160l2 4 -2 5 -4 2 -5 -1 -1 -5 1 -4 4 -3zM366 275l1 -5 4 -4 5 1 2 4 1 6 -4 4 -6 -3zM367 230l-1 -6 2 -6 5 -1 5 3 1 5 -1 5 -5 2zM413 205l-6 -3 1 -7 5 -4 6 2 5 3 2 8 -7 2zM471 92l6 0 4 4 1 6 -3 5 -7 1 -5 -5 0 -6zM347 163l4 -2 5 2 2 3 1 5 -5 2 -5 -1 -3 -3zM273 74l-1 7 -3 5 -7 2 -4 -6 -1 -6 4 -4 7 -3zM507 105l6 3 4 6 -2 7 -7 1 -6 -2 -4 -6 3 -6zM406 286l4 5 0 6 -4 5 -7 -1 -3 -5 -1 -6 4 -6zM411 224l-2 7 -7 1 -6 -2 -5 -5 3 -8 8 0 6 1zM370 88l-2 5 -6 -1 -2 -4 -1 -4 3 -4 5 0 3 4zM489 243l3 5 -3 6 -7 1 -5 -3 -3 -6 4 -5 6 -1zM311 254l3 4 -1 5 -4 3 -5 -2 -2 -4 -1 -5 5 -2zM434 217l3 -7 6 -2 6 -1 6 5 -4 6 -4 4 -6 -1zM505 254l-4 -4 -1 -5 3 -4 5 -1 3 4 2 5 -3 5zM322 136l2 7 -1 6 -6 5 -6 -4 -3 -6 2 -5 5 -4zM245 122l6 -2 6 3 0 6 -3 4 -5 3 -5 -3 0 -6zM498 178l-5 2 -6 1 -6 -3 2 -7 5 -3 7 -3 5 6zM385 153l-2 -4 1 -6 6 -2 4 4 2 4 -2 6 -5 1zM372 175l0 4 -3 3 -5 2 -3 -4 1 -5 1 -5 6 1zM506 282l-4 -5 0 -6 3 -5 6 -1 3 5 1 5 -2 6zM507 147l3 6 -3 5 -6 1 -5 -2 -3 -5 4 -4 5 -2zM289 134l7 -1 5 5 0 7 -4 5 -7 2 -5 -6 1 -7zM408 181l-5 0 -3 -4 0 -5 4 -3 6 0 3 4 0 5zM475 211l5 3 1 6 -3 5 -6 0 -6 -2 1 -7 3 -4zM393 210l5 4 0 8 -7 3 -5 -3 -5 -3 -1 -8 7 -2zM518 294l-3 8 -8 0 -5 -5 -2 -6 4 -6 7 -1 5 4zM299 103l-5 1 -4 -2 -3 -5 3 -4 5 -1 4 2 4 4z" fill="#1c0a94" filter="url(#fmpart)"/>
</g>
<rect x="411.25" y="263" width="72.5" height="4.75" fill="#fff" />
<clipPath id="fmclip2"><rect x="260" y="335" width="233.5" height="185"/></clipPath>
<filter id="fmf2" x="0" y="0" width="100%" height="100%" color-interpolation-filters="sRGB"><feGaussianBlur stdDeviation="0.7"/><feComponentTransfer><feFuncR type="table" tableValues="0.11 0.08 0.08 0.20 0.38 0.55 0.92 0.97 0.98 0.75 0.55"/><feFuncG type="table" tableValues="0.04 0.05 0.07 0.45 0.95 0.95 0.95 0.60 0.18 0.06 0.02"/><feFuncB type="table" tableValues="0.58 0.96 0.97 0.98 0.97 0.60 0.28 0.15 0.06 0.04 0.02"/></feComponentTransfer></filter>
<g clip-path="url(#fmclip2)">
<g filter="url(#fmf2)">
<rect x="250" y="325" width="253.5" height="205" fill="rgb(0,0,0)"/>
<g filter="url(#fmglow)">
<path d="M472 426a12 12 0 1 0 23 0a12 12 0 1 0 -23 0M428 461a12 12 0 1 0 24 0a12 12 0 1 0 -24 0M258 404a14 14 0 1 0 28 0a14 14 0 1 0 -28 0M361 340a13 13 0 1 0 26 0a13 13 0 1 0 -26 0M394 369a14 14 0 1 0 29 0a14 14 0 1 0 -29 0M464 394a12 12 0 1 0 23 0a12 12 0 1 0 -23 0M448 343a13 13 0 1 0 27 0a13 13 0 1 0 -27 0M452 414a11 11 0 1 0 23 0a11 11 0 1 0 -23 0M347 386a13 13 0 1 0 26 0a13 13 0 1 0 -26 0M276 437a13 13 0 1 0 26 0a13 13 0 1 0 -26 0M376 484a12 12 0 1 0 25 0a12 12 0 1 0 -25 0M477 470a13 13 0 1 0 27 0a13 13 0 1 0 -27 0M333 393a13 13 0 1 0 26 0a13 13 0 1 0 -26 0M292 434a12 12 0 1 0 23 0a12 12 0 1 0 -23 0M314 384a12 12 0 1 0 25 0a12 12 0 1 0 -25 0M372 500a14 14 0 1 0 28 0a14 14 0 1 0 -28 0M364 512a13 13 0 1 0 26 0a13 13 0 1 0 -26 0M306 434a14 14 0 1 0 27 0a14 14 0 1 0 -27 0M345 491a12 12 0 1 0 25 0a12 12 0 1 0 -25 0M462 462a14 14 0 1 0 28 0a14 14 0 1 0 -28 0M325 431a11 11 0 1 0 23 0a11 11 0 1 0 -23 0M417 405a13 13 0 1 0 26 0a13 13 0 1 0 -26 0M388 499a12 12 0 1 0 25 0a12 12 0 1 0 -25 0M468 408a13 13 0 1 0 25 0a13 13 0 1 0 -25 0M328 349a12 12 0 1 0 25 0a12 12 0 1 0 -25 0M343 405a14 14 0 1 0 28 0a14 14 0 1 0 -28 0M334 372a13 13 0 1 0 27 0a13 13 0 1 0 -27 0M302 421a12 12 0 1 0 24 0a12 12 0 1 0 -24 0M334 473a12 12 0 1 0 24 0a12 12 0 1 0 -24 0M318 444a12 12 0 1 0 24 0a12 12 0 1 0 -24 0" fill="#262626"/>
</g>
<path d="M487 433A8 8 0 0 1 478 431M446 456A8 8 0 0 1 447 465M383 341A9 9 0 0 1 371 349M482 389A8 8 0 0 1 482 399M467 351A10 10 0 0 1 457 351M284 445A9 9 0 0 1 280 437M384 491A9 9 0 0 1 381 481M485 462A10 10 0 0 1 495 462M297 437A8 8 0 0 1 302 426M326 392A9 9 0 0 1 319 389M387 511A10 10 0 0 1 376 500M375 503A9 9 0 0 1 384 506M316 443A10 10 0 0 1 310 434M478 472A10 10 0 0 1 469 470M344 429A8 8 0 0 1 336 439M439 408A9 9 0 0 1 429 414M407 505A9 9 0 0 1 397 507M490 408A9 9 0 0 1 480 417M343 341A9 9 0 0 1 350 349M346 404A10 10 0 0 1 352 396M348 381A9 9 0 0 1 339 376M318 427A8 8 0 0 1 311 428M346 481A8 8 0 0 1 338 474M330 452A8 8 0 0 1 323 450" fill="none" stroke="#7f7f7f" stroke-width="1.6" filter="url(#fmcres)"/>
<g filter="url(#fmhot)">
<ellipse cx="483" cy="417" rx="3.6" ry="2.3" transform="rotate(-9 483 417)" fill="#757575"/>
<ellipse cx="478" cy="401" rx="3.2" ry="1.1" transform="rotate(160 478 401)" fill="#818181"/>
<ellipse cx="472" cy="411" rx="1.8" ry="2.7" transform="rotate(71 472 411)" fill="#737373"/>
<ellipse cx="353" cy="389" rx="4.0" ry="1.4" transform="rotate(245 353 389)" fill="#505050"/>
<ellipse cx="358" cy="395" rx="2.0" ry="2.0" transform="rotate(189 358 395)" fill="#595959"/>
<ellipse cx="354" cy="379" rx="4.1" ry="2.0" transform="rotate(-40 354 379)" fill="#5f5f5f"/>
<ellipse cx="395" cy="492" rx="4.2" ry="2.5" transform="rotate(143 395 492)" fill="#686868"/>
<ellipse cx="483" cy="466" rx="2.4" ry="1.2" transform="rotate(-60 483 466)" fill="#5b5b5b"/>
<ellipse cx="336" cy="388" rx="2.0" ry="3.1" transform="rotate(-66 336 388)" fill="#8b8b8b"/>
<ellipse cx="351" cy="399" rx="3.4" ry="1.2" transform="rotate(141 351 399)" fill="#4f4f4f"/>
<ellipse cx="347" cy="382" rx="4.2" ry="2.6" transform="rotate(4 347 382)" fill="#959595"/>
<ellipse cx="311" cy="434" rx="2.5" ry="1.2" transform="rotate(92 311 434)" fill="#535353"/>
<ellipse cx="309" cy="427" rx="2.1" ry="2.1" transform="rotate(37 309 427)" fill="#575757"/>
<ellipse cx="394" cy="500" rx="4.5" ry="1.8" transform="rotate(86 394 500)" fill="#8a8a8a"/>
<ellipse cx="325" cy="440" rx="4.5" ry="1.5" transform="rotate(135 325 440)" fill="#878787"/>
<ellipse cx="333" cy="438" rx="2.9" ry="1.6" transform="rotate(209 333 438)" fill="#8e8e8e"/>
</g>
</g>
<path d="M415 459l7 4 3 7 -2 7 -7 3 -7 -3 -1 -6 1 -7zM499 357l5 3 -2 5 -4 3 -4 1 -5 -4 0 -5 5 -4zM265 491l4 3 2 5 -5 3 -5 0 -3 -3 -1 -5 3 -4zM325 408l-3 -8 5 -6 6 -3 7 2 2 7 -3 6 -6 4zM458 354l5 0 2 5 -1 5 -3 4 -6 -2 -2 -5 1 -4zM487 432l-6 0 -2 -4 0 -4 2 -4 5 -1 4 4 0 5zM256 516l3 -6 6 -1 5 3 4 5 -4 6 -6 3 -5 -5zM403 336l0 6 -5 5 -6 -3 -3 -5 1 -5 4 -5 6 3zM459 483l3 -6 8 -1 4 7 -2 7 -4 4 -7 1 -4 -6zM439 468l-5 -3 -1 -5 2 -4 6 -3 5 3 0 6 -3 4zM497 329l-2 -7 6 -5 6 -1 7 2 3 8 -6 5 -7 0zM509 460l-5 3 -5 1 -5 -2 -1 -6 4 -3 5 -1 4 2zM309 459l-6 -3 1 -7 5 -4 6 -1 5 4 0 6 -5 4zM339 467l-6 1 -7 -3 0 -7 4 -5 6 -3 7 4 1 7zM429 424l8 1 2 7 -4 5 -4 5 -7 -2 -2 -7 2 -6zM280 400l1 7 -5 4 -6 3 -6 -5 -2 -7 5 -5 7 0zM328 487l-5 1 -6 -3 0 -7 4 -4 6 -1 6 3 2 8zM494 482l2 5 -3 3 -4 2 -5 -2 -2 -5 4 -3 4 -2zM394 359l-3 7 -8 -1 -4 -4 -4 -6 4 -6 7 0 5 4zM440 377l-1 7 -7 3 -5 -4 -3 -5 0 -6 6 -4 6 3zM442 396l3 -5 4 -3 6 0 2 6 -2 5 -4 3 -6 -1zM389 408l2 -5 6 1 4 2 3 5 -4 4 -5 1 -4 -3zM333 408l2 6 -2 6 -6 5 -7 -3 -2 -7 2 -6 6 -5zM348 481l0 7 -3 6 -5 0 -6 -2 -1 -5 2 -6 6 -2zM283 395l4 -6 7 -1 6 4 3 7 -5 6 -7 0 -6 -3zM375 438l-3 -6 4 -5 4 -5 7 2 4 6 -4 7 -5 4zM296 492l-7 1 -5 -5 -1 -6 2 -6 8 -4 4 7 1 6zM367 345l-3 -6 4 -6 7 1 6 2 2 6 -5 5 -5 1zM344 329l-1 7 -5 4 -6 0 -6 -3 1 -6 5 -4 5 -1zM405 509l1 6 -2 5 -5 2 -7 -1 -1 -7 3 -6 6 -1zM426 315l4 3 1 5 -2 5 -5 1 -3 -4 -2 -4 2 -5zM278 431l3 8 -4 6 -4 7 -9 -2 -1 -8 2 -6 5 -6zM347 420l2 -5 4 -4 5 3 1 5 0 5 -5 2 -5 -2zM241 517l-1 -6 2 -5 6 -5 7 5 0 7 -3 6 -7 4zM408 379l-7 -3 -1 -7 1 -8 8 -3 7 5 1 7 -2 6zM291 492l6 -1 7 3 0 7 -4 4 -5 3 -6 -3 0 -7zM474 399l-4 -3 0 -5 4 -4 5 2 2 4 2 5 -5 2zM273 418l4 -5 6 -3 5 5 2 6 -2 6 -8 2 -5 -5zM459 350l-5 -3 -1 -7 5 -3 6 -2 5 4 0 6 -4 5zM260 426l-3 4 -4 4 -5 -4 -1 -5 3 -4 5 -4 5 4zM457 414l1 -5 5 0 5 1 2 4 -1 5 -6 1 -4 -1zM331 369l-5 3 -6 -2 -3 -5 3 -5 5 -4 5 3 3 5zM438 539l-6 0 -4 -2 -1 -5 2 -4 5 -2 4 3 2 5zM428 522l-6 -2 -4 -6 1 -7 6 -4 7 3 3 6 -2 6zM353 384l4 -3 5 -2 6 3 -1 7 -5 3 -6 2 -5 -4zM290 446l-7 -1 0 -7 1 -5 4 -4 7 1 3 6 -2 6zM491 510l5 1 5 4 -3 6 -5 2 -5 0 -3 -5 1 -6zM399 439l-7 0 -4 -6 4 -6 5 -2 7 0 3 6 -3 6zM476 444l0 7 -2 6 -7 2 -7 -4 1 -7 2 -6 7 -2zM304 511l6 2 1 6 -3 4 -4 3 -6 -2 -1 -5 3 -5zM384 490l-3 -5 3 -5 4 -4 5 3 3 5 0 6 -6 3zM301 477l-5 -3 -3 -5 0 -7 7 -2 6 3 2 6 0 7zM434 326l5 -1 5 2 2 6 -4 4 -5 0 -4 -2 -2 -5zM458 535l-2 -5 2 -6 6 -3 6 3 1 6 -3 5 -5 3zM421 357l-6 0 -6 -4 2 -7 5 -3 6 -1 4 5 0 6zM412 498l4 -4 6 2 2 5 0 5 -4 4 -6 -1 -3 -5zM496 464l3 6 -3 6 -5 2 -7 0 -3 -7 4 -6 5 -2zM352 395l-3 5 -6 0 -3 -5 -1 -5 4 -4 6 -2 4 5zM307 428l3 4 0 5 -4 3 -5 -1 -4 -4 0 -6 5 -2zM400 522l7 1 6 3 4 6 -5 5 -6 1 -7 -2 -3 -7zM324 377l6 -1 4 5 -2 5 -2 4 -6 3 -4 -6 0 -5zM446 523l-3 -5 3 -4 6 -1 6 0 0 7 -2 4 -6 3zM267 489l1 -7 5 -3 6 1 5 4 -3 6 -4 3 -6 0zM381 508l-4 -6 3 -6 4 -4 8 -1 2 8 -2 6 -5 3zM491 352l-3 -7 5 -6 7 0 6 3 4 8 -7 4 -6 3zM378 394l3 -6 5 -1 5 0 6 4 -4 6 -5 2 -6 0zM439 475l4 -5 6 3 1 5 1 6 -6 3 -5 -3 -3 -4zM383 476l-2 6 -5 0 -5 0 -2 -4 1 -5 5 -1 4 1zM362 347l-7 1 -6 -4 0 -7 4 -5 6 0 7 3 2 7zM256 374l3 5 -2 5 -4 4 -6 0 -3 -5 3 -5 3 -3zM264 352l7 -2 6 3 2 6 -2 6 -6 4 -5 -5 -2 -5zM366 461l0 -6 5 -2 5 -1 5 4 0 6 -5 3 -6 0zM491 406l0 -6 0 -5 6 -2 5 2 2 5 -3 5 -4 4zM354 534l-2 -5 3 -5 5 1 5 2 0 5 -2 6 -6 0zM342 459l1 -4 3 -5 6 0 2 5 0 5 -3 4 -6 1zM284 333l4 -4 5 1 2 6 -2 4 -5 2 -4 -1 -1 -5zM275 471l-1 -7 6 -3 5 0 6 3 -2 6 -3 4 -7 1zM280 388l-6 -4 1 -7 6 -2 5 0 6 3 -1 7 -6 3zM320 348l-6 -1 -5 -2 -2 -7 5 -5 6 1 5 3 3 7zM480 509l-3 -4 0 -5 5 -3 6 2 1 5 0 5 -5 3zM369 416l-2 -6 3 -5 6 -5 5 5 2 6 -2 6 -6 4zM481 433l5 0 4 3 2 5 -2 5 -6 0 -4 -3 0 -4zM260 466l-4 5 -6 -1 -6 -2 -1 -6 5 -5 5 1 6 2zM394 464l2 -5 4 -7 7 2 2 7 0 6 -5 4 -6 -1zM443 422l6 -4 8 2 2 8 -4 6 -5 5 -7 -4 -3 -7zM266 478l-3 4 -6 -1 -4 -4 3 -5 3 -5 6 0 3 6zM505 536l-6 4 -7 -4 -1 -7 3 -6 7 -3 7 4 1 7zM475 323l3 5 -1 6 -3 5 -6 -3 -3 -4 -1 -6 5 -3zM383 516l-5 4 -7 -1 -2 -6 2 -6 5 -3 6 1 2 5zM495 409l6 -3 5 2 3 6 -1 6 -6 1 -6 0 -4 -6zM316 538l-8 -1 0 -8 3 -6 6 -2 8 2 0 8 -3 6zM327 435l-3 5 -5 3 -7 -3 0 -7 2 -6 6 -1 6 3zM303 343l6 3 3 5 -2 6 -6 4 -5 -3 -2 -5 0 -7zM418 407l3 7 -3 6 -5 1 -7 0 -3 -6 3 -7 6 -2zM447 384l-4 -5 -4 -5 3 -7 7 -1 5 4 2 6 -3 5zM361 496l-5 1 -5 -1 -1 -6 3 -4 5 -2 6 2 1 6zM431 454l-4 4 -7 1 -7 -4 1 -8 6 -4 7 -2 6 5zM484 461l-2 6 -5 4 -7 -1 -4 -6 3 -6 6 -3 6 0zM440 488l-2 6 -6 2 -5 -4 -3 -5 2 -6 7 -3 4 5zM344 512l2 -8 6 -4 7 2 5 5 -1 8 -7 2 -7 1zM339 438l-5 -1 -4 -3 -1 -6 5 -3 5 1 4 3 0 5zM424 407l-1 -6 6 -3 6 0 1 6 1 6 -5 4 -5 -3zM270 520l6 -3 6 4 2 5 -1 6 -6 2 -6 -2 -2 -5zM451 449l-3 -5 -1 -5 4 -4 6 -1 4 4 -1 6 -3 5zM250 444l2 3 1 5 -4 3 -5 0 -3 -5 0 -5 4 -3zM456 508l-5 5 -6 0 -5 -3 -3 -7 5 -5 6 1 7 2zM302 363l-2 6 -3 5 -7 -2 -1 -6 -1 -5 5 -3 5 1zM512 475l-4 3 -5 1 -4 -3 0 -6 3 -3 5 0 5 2zM368 528l5 -2 5 1 2 3 0 5 -4 3 -4 -1 -3 -3zM388 371l-2 8 -7 3 -6 -4 -3 -5 0 -7 7 -4 6 3zM404 492l2 5 0 5 -3 4 -6 1 -3 -6 1 -4 3 -5zM330 505l4 3 3 5 -5 4 -5 -1 -4 -2 -2 -5 4 -5zM509 443l-2 5 -6 1 -5 -3 -1 -6 5 -3 5 -2 4 3zM364 442l-4 -3 0 -6 4 -2 4 0 5 2 1 6 -5 2zM257 528l3 6 -4 8 -7 -2 -5 -3 -3 -7 4 -7 8 0zM404 355l-2 4 -5 0 -5 -3 1 -5 3 -4 6 -1 5 4zM385 445l3 -4 4 -2 5 3 1 5 -3 5 -6 1 -5 -2zM306 407l0 6 -3 3 -4 2 -4 -2 -1 -5 3 -4 4 -2zM485 417l-7 -2 -3 -4 0 -5 3 -5 6 -1 4 5 1 6zM394 526l1 5 0 6 -6 2 -4 -4 -4 -4 2 -6 6 0zM253 494l-5 0 -5 -3 -1 -5 3 -5 6 0 5 3 0 5zM480 338l4 4 1 6 -3 6 -6 -1 -5 -3 -2 -6 4 -5zM265 352l-7 -1 -4 -5 -1 -8 8 -2 6 1 6 4 -1 8zM500 394l-2 -7 6 -3 6 -1 5 4 1 6 -5 4 -6 0zM449 323l5 -1 3 5 0 4 -2 5 -5 -1 -3 -3 -2 -5zM349 347l-3 5 -3 4 -7 1 -3 -6 2 -5 4 -5 6 1zM364 400l0 6 -3 5 -6 5 -5 -5 0 -6 1 -6 6 -2zM490 342l-5 -1 -1 -5 -1 -5 5 -3 5 3 2 4 0 5zM285 458l-5 -2 -4 -2 -1 -5 3 -4 5 0 5 3 1 5zM480 515l-1 6 -4 4 -6 -1 -2 -6 -1 -5 5 -5 6 3zM281 357l-1 -7 4 -4 4 -2 7 1 1 6 -5 4 -4 4zM314 388l1 6 -2 6 -5 3 -7 -1 -2 -6 2 -6 5 -5zM507 384l-7 1 -4 -5 1 -6 3 -5 6 -1 4 5 0 6zM368 462l0 6 -5 4 -5 -1 -5 -2 -1 -7 5 -3 6 0zM308 318l5 -5 5 4 4 3 -1 6 -5 3 -5 -1 -3 -5zM272 329l-2 -4 -2 -5 2 -5 6 0 4 4 1 5 -3 6zM341 526l-5 -1 -1 -6 4 -5 6 1 4 3 2 6 -5 4zM292 326l2 -4 5 -3 5 1 1 6 -2 4 -4 2 -5 -1zM466 423l4 3 3 5 -3 5 -6 2 -5 -4 -3 -5 3 -7zM355 330l-5 2 -5 0 -3 -6 4 -4 4 -2 5 0 2 6zM477 378l-7 2 -4 -6 0 -6 2 -7 8 0 5 5 1 7zM506 503l-2 5 -6 3 -6 0 -4 -6 4 -6 5 -2 6 -1zM249 355l-4 0 -3 -4 2 -4 4 -3 4 2 3 4 -2 4zM246 339l-5 -2 -3 -6 5 -4 6 -1 5 3 2 6 -4 6zM261 416l-6 4 -7 0 -1 -7 0 -6 5 -5 6 3 4 5zM451 347l-1 5 -6 1 -4 -2 -2 -4 1 -6 5 1 5 0zM512 493l-3 4 -6 3 -5 -5 -1 -6 4 -4 6 -2 6 3zM366 360l-5 -2 1 -6 4 -3 5 1 4 3 -1 5 -4 3zM286 456l4 -6 4 -3 8 0 3 7 -4 6 -5 4 -6 -3zM411 383l4 -2 4 3 0 4 -1 4 -5 2 -4 -2 -1 -5zM354 366l0 6 0 7 -7 2 -5 -5 -1 -5 0 -6 7 -3zM313 488l-5 6 -9 -1 -4 -7 2 -8 6 -5 8 1 2 7zM432 358l6 -5 5 1 6 3 2 7 -5 4 -7 -1 -7 -1zM287 522l-5 -2 -4 -4 0 -6 6 -1 5 1 2 4 1 5zM405 451l-4 -5 0 -5 3 -4 6 -3 6 5 -1 6 -4 5zM393 471l-4 3 -4 -2 -4 -3 1 -5 3 -4 5 2 3 4zM265 365l2 5 -2 6 -7 0 -3 -4 -3 -4 3 -6 6 -2zM315 505l-7 0 -6 -5 2 -6 4 -5 7 -2 3 6 0 6zM379 319l2 7 -5 6 -7 -3 -6 -3 -1 -8 6 -5 6 2zM259 322l5 0 3 4 0 5 -5 1 -4 0 -4 -3 0 -6zM457 452l5 3 4 4 -2 6 -3 5 -6 -3 -3 -5 1 -5zM398 484l1 -6 6 -2 6 0 3 5 -1 6 -6 2 -6 0zM321 422l-4 3 -4 1 -5 -2 -1 -5 4 -3 4 -1 6 1zM424 520l-5 5 -6 2 -7 -2 -1 -8 5 -4 5 -2 7 1zM307 371l8 2 5 5 0 6 -3 7 -8 -2 -4 -4 -2 -7zM493 393l-6 0 -3 -6 2 -7 6 -1 7 0 4 6 -4 6zM484 519l6 4 1 6 -1 5 -5 3 -5 -3 -1 -5 -1 -6zM465 388l-5 3 -6 -1 -4 -6 4 -5 5 -5 8 2 1 7zM414 344l-7 -2 -2 -6 0 -5 3 -5 6 2 4 4 -2 6zM353 472l-1 5 -6 3 -4 -3 -3 -4 1 -5 5 -3 5 3zM438 420l-2 -5 1 -5 5 -3 6 0 3 6 -4 5 -3 2zM374 498l-6 1 -4 -5 3 -5 4 -2 5 0 4 4 -2 6zM469 508l-6 5 -7 -2 -3 -7 2 -6 5 -4 8 0 3 7zM399 333l-5 -4 0 -6 3 -5 6 -1 3 4 1 5 -1 7zM478 319l3 -6 7 -1 6 4 -2 7 -2 6 -7 0 -5 -4zM285 503l-1 7 -7 2 -5 -1 -6 -5 2 -6 6 -3 6 1zM293 530l4 -5 7 0 3 6 2 7 -5 6 -7 -2 -5 -5zM328 452l-5 -4 1 -5 2 -3 5 -3 5 3 0 5 -3 4zM386 371l4 -4 6 -1 5 3 2 5 -4 5 -6 0 -4 -2zM378 333l-2 -7 5 -5 6 -3 7 3 0 7 -3 6 -7 3zM271 387l1 7 -6 2 -7 0 -4 -6 2 -7 5 -5 7 3zM356 436l0 6 -2 5 -5 3 -5 -3 -2 -5 3 -4 5 -4z" fill="#1c0a94" filter="url(#fmpart)"/>
</g>
<rect x="420" y="497" width="58" height="4.5" fill="#fff" />
<clipPath id="fmclip3"><rect x="259.9" y="575.9" width="234.0" height="181.5"/></clipPath>
<filter id="fmf3" x="0" y="0" width="100%" height="100%" color-interpolation-filters="sRGB"><feGaussianBlur stdDeviation="0.7"/><feComponentTransfer><feFuncR type="table" tableValues="0.11 0.08 0.08 0.20 0.38 0.55 0.92 0.97 0.98 0.75 0.55"/><feFuncG type="table" tableValues="0.04 0.05 0.07 0.45 0.95 0.95 0.95 0.60 0.18 0.06 0.02"/><feFuncB type="table" tableValues="0.58 0.96 0.97 0.98 0.97 0.60 0.28 0.15 0.06 0.04 0.02"/></feComponentTransfer></filter>
<g clip-path="url(#fmclip3)">
<g filter="url(#fmf3)">
<rect x="249.89999999999998" y="565.9" width="254.0" height="201.5" fill="rgb(33,33,33)"/>
<g filter="url(#fmglow)">
<path d="M384 597a19 19 0 1 0 38 0a19 19 0 1 0 -38 0M260 659a19 19 0 1 0 37 0a19 19 0 1 0 -37 0M341 605a14 14 0 1 0 28 0a14 14 0 1 0 -28 0M234 611a16 16 0 1 0 32 0a16 16 0 1 0 -32 0M263 754a15 15 0 1 0 29 0a15 15 0 1 0 -29 0M363 708a16 16 0 1 0 32 0a16 16 0 1 0 -32 0M406 617a15 15 0 1 0 30 0a15 15 0 1 0 -30 0M289 705a16 16 0 1 0 32 0a16 16 0 1 0 -32 0M264 562a14 14 0 1 0 27 0a14 14 0 1 0 -27 0M436 695a14 14 0 1 0 28 0a14 14 0 1 0 -28 0M295 671a18 18 0 1 0 35 0a18 18 0 1 0 -35 0M471 619a16 16 0 1 0 32 0a16 16 0 1 0 -32 0M271 638a16 16 0 1 0 33 0a16 16 0 1 0 -33 0M234 723a18 18 0 1 0 35 0a18 18 0 1 0 -35 0M443 639a16 16 0 1 0 31 0a16 16 0 1 0 -31 0M485 748a14 14 0 1 0 28 0a14 14 0 1 0 -28 0M402 597a18 18 0 1 0 36 0a18 18 0 1 0 -36 0M272 724a17 17 0 1 0 34 0a17 17 0 1 0 -34 0M339 566a17 17 0 1 0 34 0a17 17 0 1 0 -34 0M279 756a17 17 0 1 0 34 0a17 17 0 1 0 -34 0M420 671a18 18 0 1 0 36 0a18 18 0 1 0 -36 0M373 655a16 16 0 1 0 31 0a16 16 0 1 0 -31 0M340 704a17 17 0 1 0 34 0a17 17 0 1 0 -34 0M305 609a17 17 0 1 0 35 0a17 17 0 1 0 -35 0M486 562a15 15 0 1 0 31 0a15 15 0 1 0 -31 0M338 678a14 14 0 1 0 28 0a14 14 0 1 0 -28 0M228 771a16 16 0 1 0 32 0a16 16 0 1 0 -32 0M323 636a18 18 0 1 0 35 0a18 18 0 1 0 -35 0M465 656a16 16 0 1 0 32 0a16 16 0 1 0 -32 0M467 770a17 17 0 1 0 34 0a17 17 0 1 0 -34 0M420 645a15 15 0 1 0 29 0a15 15 0 1 0 -29 0M319 683a15 15 0 1 0 31 0a15 15 0 1 0 -31 0M364 672a18 18 0 1 0 36 0a18 18 0 1 0 -36 0M426 579a14 14 0 1 0 28 0a14 14 0 1 0 -28 0M397 564a14 14 0 1 0 28 0a14 14 0 1 0 -28 0M356 633a17 17 0 1 0 34 0a17 17 0 1 0 -34 0M461 634a18 18 0 1 0 36 0a18 18 0 1 0 -36 0M382 746a15 15 0 1 0 31 0a15 15 0 1 0 -31 0M270 614a16 16 0 1 0 31 0a16 16 0 1 0 -31 0M450 669a15 15 0 1 0 30 0a15 15 0 1 0 -30 0M302 639a15 15 0 1 0 31 0a15 15 0 1 0 -31 0M403 685a17 17 0 1 0 33 0a17 17 0 1 0 -33 0M459 595a15 15 0 1 0 30 0a15 15 0 1 0 -30 0M484 594a14 14 0 1 0 28 0a14 14 0 1 0 -28 0M450 615a18 18 0 1 0 35 0a18 18 0 1 0 -35 0M334 584a18 18 0 1 0 36 0a18 18 0 1 0 -36 0M245 740a15 15 0 1 0 30 0a15 15 0 1 0 -30 0M432 611a17 17 0 1 0 33 0a17 17 0 1 0 -33 0M391 760a17 17 0 1 0 34 0a17 17 0 1 0 -34 0M362 610a19 19 0 1 0 38 0a19 19 0 1 0 -38 0M485 726a14 14 0 1 0 29 0a14 14 0 1 0 -29 0M227 641a19 19 0 1 0 38 0a19 19 0 1 0 -38 0M397 735a14 14 0 1 0 28 0a14 14 0 1 0 -28 0M287 740a16 16 0 1 0 32 0a16 16 0 1 0 -32 0M416 700a14 14 0 1 0 27 0a14 14 0 1 0 -27 0M380 619a18 18 0 1 0 36 0a18 18 0 1 0 -36 0M369 769a19 19 0 1 0 38 0a19 19 0 1 0 -38 0M229 680a18 18 0 1 0 36 0a18 18 0 1 0 -36 0M454 706a19 19 0 1 0 38 0a19 19 0 1 0 -38 0M476 696a17 17 0 1 0 33 0a17 17 0 1 0 -33 0M273 673a19 19 0 1 0 38 0a19 19 0 1 0 -38 0M463 577a18 18 0 1 0 35 0a18 18 0 1 0 -35 0M373 583a15 15 0 1 0 31 0a15 15 0 1 0 -31 0M494 618a16 16 0 1 0 31 0a16 16 0 1 0 -31 0M274 772a15 15 0 1 0 29 0a15 15 0 1 0 -29 0M338 648a16 16 0 1 0 32 0a16 16 0 1 0 -32 0M243 654a15 15 0 1 0 29 0a15 15 0 1 0 -29 0M479 672a19 19 0 1 0 38 0a19 19 0 1 0 -38 0M353 650a19 19 0 1 0 38 0a19 19 0 1 0 -38 0M317 594a15 15 0 1 0 30 0a15 15 0 1 0 -30 0M259 629a14 14 0 1 0 28 0a14 14 0 1 0 -28 0M399 665a17 17 0 1 0 33 0a17 17 0 1 0 -33 0M347 768a14 14 0 1 0 29 0a14 14 0 1 0 -29 0M424 719a17 17 0 1 0 33 0a17 17 0 1 0 -33 0M441 565a18 18 0 1 0 36 0a18 18 0 1 0 -36 0M354 580a15 15 0 1 0 30 0a15 15 0 1 0 -30 0M390 715a16 16 0 1 0 32 0a16 16 0 1 0 -32 0M345 728a19 19 0 1 0 37 0a19 19 0 1 0 -37 0M320 569a16 16 0 1 0 32 0a16 16 0 1 0 -32 0M314 659a15 15 0 1 0 31 0a15 15 0 1 0 -31 0M382 640a19 19 0 1 0 37 0a19 19 0 1 0 -37 0M492 638a18 18 0 1 0 36 0a18 18 0 1 0 -36 0M321 617a19 19 0 1 0 37 0a19 19 0 1 0 -37 0M369 726a17 17 0 1 0 35 0a17 17 0 1 0 -35 0M385 688a18 18 0 1 0 36 0a18 18 0 1 0 -36 0M232 705a17 17 0 1 0 34 0a17 17 0 1 0 -34 0M248 674a15 15 0 1 0 30 0a15 15 0 1 0 -30 0M445 583a15 15 0 1 0 30 0a15 15 0 1 0 -30 0M351 689a16 16 0 1 0 32 0a16 16 0 1 0 -32 0M401 580a18 18 0 1 0 36 0a18 18 0 1 0 -36 0M250 603a17 17 0 1 0 33 0a17 17 0 1 0 -33 0M462 560a18 18 0 1 0 36 0a18 18 0 1 0 -36 0M284 652a17 17 0 1 0 34 0a17 17 0 1 0 -34 0M495 578a15 15 0 1 0 31 0a15 15 0 1 0 -31 0M297 722a17 17 0 1 0 33 0a17 17 0 1 0 -33 0M417 626a18 18 0 1 0 36 0a18 18 0 1 0 -36 0M328 763a15 15 0 1 0 30 0a15 15 0 1 0 -30 0M491 656a19 19 0 1 0 38 0a19 19 0 1 0 -38 0M377 565a14 14 0 1 0 28 0a14 14 0 1 0 -28 0M426 559a17 17 0 1 0 33 0a17 17 0 1 0 -33 0M291 771a17 17 0 1 0 33 0a17 17 0 1 0 -33 0M493 691a17 17 0 1 0 33 0a17 17 0 1 0 -33 0" fill="#232323"/>
<path d="M268 562a10 10 0 1 0 20 0a10 10 0 1 0 -20 0M439 695a11 11 0 1 0 21 0a11 11 0 1 0 -21 0M299 671a14 14 0 1 0 28 0a14 14 0 1 0 -28 0M275 638a13 13 0 1 0 26 0a13 13 0 1 0 -26 0M237 723a14 14 0 1 0 28 0a14 14 0 1 0 -28 0M447 639a12 12 0 1 0 24 0a12 12 0 1 0 -24 0M342 566a14 14 0 1 0 27 0a14 14 0 1 0 -27 0M282 756a14 14 0 1 0 27 0a14 14 0 1 0 -27 0M308 609a14 14 0 1 0 28 0a14 14 0 1 0 -28 0M327 636a14 14 0 1 0 28 0a14 14 0 1 0 -28 0M468 656a13 13 0 1 0 25 0a13 13 0 1 0 -25 0M323 683a12 12 0 1 0 24 0a12 12 0 1 0 -24 0M368 672a15 15 0 1 0 29 0a15 15 0 1 0 -29 0M465 634a15 15 0 1 0 29 0a15 15 0 1 0 -29 0M385 746a12 12 0 1 0 24 0a12 12 0 1 0 -24 0M274 614a12 12 0 1 0 24 0a12 12 0 1 0 -24 0M454 669a12 12 0 1 0 23 0a12 12 0 1 0 -23 0M305 639a12 12 0 1 0 24 0a12 12 0 1 0 -24 0M487 594a11 11 0 1 0 21 0a11 11 0 1 0 -21 0M453 615a14 14 0 1 0 28 0a14 14 0 1 0 -28 0M338 584a15 15 0 1 0 29 0a15 15 0 1 0 -29 0M435 611a13 13 0 1 0 26 0a13 13 0 1 0 -26 0M394 760a13 13 0 1 0 27 0a13 13 0 1 0 -27 0M419 700a10 10 0 1 0 20 0a10 10 0 1 0 -20 0M479 696a13 13 0 1 0 26 0a13 13 0 1 0 -26 0M276 673a16 16 0 1 0 31 0a16 16 0 1 0 -31 0M376 583a12 12 0 1 0 24 0a12 12 0 1 0 -24 0M498 618a12 12 0 1 0 24 0a12 12 0 1 0 -24 0M278 772a11 11 0 1 0 22 0a11 11 0 1 0 -22 0M342 648a13 13 0 1 0 25 0a13 13 0 1 0 -25 0M246 654a11 11 0 1 0 22 0a11 11 0 1 0 -22 0M402 665a13 13 0 1 0 26 0a13 13 0 1 0 -26 0M350 768a11 11 0 1 0 22 0a11 11 0 1 0 -22 0M444 565a15 15 0 1 0 29 0a15 15 0 1 0 -29 0M324 569a13 13 0 1 0 25 0a13 13 0 1 0 -25 0M318 659a12 12 0 1 0 24 0a12 12 0 1 0 -24 0M495 638a15 15 0 1 0 29 0a15 15 0 1 0 -29 0M373 726a14 14 0 1 0 28 0a14 14 0 1 0 -28 0M354 689a12 12 0 1 0 25 0a12 12 0 1 0 -25 0M405 580a14 14 0 1 0 29 0a14 14 0 1 0 -29 0M466 560a15 15 0 1 0 29 0a15 15 0 1 0 -29 0M288 652a14 14 0 1 0 27 0a14 14 0 1 0 -27 0M332 763a11 11 0 1 0 23 0a11 11 0 1 0 -23 0M380 565a10 10 0 1 0 21 0a10 10 0 1 0 -21 0" fill="#727272" filter="url(#fmcres)"/>
</g>
<path d="M398 585A13 13 0 0 1 416 597M288 667A13 13 0 0 1 267 665M255 602A10 10 0 0 1 260 609M280 745A9 9 0 0 1 286 757M411 617A9 9 0 0 1 417 609M316 705A10 10 0 0 1 306 716M449 687A8 8 0 0 1 458 695M318 660A12 12 0 0 1 324 670M496 623A10 10 0 0 1 483 628M298 637A11 11 0 0 1 296 645M450 635A10 10 0 0 1 462 630M493 742A8 8 0 0 1 501 740M413 606A12 12 0 0 1 410 590M298 718A11 11 0 0 1 298 731M291 766A11 11 0 0 1 286 750M444 661A12 12 0 0 1 450 671M364 712A11 11 0 0 1 354 714M333 607A11 11 0 0 1 324 620M492 562A10 10 0 0 1 503 553M344 676A8 8 0 0 1 353 670M475 763A11 11 0 0 1 493 762M443 643A9 9 0 0 1 435 654M325 683A10 10 0 0 1 332 674M370 672A12 12 0 0 1 387 661M447 583A8 8 0 0 1 439 587M417 558A8 8 0 0 1 417 568M362 629A11 11 0 0 1 371 622M469 628A12 12 0 0 1 490 628M396 737A10 10 0 0 1 405 740M279 607A10 10 0 0 1 294 609M474 672A9 9 0 0 1 460 676M316 630A9 9 0 0 1 326 636M414 694A11 11 0 0 1 409 686M465 596A9 9 0 0 1 475 585M494 586A8 8 0 0 1 503 587M473 625A12 12 0 0 1 456 617M266 733A9 9 0 0 1 266 747M457 618A11 11 0 0 1 441 619M400 752A11 11 0 0 1 418 756M508 722A9 9 0 0 1 508 730M233 639A13 13 0 0 1 246 628M296 733A10 10 0 0 1 310 733M397 607A12 12 0 0 1 410 618M381 780A13 13 0 0 1 375 769M241 690A12 12 0 0 1 235 678M460 707A13 13 0 0 1 467 694M285 662A13 13 0 0 1 304 670M490 585A12 12 0 0 1 473 586M398 582A10 10 0 0 1 391 592M296 777A9 9 0 0 1 284 779M354 658A10 10 0 0 1 345 644M511 671A13 13 0 0 1 494 685M370 637A13 13 0 0 1 385 650M327 602A9 9 0 0 1 324 591M278 622A8 8 0 0 1 281 628M411 675A11 11 0 0 1 407 659M370 772A9 9 0 0 1 364 777M430 723A11 11 0 0 1 439 708M469 572A12 12 0 0 1 451 575M361 576A9 9 0 0 1 374 572M405 705A10 10 0 0 1 416 714M345 563A10 10 0 0 1 341 578M320 659A10 10 0 0 1 332 650M399 627A13 13 0 0 1 413 642M331 607A13 13 0 0 1 342 604M385 714A12 12 0 0 1 398 728M251 716A11 11 0 0 1 238 703M266 682A9 9 0 0 1 259 682M374 695A10 10 0 0 1 357 693M420 568A12 12 0 0 1 431 583M256 602A11 11 0 0 1 262 593M469 565A12 12 0 0 1 477 548M304 663A11 11 0 0 1 292 658M502 583A10 10 0 0 1 508 569M441 615A12 12 0 0 1 448 626M337 756A9 9 0 0 1 347 755M521 663A13 13 0 0 1 510 669M398 560A8 8 0 0 1 398 567M445 570A11 11 0 0 1 432 561M300 779A11 11 0 0 1 300 763M500 696A11 11 0 0 1 501 684" fill="none" stroke="#7f7f7f" stroke-width="1.6" filter="url(#fmcres)"/>
<g filter="url(#fmhot)">
<ellipse cx="412" cy="597" rx="7.0" ry="5.8" transform="rotate(88 412 597)" fill="#8c8c8c"/>
<ellipse cx="400" cy="609" rx="5.0" ry="2.3" transform="rotate(192 400 609)" fill="#cecece"/>
<ellipse cx="394" cy="589" rx="4.2" ry="2.3" transform="rotate(-46 394 589)" fill="#bebebe"/>
<ellipse cx="284" cy="648" rx="4.0" ry="3.3" transform="rotate(24 284 648)" fill="#5a5a5a"/>
<ellipse cx="285" cy="666" rx="4.3" ry="4.9" transform="rotate(137 285 666)" fill="#646464"/>
<ellipse cx="269" cy="667" rx="6.5" ry="3.3" transform="rotate(226 269 667)" fill="#cccccc"/>
<ellipse cx="291" cy="655" rx="6.3" ry="3.7" transform="rotate(74 291 655)" fill="#8e8e8e"/>
<ellipse cx="354" cy="597" rx="3.8" ry="3.9" transform="rotate(-6 354 597)" fill="#c4c4c4"/>
<ellipse cx="258" cy="607" rx="3.5" ry="2.4" transform="rotate(66 258 607)" fill="#acacac"/>
<ellipse cx="286" cy="755" rx="7.0" ry="2.6" transform="rotate(96 286 755)" fill="#909090"/>
<ellipse cx="283" cy="763" rx="3.5" ry="6.3" transform="rotate(148 283 763)" fill="#cbcbcb"/>
<ellipse cx="368" cy="706" rx="5.3" ry="4.2" transform="rotate(-79 368 706)" fill="#7e7e7e"/>
<ellipse cx="372" cy="717" rx="3.7" ry="5.6" transform="rotate(216 372 717)" fill="#9d9d9d"/>
<ellipse cx="382" cy="716" rx="8.9" ry="2.2" transform="rotate(156 382 716)" fill="#bbbbbb"/>
<ellipse cx="372" cy="698" rx="7.2" ry="5.5" transform="rotate(-33 372 698)" fill="#979797"/>
<ellipse cx="420" cy="608" rx="8.2" ry="3.4" transform="rotate(0 420 608)" fill="#c9c9c9"/>
<ellipse cx="411" cy="618" rx="6.2" ry="4.5" transform="rotate(264 411 618)" fill="#c6c6c6"/>
<ellipse cx="297" cy="715" rx="8.2" ry="6.2" transform="rotate(220 297 715)" fill="#c2c2c2"/>
<ellipse cx="309" cy="714" rx="5.3" ry="2.3" transform="rotate(153 309 714)" fill="#b2b2b2"/>
<ellipse cx="303" cy="672" rx="7.0" ry="3.2" transform="rotate(264 303 672)" fill="#e1e1e1"/>
<ellipse cx="322" cy="665" rx="7.9" ry="3.4" transform="rotate(56 322 665)" fill="#6f6f6f"/>
<ellipse cx="307" cy="661" rx="4.8" ry="3.0" transform="rotate(-31 307 661)" fill="#5f5f5f"/>
<ellipse cx="484" cy="626" rx="3.8" ry="4.2" transform="rotate(205 484 626)" fill="#d5d5d5"/>
<ellipse cx="478" cy="617" rx="5.7" ry="2.5" transform="rotate(-77 478 617)" fill="#cfcfcf"/>
<ellipse cx="498" cy="619" rx="7.4" ry="6.1" transform="rotate(89 498 619)" fill="#9b9b9b"/>
<ellipse cx="279" cy="633" rx="4.7" ry="2.9" transform="rotate(-58 279 633)" fill="#d4d4d4"/>
<ellipse cx="256" cy="733" rx="4.8" ry="2.1" transform="rotate(154 256 733)" fill="#919191"/>
<ellipse cx="251" cy="714" rx="4.1" ry="3.5" transform="rotate(-7 251 714)" fill="#828282"/>
<ellipse cx="420" cy="588" rx="3.8" ry="5.5" transform="rotate(-4 420 588)" fill="#9b9b9b"/>
<ellipse cx="296" cy="733" rx="5.7" ry="3.8" transform="rotate(138 296 733)" fill="#676767"/>
<ellipse cx="354" cy="574" rx="8.5" ry="3.9" transform="rotate(190 354 574)" fill="#c4c4c4"/>
<ellipse cx="345" cy="567" rx="4.5" ry="2.3" transform="rotate(261 345 567)" fill="#c4c4c4"/>
<ellipse cx="300" cy="747" rx="3.8" ry="3.2" transform="rotate(25 300 747)" fill="#b6b6b6"/>
<ellipse cx="292" cy="765" rx="8.7" ry="2.3" transform="rotate(204 292 765)" fill="#b9b9b9"/>
<ellipse cx="302" cy="764" rx="4.4" ry="2.5" transform="rotate(143 302 764)" fill="#656565"/>
<ellipse cx="428" cy="679" rx="8.3" ry="3.7" transform="rotate(232 428 679)" fill="#737373"/>
<ellipse cx="426" cy="668" rx="4.4" ry="4.1" transform="rotate(-75 426 668)" fill="#bfbfbf"/>
<ellipse cx="386" cy="663" rx="7.6" ry="3.4" transform="rotate(202 386 663)" fill="#d4d4d4"/>
<ellipse cx="382" cy="653" rx="8.9" ry="4.1" transform="rotate(-72 382 653)" fill="#dedede"/>
<ellipse cx="394" cy="649" rx="7.6" ry="2.6" transform="rotate(37 394 649)" fill="#545454"/>
<ellipse cx="362" cy="696" rx="6.5" ry="2.8" transform="rotate(32 362 696)" fill="#5a5a5a"/>
<ellipse cx="328" cy="601" rx="4.7" ry="2.4" transform="rotate(36 328 601)" fill="#616161"/>
<ellipse cx="330" cy="612" rx="6.1" ry="3.8" transform="rotate(114 330 612)" fill="#767676"/>
<ellipse cx="492" cy="561" rx="6.8" ry="3.1" transform="rotate(-83 492 561)" fill="#d7d7d7"/>
<ellipse cx="506" cy="570" rx="7.5" ry="3.1" transform="rotate(150 506 570)" fill="#999999"/>
<ellipse cx="344" cy="680" rx="8.0" ry="4.0" transform="rotate(254 344 680)" fill="#595959"/>
<ellipse cx="358" cy="683" rx="8.1" ry="3.5" transform="rotate(126 358 683)" fill="#bcbcbc"/>
<ellipse cx="328" cy="638" rx="6.5" ry="5.7" transform="rotate(264 328 638)" fill="#868686"/>
<ellipse cx="340" cy="627" rx="7.1" ry="3.8" transform="rotate(-4 340 627)" fill="#888888"/>
<ellipse cx="480" cy="646" rx="8.5" ry="3.1" transform="rotate(-3 480 646)" fill="#dcdcdc"/>
<ellipse cx="473" cy="663" rx="7.7" ry="4.0" transform="rotate(230 473 663)" fill="#737373"/>
<ellipse cx="488" cy="663" rx="8.9" ry="3.8" transform="rotate(134 488 663)" fill="#cccccc"/>
<ellipse cx="435" cy="637" rx="5.3" ry="2.4" transform="rotate(1 435 637)" fill="#aeaeae"/>
<ellipse cx="377" cy="661" rx="3.6" ry="3.0" transform="rotate(-25 377 661)" fill="#cfcfcf"/>
<ellipse cx="392" cy="680" rx="6.1" ry="4.8" transform="rotate(128 392 680)" fill="#9b9b9b"/>
<ellipse cx="374" cy="681" rx="7.0" ry="4.1" transform="rotate(224 374 681)" fill="#d1d1d1"/>
<ellipse cx="448" cy="573" rx="4.4" ry="5.6" transform="rotate(54 448 573)" fill="#5b5b5b"/>
<ellipse cx="432" cy="579" rx="7.9" ry="4.0" transform="rotate(267 432 579)" fill="#bababa"/>
<ellipse cx="441" cy="570" rx="4.8" ry="3.7" transform="rotate(7 441 570)" fill="#797979"/>
<ellipse cx="414" cy="570" rx="4.6" ry="2.4" transform="rotate(152 414 570)" fill="#999999"/>
<ellipse cx="376" cy="622" rx="5.4" ry="4.1" transform="rotate(19 376 622)" fill="#949494"/>
<ellipse cx="363" cy="640" rx="7.4" ry="5.4" transform="rotate(230 363 640)" fill="#707070"/>
<ellipse cx="372" cy="640" rx="5.4" ry="5.0" transform="rotate(181 372 640)" fill="#646464"/>
<ellipse cx="473" cy="624" rx="8.8" ry="3.3" transform="rotate(-32 473 624)" fill="#9a9a9a"/>
<ellipse cx="402" cy="752" rx="5.2" ry="2.8" transform="rotate(143 402 752)" fill="#535353"/>
<ellipse cx="405" cy="740" rx="5.3" ry="3.8" transform="rotate(51 405 740)" fill="#686868"/>
<ellipse cx="393" cy="756" rx="8.1" ry="5.0" transform="rotate(203 393 756)" fill="#8d8d8d"/>
<ellipse cx="392" cy="737" rx="7.5" ry="5.1" transform="rotate(-27 392 737)" fill="#585858"/>
<ellipse cx="279" cy="622" rx="6.7" ry="4.9" transform="rotate(221 279 622)" fill="#838383"/>
<ellipse cx="277" cy="609" rx="6.9" ry="4.5" transform="rotate(-60 277 609)" fill="#8f8f8f"/>
<ellipse cx="310" cy="645" rx="6.9" ry="3.6" transform="rotate(230 310 645)" fill="#585858"/>
<ellipse cx="425" cy="694" rx="7.9" ry="3.2" transform="rotate(148 425 694)" fill="#7e7e7e"/>
<ellipse cx="418" cy="675" rx="5.8" ry="3.1" transform="rotate(-12 418 675)" fill="#9f9f9f"/>
<ellipse cx="412" cy="687" rx="4.5" ry="4.5" transform="rotate(259 412 687)" fill="#e3e3e3"/>
<ellipse cx="477" cy="587" rx="7.4" ry="2.2" transform="rotate(20 477 587)" fill="#4e4e4e"/>
<ellipse cx="491" cy="587" rx="4.0" ry="6.2" transform="rotate(-46 491 587)" fill="#b7b7b7"/>
<ellipse cx="504" cy="586" rx="7.0" ry="5.2" transform="rotate(39 504 586)" fill="#6c6c6c"/>
<ellipse cx="341" cy="590" rx="9.1" ry="4.8" transform="rotate(243 341 590)" fill="#838383"/>
<ellipse cx="362" cy="582" rx="5.7" ry="3.2" transform="rotate(75 362 582)" fill="#b6b6b6"/>
<ellipse cx="344" cy="576" rx="6.7" ry="3.6" transform="rotate(-46 344 576)" fill="#d5d5d5"/>
<ellipse cx="442" cy="618" rx="5.4" ry="2.7" transform="rotate(221 442 618)" fill="#c4c4c4"/>
<ellipse cx="399" cy="764" rx="7.4" ry="2.2" transform="rotate(246 399 764)" fill="#7b7b7b"/>
<ellipse cx="390" cy="615" rx="7.4" ry="4.0" transform="rotate(119 390 615)" fill="#bcbcbc"/>
<ellipse cx="253" cy="649" rx="5.9" ry="3.5" transform="rotate(137 253 649)" fill="#535353"/>
<ellipse cx="409" cy="726" rx="4.8" ry="5.3" transform="rotate(-13 409 726)" fill="#707070"/>
<ellipse cx="308" cy="732" rx="7.7" ry="3.7" transform="rotate(31 308 732)" fill="#4d4d4d"/>
<ellipse cx="434" cy="708" rx="5.5" ry="5.9" transform="rotate(149 434 708)" fill="#515151"/>
<ellipse cx="248" cy="693" rx="7.0" ry="4.9" transform="rotate(174 248 693)" fill="#b2b2b2"/>
<ellipse cx="484" cy="700" rx="9.1" ry="2.3" transform="rotate(63 484 700)" fill="#dcdcdc"/>
<ellipse cx="495" cy="685" rx="8.0" ry="4.1" transform="rotate(13 495 685)" fill="#bababa"/>
<ellipse cx="501" cy="693" rx="3.6" ry="2.9" transform="rotate(73 501 693)" fill="#b2b2b2"/>
<ellipse cx="297" cy="662" rx="4.8" ry="2.8" transform="rotate(24 297 662)" fill="#686868"/>
<ellipse cx="469" cy="580" rx="6.8" ry="3.6" transform="rotate(254 469 580)" fill="#a7a7a7"/>
<ellipse cx="481" cy="569" rx="7.7" ry="5.2" transform="rotate(-1 481 569)" fill="#777777"/>
<ellipse cx="378" cy="581" rx="5.1" ry="3.9" transform="rotate(-80 378 581)" fill="#616161"/>
<ellipse cx="389" cy="573" rx="4.8" ry="4.3" transform="rotate(8 389 573)" fill="#4d4d4d"/>
<ellipse cx="510" cy="627" rx="6.2" ry="2.5" transform="rotate(180 510 627)" fill="#cbcbcb"/>
<ellipse cx="297" cy="771" rx="8.4" ry="2.9" transform="rotate(88 297 771)" fill="#b8b8b8"/>
<ellipse cx="362" cy="649" rx="5.5" ry="4.3" transform="rotate(97 362 649)" fill="#acacac"/>
<ellipse cx="260" cy="664" rx="3.9" ry="5.2" transform="rotate(164 260 664)" fill="#dfdfdf"/>
<ellipse cx="504" cy="664" rx="8.5" ry="4.7" transform="rotate(38 504 664)" fill="#808080"/>
<ellipse cx="504" cy="682" rx="5.5" ry="2.5" transform="rotate(147 504 682)" fill="#aeaeae"/>
<ellipse cx="335" cy="604" rx="7.7" ry="5.0" transform="rotate(161 335 604)" fill="#c7c7c7"/>
<ellipse cx="409" cy="676" rx="5.0" ry="6.2" transform="rotate(209 409 676)" fill="#b5b5b5"/>
<ellipse cx="353" cy="766" rx="7.2" ry="4.5" transform="rotate(-73 353 766)" fill="#aeaeae"/>
<ellipse cx="460" cy="575" rx="6.4" ry="3.1" transform="rotate(175 460 575)" fill="#c9c9c9"/>
<ellipse cx="470" cy="562" rx="7.5" ry="2.3" transform="rotate(76 470 562)" fill="#d9d9d9"/>
<ellipse cx="450" cy="562" rx="6.7" ry="4.6" transform="rotate(-71 450 562)" fill="#5d5d5d"/>
<ellipse cx="397" cy="720" rx="7.0" ry="4.2" transform="rotate(242 397 720)" fill="#5b5b5b"/>
<ellipse cx="376" cy="727" rx="9.1" ry="3.0" transform="rotate(83 376 727)" fill="#717171"/>
<ellipse cx="510" cy="647" rx="7.9" ry="5.0" transform="rotate(180 510 647)" fill="#747474"/>
</g>
</g>
<path d="M280 576l4 8 -2 8 -6 6 -10 1 -5 -9 4 -8 5 -6zM390 596l5 -9 9 -1 8 3 4 10 -6 7 -8 1 -9 -2zM269 663l-1 -8 7 -5 7 0 7 5 1 9 -8 5 -7 -1zM349 607l0 -5 3 -5 6 2 2 4 0 5 -3 5 -6 -1zM341 748l-5 -7 4 -8 7 0 7 0 6 7 -5 7 -7 3zM259 615l-6 3 -7 2 -5 -6 2 -7 5 -3 7 -2 4 6zM266 778l-5 -3 -1 -7 4 -6 7 1 4 5 3 6 -5 5zM328 778l-4 -1 -6 -4 2 -7 6 0 6 1 3 4 -2 6zM271 752l3 -5 5 0 4 3 2 6 -3 5 -6 1 -6 -4zM374 716l-5 -5 3 -7 4 -6 7 2 4 5 -2 6 -4 6zM425 612l2 5 -1 5 -5 2 -5 -2 -3 -4 1 -6 6 -4zM300 698l7 -2 5 4 1 7 -3 5 -6 3 -7 -4 1 -7zM272 562l2 -5 4 -3 5 3 1 5 -2 4 -4 4 -4 -4zM457 692l-1 5 -4 4 -5 2 -4 -4 1 -6 3 -4 5 -2zM310 679l-6 -4 -4 -9 8 -4 8 1 8 3 0 9 -7 5zM477 616l6 -4 6 0 7 2 0 8 -5 4 -7 1 -6 -3zM292 647l-7 0 -5 -5 -1 -7 4 -6 9 -2 4 7 0 7zM244 730l-1 -8 1 -9 9 -1 6 6 3 7 -4 6 -8 3zM452 642l0 -6 4 -6 7 1 4 6 -2 6 -3 5 -7 -2zM495 755l-3 -5 0 -6 5 -1 5 -1 5 4 -2 6 -5 2zM429 600l-4 7 -9 3 -6 -8 3 -8 3 -6 9 -3 4 7zM280 719l7 -3 7 -1 5 7 -1 7 -7 3 -6 0 -5 -5zM350 558l7 -2 7 2 3 9 -4 7 -8 1 -7 -3 -4 -7zM296 745l7 4 1 7 -2 6 -6 5 -7 -4 -1 -7 2 -6zM332 717l-9 -2 -4 -8 -1 -10 8 -5 8 4 7 6 0 10zM382 751l-7 3 -5 -5 -1 -6 3 -5 6 -3 7 3 -2 7zM430 679l-3 -8 3 -7 8 -3 8 2 3 8 -5 6 -6 5zM388 664l-6 -2 -2 -7 4 -5 6 -2 6 1 3 7 -6 5zM366 704l-3 6 -6 2 -8 -1 -2 -8 3 -7 7 -2 8 3zM317 616l-4 -5 -1 -8 7 -5 7 4 6 4 -2 8 -6 5zM492 559l6 -3 6 -2 4 4 1 6 -4 5 -6 1 -5 -4zM359 679l-3 5 -6 2 -3 -5 -2 -4 2 -6 6 0 5 3zM248 780l-8 2 -5 -7 0 -7 4 -6 8 0 4 6 0 5zM341 627l7 2 3 7 -1 9 -9 1 -7 -2 -5 -7 3 -9zM290 603l4 -7 6 -5 7 3 5 5 -2 8 -7 3 -6 -2zM490 656l-3 7 -6 4 -7 -4 -3 -7 5 -5 5 -4 7 2zM480 761l7 -1 4 6 4 8 -6 5 -8 1 -6 -6 -1 -8zM428 643l3 -4 6 -2 4 5 1 6 -3 5 -6 -1 -3 -4zM332 736l-5 -1 -4 -5 2 -6 6 -2 5 1 4 5 -4 5zM326 679l6 -3 5 1 6 3 0 7 -6 3 -5 -1 -6 -3zM375 681l-4 -8 3 -8 7 -5 9 3 2 8 -1 9 -8 4zM470 758l-6 -1 -4 -4 3 -6 4 -3 6 0 3 5 -2 6zM441 585l-4 -1 -4 -4 1 -6 5 -3 5 2 3 4 1 7zM307 567l4 0 4 3 1 6 -6 3 -5 -2 -4 -3 1 -5zM407 559l4 -2 5 2 3 5 -4 4 -4 2 -5 -1 -3 -6zM248 566l6 2 2 6 -4 6 -5 2 -6 -2 -2 -6 4 -5zM369 639l-5 -3 0 -7 5 -5 8 0 5 5 2 9 -8 4zM490 630l2 9 -8 5 -7 -1 -8 -4 0 -8 5 -8 10 0zM406 745l-2 7 -6 2 -5 -3 -6 -4 4 -6 6 -2 6 0zM294 607l0 8 -3 5 -6 3 -7 -3 0 -6 3 -5 5 -4zM473 670l-2 6 -6 -1 -5 -2 -3 -5 3 -7 7 -1 5 4zM320 631l6 5 -1 7 -5 4 -6 -2 -6 -3 1 -7 5 -4zM488 723l-2 8 -5 5 -8 4 -7 -6 1 -10 6 -4 9 -4zM430 686l-5 6 -6 3 -6 -5 -5 -6 6 -7 7 -2 6 4zM480 590l3 6 -4 5 -6 1 -4 -3 -2 -6 2 -6 6 2zM504 590l0 5 -2 6 -6 0 -4 -4 0 -5 2 -5 6 0zM443 768l-3 8 -7 5 -8 -3 -5 -7 5 -7 5 -4 9 1zM469 624l-7 -2 -4 -6 0 -8 7 -4 7 4 7 5 -3 8zM362 586l-3 7 -9 3 -7 -5 -1 -9 4 -7 9 -4 6 7zM253 737l4 -4 7 -1 3 6 -2 5 -3 4 -6 2 -5 -6zM441 615l-5 -6 7 -6 7 0 5 3 4 7 -5 6 -8 2zM523 765l-4 10 -9 2 -9 0 -3 -9 2 -8 8 -4 8 2zM403 749l8 3 4 5 2 7 -5 7 -7 -3 -6 -4 -2 -8zM373 621l-3 -9 1 -9 7 -6 9 2 3 9 0 8 -7 8zM500 732l-6 -1 -3 -6 4 -5 5 -1 6 1 1 6 -3 4zM256 650l-9 4 -7 -5 -6 -7 2 -9 9 -4 7 5 7 6zM406 734l0 -5 6 0 4 2 1 5 -2 5 -5 3 -4 -5zM306 747l-5 0 -5 -4 -2 -7 5 -5 7 2 6 3 2 8zM432 707l-5 -1 -3 -3 -2 -5 4 -5 5 2 4 3 1 4zM389 623l0 -8 5 -8 8 4 4 6 3 8 -7 6 -9 -2zM262 698l3 -7 7 -2 7 4 3 7 -5 6 -6 3 -8 -3zM376 764l7 -7 9 1 6 6 3 10 -7 8 -10 -4 -6 -5zM237 673l8 -4 8 2 4 7 -1 8 -7 5 -7 -3 -5 -6zM485 705l-4 7 -7 4 -11 1 -4 -10 7 -7 6 -5 10 1zM493 707l-6 -5 -5 -5 2 -8 8 -3 6 3 2 6 0 8zM282 668l6 -7 10 1 3 9 2 8 -7 8 -9 -4 -5 -7zM488 568l3 9 -4 6 -6 5 -8 -3 -1 -7 1 -7 7 -6zM383 575l7 0 4 4 2 6 -4 5 -6 0 -5 -3 -2 -6zM440 732l3 10 -9 5 -7 2 -8 -4 -3 -10 8 -6 8 -2zM505 612l6 -1 6 2 2 7 -4 6 -6 -1 -6 -2 -2 -6zM295 768l1 5 -4 4 -5 2 -4 -4 -2 -5 4 -5 5 1zM453 727l4 -4 5 1 4 5 -2 5 -4 3 -6 1 -3 -6zM359 639l5 6 -1 7 -6 4 -7 0 -5 -5 1 -8 6 -4zM259 660l-5 0 -6 -4 4 -6 4 -3 6 1 5 5 -3 6zM509 676l-7 6 -9 3 -6 -8 0 -9 6 -6 9 0 9 4zM384 649l-5 7 -5 7 -11 -1 -3 -10 4 -8 6 -8 9 5zM324 591l5 -3 5 1 6 2 1 7 -6 4 -5 -2 -5 -3zM274 636l-6 -1 -2 -5 1 -5 5 -2 5 0 4 5 -2 5zM406 669l1 -7 5 -5 7 -2 4 7 0 6 -3 6 -9 2zM354 765l4 -4 6 0 4 4 2 7 -6 3 -5 0 -4 -4zM440 708l8 3 2 8 -4 5 -6 3 -6 -1 -4 -7 4 -6zM470 568l-6 6 -8 1 -7 -4 -1 -9 6 -5 8 -3 8 4zM363 575l5 -3 7 0 2 7 -3 4 -3 4 -7 0 -3 -6zM400 720l-1 -6 1 -7 7 0 6 3 3 7 -3 7 -8 0zM366 719l8 3 1 9 -5 8 -9 0 -6 -5 -5 -9 8 -6zM346 572l-6 3 -6 1 -7 -3 1 -7 4 -5 7 0 7 3zM324 666l-3 -6 2 -7 7 -2 6 2 2 6 -2 6 -6 3zM411 632l2 10 -7 6 -7 4 -9 -4 0 -10 4 -7 9 -4zM503 645l-2 -7 1 -8 8 -3 8 2 2 8 -1 9 -9 5zM341 607l8 3 1 8 -3 8 -9 2 -9 -3 -2 -10 6 -6zM374 724l6 -7 8 1 8 1 2 8 -6 6 -7 1 -6 -3zM440 754l3 -7 6 -2 6 2 5 6 -5 6 -5 1 -6 -1zM322 765l-8 4 -7 -7 1 -8 4 -7 9 -2 7 6 -1 9zM397 679l8 0 9 2 -2 10 -3 7 -9 2 -9 -4 0 -10zM241 711l-1 -8 3 -7 8 1 6 2 3 8 -5 6 -7 0zM261 680l-4 -4 -3 -6 6 -4 6 1 3 4 4 6 -7 3zM453 581l3 -7 7 1 5 4 -1 6 -2 7 -7 0 -4 -6zM374 684l0 7 -3 5 -7 2 -6 -5 1 -6 3 -5 7 -2zM419 569l9 1 1 9 -2 8 -7 4 -9 -2 -3 -9 5 -6zM286 698l-3 -6 2 -8 8 -3 7 5 1 7 -2 7 -7 1zM273 608l-5 6 -7 -3 -3 -7 2 -7 6 -2 7 1 3 6zM472 555l6 -5 8 -1 7 7 -2 10 -8 4 -8 -1 -6 -6zM469 776l-5 4 -5 0 -5 -2 0 -6 3 -5 6 0 4 4zM298 643l7 0 4 6 3 8 -7 5 -7 -1 -5 -5 -2 -8zM517 583l-5 3 -7 0 -2 -7 1 -5 5 -4 7 -1 2 8zM324 724l-5 6 -7 1 -7 -3 -1 -8 6 -4 6 -4 7 4zM443 634l-8 3 -8 -3 -6 -8 5 -9 9 -1 7 3 8 7zM340 770l-3 -5 0 -5 3 -6 7 2 3 5 1 5 -4 5zM500 652l6 -5 9 -4 6 9 -2 8 -5 6 -9 2 -5 -8zM394 570l-4 0 -6 -1 0 -6 2 -4 6 0 4 2 1 5zM432 557l6 -5 7 -2 5 5 3 7 -6 4 -6 2 -8 -3zM308 781l-6 -4 -5 -5 3 -7 6 -3 7 2 3 6 0 9zM298 615l6 1 4 3 2 6 -5 4 -6 1 -4 -4 -1 -6zM501 689l3 -7 8 -1 5 5 0 6 -2 7 -8 3 -5 -6z" fill="#1c0a94" filter="url(#fmpart)"/>
</g>
<rect x="400.8" y="745.4" width="81.39999999999998" height="4.399999999999977" fill="#fff" />
<linearGradient id="jet1" x1="0" y1="0" x2="0" y2="1"><stop offset="0" stop-color="#7a0a0a"/><stop offset="0.1" stop-color="#c81a0e"/><stop offset="0.2" stop-color="#ff2a10"/><stop offset="0.3" stop-color="#f08a30"/><stop offset="0.37" stop-color="#eef040"/><stop offset="0.5" stop-color="#80e878"/><stop offset="0.63" stop-color="#68f8f4"/><stop offset="0.7" stop-color="#48b0f8"/><stop offset="0.8" stop-color="#2a30f8"/><stop offset="0.87" stop-color="#1a0af8"/><stop offset="1.0" stop-color="#1c0a8c"/></linearGradient>
<rect x="501.8" y="47" width="15.199999999999989" height="232" fill="url(#jet1)" />
<linearGradient id="jet2" x1="0" y1="0" x2="0" y2="1"><stop offset="0" stop-color="#7a0a0a"/><stop offset="0.1" stop-color="#c81a0e"/><stop offset="0.2" stop-color="#ff2a10"/><stop offset="0.3" stop-color="#f08a30"/><stop offset="0.37" stop-color="#eef040"/><stop offset="0.5" stop-color="#80e878"/><stop offset="0.63" stop-color="#68f8f4"/><stop offset="0.7" stop-color="#48b0f8"/><stop offset="0.8" stop-color="#2a30f8"/><stop offset="0.87" stop-color="#1a0af8"/><stop offset="1.0" stop-color="#1c0a8c"/></linearGradient>
<rect x="501.8" y="286" width="15.199999999999989" height="233" fill="url(#jet2)" />
<linearGradient id="jet3" x1="0" y1="0" x2="0" y2="1"><stop offset="0" stop-color="#7a0a0a"/><stop offset="0.1" stop-color="#c81a0e"/><stop offset="0.2" stop-color="#ff2a10"/><stop offset="0.3" stop-color="#f08a30"/><stop offset="0.37" stop-color="#eef040"/><stop offset="0.5" stop-color="#80e878"/><stop offset="0.63" stop-color="#68f8f4"/><stop offset="0.7" stop-color="#48b0f8"/><stop offset="0.8" stop-color="#2a30f8"/><stop offset="0.87" stop-color="#1a0af8"/><stop offset="1.0" stop-color="#1c0a8c"/></linearGradient>
<rect x="501.8" y="527" width="15.199999999999989" height="232.5" fill="url(#jet3)" />
<text transform="translate(274,77.1) scale(0.95,1)" font-size="26.5">|E<tspan font-size="18" dy="5.5">max</tspan><tspan dy="-5.5">/E</tspan><tspan font-size="18" dy="5.5">0</tspan><tspan dy="-5.5">|</tspan><tspan font-size="17" dy="-10.5">2</tspan><tspan dy="10.5"> = 180</tspan></text>
<text transform="translate(274,316.5) scale(0.95,1)" font-size="26.5">|E<tspan font-size="18" dy="5.5">max</tspan><tspan dy="-5.5">/E</tspan><tspan font-size="18" dy="5.5">0</tspan><tspan dy="-5.5">|</tspan><tspan font-size="17" dy="-10.5">2</tspan><tspan dy="10.5"> = 331</tspan></text>
<text transform="translate(274,557) scale(0.95,1)" font-size="26.5">|E<tspan font-size="18" dy="5.5">max</tspan><tspan dy="-5.5">/E</tspan><tspan font-size="18" dy="5.5">0</tspan><tspan dy="-5.5">|</tspan><tspan font-size="17" dy="-10.5">2</tspan><tspan dy="10.5"> = 1,568</tspan></text>
<text transform="translate(522.00,70.20) scale(0.2993,0.3000)" font-size="100" fill="#000" >&gt;100</text>
<text transform="translate(522.00,309.20) scale(0.2993,0.3000)" font-size="100" fill="#000" >&gt;100</text>
<text transform="translate(522.00,550.20) scale(0.2993,0.3000)" font-size="100" fill="#000" >&gt;100</text>
<text transform="translate(522.79,279.00) scale(0.2953,0.2900)" font-size="100" fill="#000" >1.0</text>
<text transform="translate(522.79,519.00) scale(0.2953,0.2900)" font-size="100" fill="#000" >1.0</text>
<text transform="translate(522.79,759.50) scale(0.2953,0.2900)" font-size="100" fill="#000" >1.0</text>
<text transform="translate(531,107.1) rotate(90) scale(0.93,1)" font-size="31">|E/E<tspan font-size="21" dy="6">0</tspan><tspan dy="-6">|</tspan><tspan font-size="20" dy="-12">2</tspan></text>
<text transform="translate(531,346.7) rotate(90) scale(0.93,1)" font-size="31">|E/E<tspan font-size="21" dy="6">0</tspan><tspan dy="-6">|</tspan><tspan font-size="20" dy="-12">2</tspan></text>
<text transform="translate(531,586.7) rotate(90) scale(0.93,1)" font-size="31">|E/E<tspan font-size="21" dy="6">0</tspan><tspan dy="-6">|</tspan><tspan font-size="20" dy="-12">2</tspan></text>
<text transform="translate(0.31,37.40) scale(0.4718,0.5036)" font-size="100" fill="#000" >a</text>
<radialGradient id="wy" cx="0.45" cy="0.42" r="0.6"><stop offset="0" stop-color="#efe98c"/><stop offset="1" stop-color="#e5dc7c"/></radialGradient>
<circle cx="765.9" cy="51.5" r="44" fill="url(#wy)"/>
<circle cx="765.9" cy="51.5" r="30.8" fill="none" stroke="#d9cf7a" stroke-width="0.9"/>
<path d="M762.8,20.9 Q764.8,27.9 771.3,31.8 A6.6,6.6 0 1 1 759.5,34.2 Q763.8,28.1 762.8,20.9Z" fill="none" stroke="#d9cf7c" stroke-width="0.8"/>
<path d="M790.9,33.5 Q785.7,38.8 785.6,46.3 A6.6,6.6 0 1 1 777.6,37.3 Q785.1,38.0 790.9,33.5Z" fill="none" stroke="#d9cf7c" stroke-width="0.8"/>
<path d="M794.0,64.2 Q786.9,62.3 780.3,66.0 A6.6,6.6 0 1 1 784.1,54.5 Q787.2,61.4 794.0,64.2Z" fill="none" stroke="#d9cf7c" stroke-width="0.8"/>
<path d="M769.0,82.1 Q767.0,75.1 760.5,71.2 A6.6,6.6 0 1 1 772.3,68.8 Q768.0,74.9 769.0,82.1Z" fill="none" stroke="#d9cf7c" stroke-width="0.8"/>
<path d="M740.9,69.5 Q746.1,64.2 746.2,56.7 A6.6,6.6 0 1 1 754.2,65.7 Q746.7,65.0 740.9,69.5Z" fill="none" stroke="#d9cf7c" stroke-width="0.8"/>
<path d="M737.8,38.8 Q744.9,40.7 751.5,37.0 A6.6,6.6 0 1 1 747.7,48.5 Q744.6,41.6 737.8,38.8Z" fill="none" stroke="#d9cf7c" stroke-width="0.8"/>
<radialGradient id="wp1" cx="0.5" cy="0.5" r="0.55"><stop offset="0" stop-color="#a29dce"/><stop offset="1" stop-color="#9891c4"/></radialGradient>
<circle cx="902.4" cy="91.5" r="42" fill="url(#wp1)"/>
<circle cx="902.4" cy="91.5" r="12.2" fill="#b8bcd8" opacity="0.8"/>
<circle cx="902.4" cy="91.5" r="28.6" fill="none" stroke="#ddd2c8" stroke-width="1.1"/>
<path d="M902.4,62.9 Q903.6,69.4 909.5,73.2 A6.5,6.5 0 1 1 897.7,74.5 Q902.7,69.5 902.4,62.9Z" fill="#9a7098" stroke="#a07898" stroke-width="0.7"/>
<circle cx="905.5" cy="74.2" r="1.3" fill="#e8d8d0"/>
<circle cx="905.1" cy="78.9" r="1.3" fill="#e8d8d0"/>
<circle cx="901.2" cy="76.2" r="1.3" fill="#e8d8d0"/>
<path d="M927.1,77.2 Q922.1,81.5 921.8,88.5 A6.5,6.5 0 1 1 914.8,78.9 Q921.5,80.7 927.1,77.2Z" fill="#9a7098" stroke="#a07898" stroke-width="0.7"/>
<circle cx="918.9" cy="85.5" r="1.3" fill="#e8d8d0"/>
<circle cx="914.6" cy="87.5" r="1.3" fill="#e8d8d0"/>
<circle cx="915.0" cy="82.8" r="1.3" fill="#e8d8d0"/>
<path d="M927.1,105.8 Q920.9,103.6 914.7,106.8 A6.5,6.5 0 1 1 919.5,96.0 Q921.3,102.7 927.1,105.8Z" fill="#9a7098" stroke="#a07898" stroke-width="0.7"/>
<circle cx="915.9" cy="102.8" r="1.3" fill="#e8d8d0"/>
<circle cx="912.0" cy="100.1" r="1.3" fill="#e8d8d0"/>
<circle cx="916.2" cy="98.1" r="1.3" fill="#e8d8d0"/>
<path d="M902.4,120.1 Q901.2,113.6 895.3,109.8 A6.5,6.5 0 1 1 907.1,108.5 Q902.1,113.5 902.4,120.1Z" fill="#9a7098" stroke="#a07898" stroke-width="0.7"/>
<circle cx="899.3" cy="108.8" r="1.3" fill="#e8d8d0"/>
<circle cx="899.7" cy="104.1" r="1.3" fill="#e8d8d0"/>
<circle cx="903.6" cy="106.8" r="1.3" fill="#e8d8d0"/>
<path d="M877.7,105.8 Q882.7,101.5 883.0,94.5 A6.5,6.5 0 1 1 890.0,104.1 Q883.3,102.3 877.7,105.8Z" fill="#9a7098" stroke="#a07898" stroke-width="0.7"/>
<circle cx="885.9" cy="97.5" r="1.3" fill="#e8d8d0"/>
<circle cx="890.2" cy="95.5" r="1.3" fill="#e8d8d0"/>
<circle cx="889.8" cy="100.2" r="1.3" fill="#e8d8d0"/>
<path d="M877.7,77.2 Q883.9,79.4 890.1,76.2 A6.5,6.5 0 1 1 885.3,87.0 Q883.5,80.3 877.7,77.2Z" fill="#9a7098" stroke="#a07898" stroke-width="0.7"/>
<circle cx="888.9" cy="80.2" r="1.3" fill="#e8d8d0"/>
<circle cx="892.8" cy="82.9" r="1.3" fill="#e8d8d0"/>
<circle cx="888.6" cy="84.9" r="1.3" fill="#e8d8d0"/>
<circle cx="902.4" cy="91.5" r="2.1" fill="#9a7098" stroke="#ddd2c8" stroke-width="0.6"/>
<circle cx="919.1" cy="68.3" r="1.3" fill="#ddd2c8"/>
<circle cx="930.8" cy="94.4" r="1.3" fill="#ddd2c8"/>
<circle cx="914.1" cy="117.5" r="1.3" fill="#ddd2c8"/>
<circle cx="885.7" cy="114.7" r="1.3" fill="#ddd2c8"/>
<circle cx="874.0" cy="88.6" r="1.3" fill="#ddd2c8"/>
<circle cx="890.7" cy="65.5" r="1.3" fill="#ddd2c8"/>
<radialGradient id="wp2" cx="0.5" cy="0.5" r="0.55"><stop offset="0" stop-color="#6360b0"/><stop offset="1" stop-color="#5653a0"/></radialGradient>
<circle cx="1018" cy="60" r="43" fill="url(#wp2)"/>
<circle cx="1018" cy="60" r="12.5" fill="#8a88c0" opacity="0.8"/>
<circle cx="1018" cy="60" r="29.2" fill="none" stroke="#c88870" stroke-width="1.1"/>
<path d="M1020.9,30.9 Q1021.5,37.6 1027.1,42.0 A6.7,6.7 0 1 1 1015.0,42.2 Q1020.5,37.7 1020.9,30.9Z" fill="#8a3468" stroke="#6a2a50" stroke-width="0.7"/>
<circle cx="1022.9" cy="42.7" r="1.3" fill="#d8b0b8"/>
<circle cx="1022.0" cy="47.5" r="1.3" fill="#d8b0b8"/>
<circle cx="1018.3" cy="44.3" r="1.3" fill="#d8b0b8"/>
<path d="M1044.7,48.0 Q1039.1,51.8 1038.1,58.9 A6.7,6.7 0 1 1 1031.9,48.5 Q1038.6,51.0 1044.7,48.0Z" fill="#8a3468" stroke="#6a2a50" stroke-width="0.7"/>
<circle cx="1035.4" cy="55.6" r="1.3" fill="#d8b0b8"/>
<circle cx="1030.9" cy="57.2" r="1.3" fill="#d8b0b8"/>
<circle cx="1031.7" cy="52.5" r="1.3" fill="#d8b0b8"/>
<path d="M1041.7,77.1 Q1035.6,74.2 1029.0,76.9 A6.7,6.7 0 1 1 1035.0,66.3 Q1036.1,73.3 1041.7,77.1Z" fill="#8a3468" stroke="#6a2a50" stroke-width="0.7"/>
<circle cx="1030.6" cy="72.9" r="1.3" fill="#d8b0b8"/>
<circle cx="1026.8" cy="69.8" r="1.3" fill="#d8b0b8"/>
<circle cx="1031.4" cy="68.1" r="1.3" fill="#d8b0b8"/>
<path d="M1015.1,89.1 Q1014.5,82.4 1008.9,78.0 A6.7,6.7 0 1 1 1021.0,77.8 Q1015.5,82.3 1015.1,89.1Z" fill="#8a3468" stroke="#6a2a50" stroke-width="0.7"/>
<circle cx="1013.1" cy="77.3" r="1.3" fill="#d8b0b8"/>
<circle cx="1014.0" cy="72.5" r="1.3" fill="#d8b0b8"/>
<circle cx="1017.7" cy="75.7" r="1.3" fill="#d8b0b8"/>
<path d="M991.3,72.0 Q996.9,68.2 997.9,61.1 A6.7,6.7 0 1 1 1004.1,71.5 Q997.4,69.0 991.3,72.0Z" fill="#8a3468" stroke="#6a2a50" stroke-width="0.7"/>
<circle cx="1000.6" cy="64.4" r="1.3" fill="#d8b0b8"/>
<circle cx="1005.1" cy="62.8" r="1.3" fill="#d8b0b8"/>
<circle cx="1004.3" cy="67.5" r="1.3" fill="#d8b0b8"/>
<path d="M994.3,42.9 Q1000.4,45.8 1007.0,43.1 A6.7,6.7 0 1 1 1001.0,53.7 Q999.9,46.7 994.3,42.9Z" fill="#8a3468" stroke="#6a2a50" stroke-width="0.7"/>
<circle cx="1005.4" cy="47.1" r="1.3" fill="#d8b0b8"/>
<circle cx="1009.2" cy="50.2" r="1.3" fill="#d8b0b8"/>
<circle cx="1004.6" cy="51.9" r="1.3" fill="#d8b0b8"/>
<circle cx="1018" cy="60" r="2.1" fill="#8a3468" stroke="#c88870" stroke-width="0.6"/>
<circle cx="1037.4" cy="38.1" r="1.3" fill="#c88870"/>
<circle cx="1046.7" cy="65.8" r="1.3" fill="#c88870"/>
<circle cx="1027.3" cy="87.7" r="1.3" fill="#c88870"/>
<circle cx="998.6" cy="81.9" r="1.3" fill="#c88870"/>
<circle cx="989.3" cy="54.2" r="1.3" fill="#c88870"/>
<circle cx="1008.7" cy="32.3" r="1.3" fill="#c88870"/>
<rect x="724.20" y="281.70" width="35.60" height="45.30" fill="#d0d0d0" stroke="#000" stroke-width="2.4"/>
<rect x="773.80" y="102.80" width="35.50" height="224.20" fill="#676767" stroke="#000" stroke-width="2.4"/>
<rect x="871.70" y="260.20" width="35.60" height="66.80" fill="#d0d0d0" stroke="#000" stroke-width="2.4"/>
<rect x="919.80" y="143.80" width="36.00" height="183.20" fill="#676767" stroke="#000" stroke-width="2.4"/>
<rect x="1019.20" y="223.20" width="35.60" height="103.80" fill="#d0d0d0" stroke="#000" stroke-width="2.4"/>
<rect x="1067.80" y="50.70" width="36.00" height="276.30" fill="#676767" stroke="#000" stroke-width="2.4"/>
<path d="M736.75,250H748.25M742.5,250V312M736.75,312H748.25" stroke="#000" stroke-width="2" fill="none"/>
<rect x="737.50" y="275.50" width="10" height="10" fill="none" stroke="#000" stroke-width="2"/>
<path d="M883.95,214H895.45M889.7,214V305M883.95,305H895.45" stroke="#000" stroke-width="2" fill="none"/>
<rect x="884.70" y="254.40" width="10" height="10" fill="none" stroke="#000" stroke-width="2"/>
<path d="M1031.25,154H1042.75M1037,154V290M1031.25,290H1042.75" stroke="#000" stroke-width="2" fill="none"/>
<rect x="1032.00" y="217.00" width="10" height="10" fill="none" stroke="#000" stroke-width="2"/>
<path d="M734.5,299 V166.7 H716" fill="none" stroke="#a3a3a3" stroke-width="3"/>
<path d="M710.5,166.7 L719,162.5 L719,170.9 Z" fill="#a3a3a3"/>
<circle cx="734.5" cy="299" r="4" fill="#a3a3a3"/>
<path d="M1089,114.5 V61.7 H1130" fill="none" stroke="#444" stroke-width="3"/>
<path d="M1135.5,61.7 L1127,57.5 L1127,65.9 Z" fill="#444"/>
<circle cx="1089" cy="114.5" r="4" fill="#444"/>
<path d="M699,23 V327 H1138.5 V18" fill="none" stroke="#000" stroke-width="2.7"/>
<line x1="699" y1="42" x2="711" y2="42" stroke="#000" stroke-width="2.7" />
<line x1="699" y1="115.3" x2="711" y2="115.3" stroke="#000" stroke-width="2.7" />
<line x1="699" y1="188.5" x2="711" y2="188.5" stroke="#000" stroke-width="2.7" />
<line x1="699" y1="261.8" x2="711" y2="261.8" stroke="#000" stroke-width="2.7" />
<line x1="1126" y1="42.5" x2="1138.5" y2="42.5" stroke="#000" stroke-width="2.7" />
<line x1="1126" y1="115.5" x2="1138.5" y2="115.5" stroke="#000" stroke-width="2.7" />
<line x1="1126" y1="188" x2="1138.5" y2="188" stroke="#000" stroke-width="2.7" />
<line x1="1126" y1="260.5" x2="1138.5" y2="260.5" stroke="#000" stroke-width="2.7" />
<text transform="translate(658.02,54.95) scale(0.2957,0.3007)" font-size="100" fill="#000" >50</text>
<text transform="translate(658.62,128.25) scale(0.2900,0.3007)" font-size="100" fill="#000" >40</text>
<text transform="translate(658.02,201.45) scale(0.2957,0.3007)" font-size="100" fill="#000" >30</text>
<text transform="translate(657.71,274.75) scale(0.2985,0.3007)" font-size="100" fill="#000" >20</text>
<text transform="translate(1150.43,55.45) scale(0.2844,0.3007)" font-size="100" fill="#000" >40</text>
<text transform="translate(1149.84,128.45) scale(0.2899,0.3007)" font-size="100" fill="#000" >30</text>
<text transform="translate(1149.54,200.95) scale(0.2927,0.3007)" font-size="100" fill="#000" >20</text>
<text transform="translate(1150.90,273.45) scale(0.2800,0.3007)" font-size="100" fill="#000" >10</text>
<text transform="translate(746.90,363.00) scale(0.2800,0.2958)" font-size="100" fill="#8ad94a" >10</text>
<text transform="translate(898.12,363.00) scale(0.2780,0.2958)" font-size="100" fill="#ff1a10" >10</text>
<text transform="translate(1020.75,363.00) scale(0.3000,0.2958)" font-size="100" fill="#5a2ff0" >10+10</text>
<text transform="translate(804.25,396.04) scale(0.3410,0.3316)" font-size="100" fill="#000" >Ag thickness (nm)</text>
<text transform="translate(639.81,270.39) rotate(-90) scale(0.3480,0.3422)" font-size="100" fill="#000" >diameter (nm)</text>
<text transform="translate(1203.41,17.77) rotate(90) scale(0.3430,0.3529)" font-size="100" fill="#000" >packing density (%)</text>
<text transform="translate(606.60,37.60) scale(0.5078,0.5048)" font-size="100" fill="#000" >b</text>
<path d="M698.9,587.1 L699.0,587.6 L699.0,589.2 L699.0,588.6 L699.0,590.7 L698.9,590.7 L698.9,593.5 L698.9,594.2 L699.0,595.9 L699.0,596.1 L699.1,597.5 L699.3,598.1 L699.6,598.5 L699.9,599.5 L700.4,599.0 L700.9,599.4 L701.6,599.6 L701.8,599.1 L702.0,598.7 L702.3,599.8 L702.6,598.4 L702.9,597.8 L703.2,597.9 L703.5,597.2 L703.8,597.0 L704.2,596.6 L704.5,597.5 L704.9,596.0 L705.3,595.7 L705.6,595.5 L706.0,595.7 L706.4,594.1 L706.8,593.4 L707.2,594.5 L707.6,591.9 L708.1,591.9 L708.5,591.9 L708.9,592.2 L709.4,589.9 L709.8,588.5 L710.3,589.5 L710.7,588.3 L711.2,587.7 L711.7,587.5 L712.1,586.7 L712.6,586.1 L713.1,585.0 L713.5,585.3 L714.0,584.7 L714.5,583.2 L715.0,582.2 L715.5,582.1 L715.9,581.3 L716.4,579.7 L716.9,579.3 L717.4,579.4 L717.8,578.0 L718.3,577.1 L718.8,576.6 L719.3,575.8 L719.7,575.0 L720.2,573.2 L720.7,574.5 L721.1,572.9 L721.6,571.5 L722.0,571.8 L722.3,570.9 L722.6,570.2 L722.9,570.3 L723.2,570.4 L723.5,568.9 L723.8,568.9 L724.1,568.7 L724.4,566.2 L724.8,565.9 L725.1,566.1 L725.4,564.0 L725.7,564.3 L726.0,564.6 L726.3,563.8 L726.6,562.9 L727.0,560.8 L727.3,562.7 L727.6,561.0 L727.9,560.4 L728.2,559.6 L728.6,557.6 L728.9,557.1 L729.2,556.6 L729.5,557.8 L729.9,555.5 L730.2,555.2 L730.5,554.5 L730.8,554.3 L731.2,553.5 L731.5,552.7 L731.8,551.1 L732.1,549.2 L732.5,550.6 L732.8,549.9 L733.1,549.8 L733.4,548.3 L733.8,547.3 L734.1,547.2 L734.4,545.3 L734.7,544.9 L735.1,544.3 L735.4,544.4 L735.7,544.8 L736.1,543.3 L736.4,542.8 L736.7,541.6 L737.0,540.9 L737.3,539.8 L737.7,539.2 L738.0,537.2 L738.3,537.3 L738.6,536.6 L739.0,537.3 L739.3,536.5 L739.6,536.2 L739.9,535.8 L740.2,534.0 L740.5,534.2 L740.9,534.1 L741.2,532.3 L741.5,532.4 L741.8,531.0 L742.1,529.5 L742.4,530.0 L742.7,528.8 L743.0,528.8 L743.3,527.9 L743.6,527.8 L743.9,525.7 L744.2,527.9 L744.5,526.9 L744.8,525.3 L745.1,524.4 L745.6,524.3 L746.0,523.9 L746.5,523.1 L746.9,522.3 L747.3,520.1 L747.8,519.9 L748.2,520.9 L748.6,519.5 L749.1,517.7 L749.5,517.5 L749.9,516.5 L750.3,516.2 L750.7,517.1 L751.2,515.6 L751.6,515.9 L752.0,514.7 L752.4,513.0 L752.8,513.0 L753.2,514.5 L753.6,511.9 L754.0,511.1 L754.4,512.2 L754.8,510.9 L755.2,510.3 L755.6,510.8 L756.0,508.1 L756.4,509.1 L756.8,507.6 L757.2,506.9 L757.6,506.8 L758.1,507.7 L758.5,506.3 L758.9,504.6 L759.3,504.6 L759.7,505.9 L760.1,505.1 L760.5,503.1 L761.0,505.1 L761.4,502.6 L761.8,501.5 L762.3,501.7 L762.7,502.0 L763.1,501.9 L763.6,501.0 L764.0,499.4 L764.5,498.8 L764.9,497.6 L765.3,498.0 L765.8,497.1 L766.2,497.2 L766.7,495.5 L767.1,495.5 L767.6,494.7 L768.0,493.9 L768.5,493.4 L769.0,492.9 L769.4,492.3 L769.9,493.0 L770.4,492.1 L770.9,490.4 L771.3,491.2 L771.8,490.5 L772.3,490.8 L772.8,489.0 L773.3,488.4 L773.8,487.5 L774.2,487.5 L774.7,487.2 L775.2,486.4 L775.7,485.5 L776.2,485.6 L776.7,484.7 L777.2,484.2 L777.6,482.8 L778.1,483.1 L778.6,481.6 L779.1,481.2 L779.6,481.4 L780.1,482.4 L780.5,481.0 L781.0,479.7 L781.5,479.0 L781.9,479.4 L782.4,479.2 L782.9,478.6 L783.3,477.0 L783.8,476.8 L784.2,475.9 L784.7,475.5 L785.1,474.6 L785.5,474.6 L786.0,472.6 L786.4,472.9 L786.8,473.8 L787.2,472.3 L787.6,473.0 L788.0,471.2 L788.7,471.3 L789.3,471.2 L789.9,469.5 L790.5,469.2 L791.0,471.2 L791.6,468.1 L792.1,467.5 L792.6,467.1 L793.1,467.1 L793.6,466.6 L794.1,466.9 L794.6,466.3 L795.1,464.9 L795.6,464.5 L796.1,463.2 L796.5,462.7 L797.0,463.0 L797.5,463.8 L798.0,462.9 L798.5,463.1 L799.1,462.8 L799.6,461.6 L800.1,463.1 L800.7,460.6 L801.3,460.2 L801.9,460.0 L802.5,461.0 L803.1,459.6 L803.8,458.7 L804.5,459.4 L805.1,459.7 L805.7,458.4 L806.3,458.0 L806.9,458.9 L807.5,458.6 L808.2,458.3 L808.8,456.6 L809.5,457.2 L810.2,457.1 L810.8,455.0 L811.5,457.3 L812.2,456.1 L812.9,455.5 L813.7,457.6 L814.4,455.5 L815.1,454.5 L815.8,454.9 L816.6,455.3 L817.3,455.3 L818.0,454.3 L818.8,453.4 L819.5,453.4 L820.3,453.1 L821.0,452.8 L821.8,453.5 L822.5,453.0 L823.2,453.3 L824.0,452.4 L824.7,452.3 L825.4,452.8 L826.1,452.5 L826.8,453.8 L827.5,451.8 L828.2,452.8 L828.9,452.5 L829.6,451.3 L830.3,453.1 L830.9,452.6 L831.7,450.4 L832.4,452.9 L833.1,453.2 L833.8,451.6 L834.5,454.0 L835.2,452.6 L835.9,451.4 L836.5,453.0 L837.2,452.2 L837.9,451.4 L838.5,450.7 L839.2,453.0 L839.8,452.2 L840.4,453.6 L841.1,453.5 L841.7,452.8 L842.4,452.9 L843.0,455.3 L843.7,455.4 L844.4,454.6 L845.0,453.8 L845.7,453.4 L846.4,454.1 L847.1,456.4 L847.8,455.4 L848.5,455.0 L849.3,454.3 L850.0,455.9 L850.8,455.2 L851.6,456.4 L852.4,457.4 L853.2,458.1 L854.0,457.5 L854.6,457.2 L855.1,458.0 L855.7,459.9 L856.2,458.7 L856.8,457.2 L857.4,460.4 L858.0,459.4 L858.6,463.0 L859.2,459.3 L859.9,460.0 L860.5,460.1 L861.2,461.1 L861.8,460.5 L862.5,459.9 L863.1,459.8 L863.8,462.0 L864.5,462.0 L865.1,462.3 L865.8,465.4 L866.5,464.4 L867.2,465.1 L867.9,463.9 L868.5,465.1 L869.2,464.9 L869.9,465.3 L870.6,466.7 L871.3,467.0 L872.0,467.0 L872.6,467.3 L873.3,466.0 L874.0,467.1 L874.7,468.7 L875.3,468.3 L876.0,468.2 L876.7,469.8 L877.3,468.9 L878.0,469.5 L878.6,471.5 L879.2,470.6 L879.9,472.9 L880.5,472.3 L881.1,472.9 L881.7,473.6 L882.3,470.4 L882.9,473.0 L883.4,472.0 L884.0,473.2 L884.5,474.0 L885.0,475.7 L885.6,474.6 L886.1,476.7 L886.6,474.7 L887.0,475.5 L887.9,476.1 L888.8,477.5 L889.6,476.9 L890.4,476.7 L891.1,477.4 L891.8,476.7 L892.5,480.0 L893.1,479.8 L893.8,479.8 L894.4,479.9 L894.9,479.3 L895.5,479.8 L896.0,481.5 L896.6,480.0 L897.1,480.4 L897.6,483.3 L898.1,483.6 L898.6,482.5 L899.2,483.1 L899.7,483.0 L900.2,484.8 L900.7,483.0 L901.2,483.9 L901.8,484.8 L902.4,486.2 L902.9,484.7 L903.5,485.7 L904.1,485.2 L904.6,485.4 L905.1,485.8 L905.6,487.0 L906.1,488.3 L906.6,486.8 L907.0,487.3 L907.5,487.9 L908.0,489.1 L908.4,489.9 L908.9,488.0 L909.3,490.2 L909.8,489.1 L910.3,491.4 L910.8,489.9 L911.2,490.1 L911.7,491.0 L912.2,492.2 L912.8,491.5 L913.3,493.4 L913.9,493.8 L914.4,494.2 L915.1,494.9 L915.7,496.1 L916.3,494.8 L917.0,496.2 L917.7,496.7 L918.5,494.9 L919.2,498.4 L920.0,497.7 L920.5,498.1 L920.9,498.8 L921.3,499.8 L921.8,500.4 L922.2,500.9 L922.7,499.9 L923.1,501.9 L923.6,502.0 L924.1,501.4 L924.6,502.3 L925.1,503.6 L925.6,503.6 L926.1,504.3 L926.6,504.1 L927.1,505.7 L927.7,507.5 L928.2,505.8 L928.7,503.7 L929.3,508.2 L929.8,505.9 L930.4,505.3 L930.9,504.6 L931.5,508.4 L932.0,509.7 L932.6,510.1 L933.2,508.8 L933.8,511.5 L934.3,510.2 L934.9,510.0 L935.5,511.3 L936.1,511.9 L936.7,512.2 L937.3,513.1 L937.9,510.4 L938.4,515.5 L939.0,513.4 L939.6,515.3 L940.2,514.0 L940.8,515.7 L941.4,515.8 L942.0,514.5 L942.6,517.4 L943.2,518.2 L943.8,516.5 L944.4,515.7 L945.0,518.0 L945.6,518.2 L946.2,519.9 L946.8,520.2 L947.3,522.7 L947.9,521.9 L948.5,521.2 L949.1,522.2 L949.7,518.8 L950.2,521.7 L950.8,522.2 L951.4,523.6 L951.9,524.6 L952.5,524.9 L953.0,526.2 L953.6,524.6 L954.2,526.3 L954.8,526.1 L955.4,526.8 L955.9,527.6 L956.5,527.2 L957.1,528.3 L957.7,528.4 L958.2,530.2 L958.8,529.1 L959.4,530.1 L960.0,533.4 L960.6,531.3 L961.1,531.6 L961.7,532.7 L962.3,530.4 L962.9,533.1 L963.5,533.5 L964.0,533.5 L964.6,534.6 L965.2,534.8 L965.8,535.7 L966.4,533.7 L966.9,535.5 L967.5,534.7 L968.1,537.4 L968.7,536.4 L969.2,534.9 L969.8,537.1 L970.4,536.0 L971.0,539.1 L971.6,537.7 L972.1,535.7 L972.7,538.4 L973.3,540.7 L973.9,540.2 L974.5,539.3 L975.0,541.4 L975.6,541.7 L976.2,543.3 L976.8,542.9 L977.4,542.6 L977.9,541.5 L978.5,543.3 L979.1,543.7 L979.7,543.7 L980.2,544.7 L980.8,542.9 L981.4,545.7 L982.0,545.3 L982.6,546.2 L983.1,546.0 L983.7,546.1 L984.3,547.3 L984.9,548.4 L985.5,547.3 L986.0,548.6 L986.6,547.5 L987.2,549.5 L987.8,549.4 L988.4,548.0 L988.9,551.7 L989.5,549.3 L990.1,551.1 L990.7,549.6 L991.3,549.4 L991.8,553.1 L992.4,550.6 L993.0,550.1 L993.6,553.1 L994.1,551.6 L994.7,553.9 L995.3,557.1 L995.9,554.5 L996.5,555.9 L997.0,556.6 L997.6,556.6 L998.2,556.5 L998.8,559.1 L999.4,557.3 L999.9,558.3 L1000.5,558.4 L1001.1,556.9 L1001.7,559.5 L1002.3,559.5 L1002.8,560.8 L1003.4,561.3 L1004.0,562.9 L1004.6,558.4 L1005.1,560.7 L1005.7,561.2 L1006.3,561.1 L1006.9,563.3 L1007.5,563.0 L1008.0,563.7 L1008.6,561.6 L1009.2,563.0 L1009.8,564.6 L1010.4,564.5 L1010.9,564.7 L1011.5,565.8 L1012.1,566.0 L1012.7,565.2 L1013.3,569.6 L1013.8,566.6 L1014.4,568.9 L1015.0,569.2 L1015.6,570.2 L1016.1,568.4 L1016.7,568.2 L1017.3,570.6 L1017.9,570.8 L1018.5,567.4 L1019.0,567.4 L1019.6,570.8 L1020.2,571.5 L1020.8,572.1 L1021.4,573.5 L1021.9,571.9 L1022.5,577.6 L1023.1,575.4 L1023.7,576.4 L1024.3,575.3 L1024.9,572.3 L1025.4,576.1 L1026.0,575.4 L1026.6,577.3 L1027.2,576.9 L1027.8,578.5 L1028.4,576.6 L1028.9,577.8 L1029.5,578.7 L1030.1,578.0 L1030.7,578.9 L1031.3,580.9 L1031.9,583.3 L1032.4,580.5 L1033.0,582.5 L1033.6,580.0 L1034.2,581.4 L1034.8,583.0 L1035.4,583.8 L1035.9,581.9 L1036.5,584.7 L1037.1,584.4 L1037.7,586.6 L1038.3,586.5 L1038.8,586.3 L1039.4,585.3 L1040.0,586.7 L1040.6,585.4 L1041.2,585.9 L1041.7,584.7 L1042.3,585.9 L1042.9,586.4 L1043.5,588.6 L1044.1,589.3 L1044.6,587.5 L1045.2,589.7 L1045.8,590.9 L1046.4,592.1 L1046.9,590.9 L1047.5,591.8 L1048.1,591.2 L1048.6,593.6 L1049.2,590.1 L1049.8,593.3 L1050.3,589.7 L1050.9,596.3 L1051.5,595.4 L1052.0,591.1 L1052.7,593.9 L1053.4,592.9 L1054.0,592.8 L1054.7,595.3 L1055.4,594.9 L1056.1,598.3 L1056.8,596.3 L1057.5,595.8 L1058.2,597.8 L1058.9,598.9 L1059.6,600.0 L1060.4,599.9 L1061.1,597.1 L1061.8,598.6 L1062.6,600.0 L1063.3,599.3 L1064.0,602.2 L1064.8,600.9 L1065.5,601.7 L1066.2,601.6 L1066.9,602.6 L1067.7,600.5 L1068.4,606.6 L1069.1,602.7 L1069.8,602.8 L1070.5,601.5 L1071.2,604.6 L1071.9,602.8 L1072.5,605.9 L1073.2,607.6 L1073.8,607.0 L1074.5,605.6 L1075.1,608.7 L1075.7,606.7 L1076.3,607.2 L1076.9,607.7 L1077.5,607.1 L1078.1,608.8 L1078.6,606.4 L1079.2,605.8 L1079.7,610.9 L1080.2,608.0 L1080.6,608.8 L1081.1,610.2 L1081.5,609.1 L1082.0,608.1 L1082.4,609.9 L1082.7,608.9 L1083.1,611.5 L1083.4,610.1" fill="none" stroke="#ff1a12" stroke-width="2.7" stroke-linejoin="round"/>
<path d="M698.9,526.9 L699.2,525.7 L699.6,525.9 L700.0,526.1 L700.4,526.5 L700.9,525.5 L701.4,524.5 L701.9,525.1 L702.5,524.1 L703.0,524.9 L703.6,523.9 L704.3,524.5 L704.9,523.3 L705.5,522.5 L706.2,521.9 L706.9,522.0 L707.6,522.0 L708.3,522.0 L709.0,521.1 L709.7,520.3 L710.4,520.4 L711.1,519.1 L711.9,519.6 L712.6,518.6 L713.3,519.2 L714.0,518.6 L714.7,517.8 L715.4,516.7 L716.1,517.1 L716.8,516.6 L717.4,515.7 L718.1,515.2 L718.7,515.8 L719.3,514.5 L719.8,514.6 L720.4,514.7 L721.0,512.9 L721.5,514.2 L722.1,513.5 L722.6,512.2 L723.2,511.7 L723.7,511.2 L724.3,512.0 L724.8,509.8 L725.4,511.3 L725.9,510.5 L726.5,509.7 L727.0,509.4 L727.6,509.1 L728.1,508.8 L728.7,509.0 L729.2,507.7 L729.8,508.3 L730.4,507.8 L730.9,506.8 L731.5,506.8 L732.0,505.7 L732.6,505.6 L733.2,505.4 L733.8,505.7 L734.3,504.1 L734.9,503.5 L735.5,503.1 L736.1,502.5 L736.7,501.4 L737.3,502.5 L737.9,500.5 L738.5,499.9 L738.9,499.4 L739.4,499.8 L739.8,500.6 L740.2,500.2 L740.6,498.6 L741.1,497.7 L741.5,497.0 L741.9,496.0 L742.4,496.5 L742.8,495.5 L743.2,496.2 L743.7,494.3 L744.1,493.4 L744.5,492.4 L745.0,491.8 L745.4,492.7 L745.8,492.0 L746.3,490.5 L746.7,489.7 L747.2,490.2 L747.6,489.3 L748.1,489.0 L748.5,488.3 L749.0,487.3 L749.4,486.1 L749.9,486.6 L750.3,486.0 L750.8,485.5 L751.2,485.4 L751.7,484.7 L752.2,483.3 L752.6,483.4 L753.1,481.1 L753.5,482.2 L754.0,481.2 L754.5,481.2 L754.9,480.6 L755.4,478.9 L755.9,478.8 L756.4,479.0 L756.8,477.4 L757.3,477.2 L757.8,476.2 L758.3,476.4 L758.7,475.6 L759.2,474.4 L759.7,473.4 L760.2,472.4 L760.6,473.8 L761.1,472.5 L761.6,471.8 L762.1,471.4 L762.6,470.6 L763.1,471.1 L763.6,470.6 L764.0,468.2 L764.5,469.1 L765.0,468.7 L765.5,467.9 L766.0,467.7 L766.5,468.2 L767.0,466.8 L767.5,466.9 L768.0,466.3 L768.4,464.1 L768.9,465.8 L769.4,464.2 L769.9,463.4 L770.4,463.7 L770.9,464.1 L771.4,461.6 L771.9,461.2 L772.4,461.4 L772.9,459.5 L773.4,459.4 L773.9,459.7 L774.5,459.7 L775.0,459.1 L775.5,458.8 L776.0,458.5 L776.5,457.0 L777.0,456.5 L777.6,456.1 L778.1,455.6 L778.6,456.1 L779.1,455.5 L779.7,453.0 L780.2,454.3 L780.7,452.7 L781.3,452.2 L781.8,453.4 L782.4,453.0 L782.9,452.4 L783.5,451.6 L784.0,451.9 L784.6,449.4 L785.2,450.3 L785.7,448.8 L786.3,448.4 L786.9,447.2 L787.4,449.0 L788.0,448.7 L788.6,447.7 L789.1,446.2 L789.6,446.3 L790.2,445.0 L790.8,445.2 L791.3,446.0 L791.9,445.7 L792.5,444.6 L793.1,444.2 L793.7,443.1 L794.3,443.1 L794.9,442.2 L795.5,442.3 L796.1,441.0 L796.7,441.8 L797.4,440.4 L798.0,440.3 L798.6,439.7 L799.2,440.5 L799.9,439.6 L800.5,437.9 L801.1,437.3 L801.8,438.0 L802.4,437.3 L803.0,436.6 L803.7,436.5 L804.3,437.2 L804.9,435.4 L805.6,436.2 L806.2,434.3 L806.8,434.1 L807.5,434.1 L808.1,433.4 L808.7,432.7 L809.3,431.9 L809.9,432.1 L810.6,431.6 L811.2,431.6 L811.8,432.0 L812.4,431.3 L813.0,431.4 L813.5,430.3 L814.1,430.2 L814.7,430.0 L815.3,429.7 L815.8,429.6 L816.4,428.1 L816.9,428.5 L817.5,428.1 L818.0,428.6 L818.5,428.0 L819.1,426.6 L819.6,427.1 L820.1,427.1 L820.5,426.3 L821.0,427.0 L821.9,425.8 L822.8,424.2 L823.6,425.0 L824.5,425.1 L825.3,423.5 L826.0,424.4 L826.8,421.3 L827.5,425.0 L828.3,421.9 L829.0,422.5 L829.6,422.4 L830.3,421.3 L831.0,422.6 L831.6,421.5 L832.3,421.0 L832.9,420.1 L833.5,422.4 L834.1,422.8 L834.8,421.5 L835.4,421.8 L836.0,422.9 L836.6,421.8 L837.2,422.4 L837.8,422.2 L838.4,421.9 L839.0,421.7 L839.6,422.2 L840.2,421.3 L840.8,421.2 L841.6,420.4 L842.3,419.1 L843.0,420.1 L843.7,420.5 L844.4,421.7 L845.0,420.4 L845.7,419.0 L846.3,421.3 L846.9,421.7 L847.5,421.0 L848.1,421.0 L848.8,421.0 L849.4,420.7 L850.1,422.1 L850.7,420.2 L851.4,420.3 L852.2,419.8 L852.9,420.8 L853.7,420.7 L854.5,420.9 L855.4,421.9 L856.3,422.8 L857.3,420.9 L857.9,422.3 L858.4,421.7 L859.0,421.8 L859.5,422.2 L860.1,423.0 L860.7,421.4 L861.3,424.3 L861.9,423.0 L862.5,422.6 L863.1,422.0 L863.7,424.5 L864.4,424.4 L865.0,424.7 L865.7,424.2 L866.3,425.8 L867.0,425.9 L867.7,426.6 L868.4,425.1 L869.1,425.9 L869.7,424.8 L870.4,425.5 L871.1,425.3 L871.9,425.8 L872.6,426.0 L873.3,426.2 L874.0,426.4 L874.7,426.8 L875.4,426.5 L876.2,426.4 L876.9,426.9 L877.6,428.2 L878.3,428.5 L879.1,429.1 L879.8,430.6 L880.5,427.6 L881.2,429.6 L882.0,427.8 L882.7,428.8 L883.4,428.8 L884.2,429.9 L884.9,431.4 L885.6,431.9 L886.3,431.0 L887.0,431.9 L887.6,431.7 L888.2,430.3 L888.8,433.4 L889.5,431.4 L890.1,431.8 L890.7,432.5 L891.3,431.9 L891.9,432.5 L892.5,434.1 L893.2,432.7 L893.8,433.3 L894.4,432.6 L895.0,432.7 L895.7,435.2 L896.3,435.6 L896.9,435.1 L897.6,437.5 L898.2,435.1 L898.8,437.0 L899.5,436.0 L900.1,437.1 L900.8,437.9 L901.4,436.4 L902.0,439.5 L902.7,438.3 L903.3,438.8 L904.0,438.9 L904.6,439.8 L905.3,438.5 L905.9,438.9 L906.5,440.8 L907.2,440.6 L907.8,440.7 L908.5,441.8 L909.1,443.4 L909.8,441.1 L910.4,439.9 L911.1,442.5 L911.7,441.4 L912.3,443.3 L913.0,442.9 L913.6,444.2 L914.3,446.5 L914.9,444.8 L915.6,443.4 L916.2,444.4 L916.8,444.7 L917.5,444.7 L918.1,447.0 L918.8,447.0 L919.4,448.2 L920.0,448.4 L920.7,447.7 L921.3,447.5 L921.9,447.9 L922.6,448.7 L923.2,448.4 L923.9,447.7 L924.5,452.3 L925.2,451.6 L925.8,450.1 L926.5,450.3 L927.1,450.7 L927.8,451.9 L928.4,451.4 L929.1,449.7 L929.7,452.7 L930.4,453.4 L931.1,451.6 L931.7,451.9 L932.4,453.7 L933.0,452.9 L933.7,455.6 L934.3,455.7 L935.0,453.2 L935.6,456.0 L936.3,454.2 L936.9,455.3 L937.6,458.0 L938.2,456.5 L938.9,457.9 L939.5,457.0 L940.2,460.1 L940.8,458.1 L941.5,461.9 L942.1,459.4 L942.7,458.7 L943.4,459.5 L944.0,459.4 L944.6,461.8 L945.2,459.1 L945.9,461.6 L946.5,462.6 L947.1,462.5 L947.7,460.0 L948.3,463.3 L948.9,463.1 L949.5,463.7 L950.1,461.5 L950.7,463.1 L951.3,464.6 L951.9,463.6 L952.5,464.0 L953.0,463.5 L953.8,464.1 L954.5,464.7 L955.2,467.9 L955.9,465.1 L956.6,464.9 L957.2,464.6 L957.9,466.6 L958.5,466.6 L959.2,466.0 L959.8,464.9 L960.4,469.4 L961.0,467.2 L961.6,466.8 L962.2,468.2 L962.8,467.0 L963.4,468.0 L964.0,466.2 L964.6,468.1 L965.2,465.8 L965.8,470.2 L966.4,469.4 L967.0,469.3 L967.6,469.8 L968.2,468.4 L968.9,470.2 L969.5,470.5 L970.1,471.8 L970.8,470.0 L971.4,470.5 L972.1,471.3 L972.7,471.8 L973.4,471.9 L974.1,472.4 L974.8,473.3 L975.6,472.8 L976.3,473.2 L977.1,472.8 L977.8,471.5 L978.6,474.2 L979.4,473.3 L980.0,473.8 L980.6,472.6 L981.2,476.5 L981.8,475.9 L982.4,474.3 L983.0,475.6 L983.6,476.3 L984.3,477.9 L984.9,475.8 L985.6,477.0 L986.2,474.9 L986.9,475.8 L987.6,476.1 L988.2,476.1 L988.9,475.3 L989.6,477.7 L990.3,475.9 L991.0,476.2 L991.7,477.4 L992.4,479.6 L993.1,479.4 L993.8,477.9 L994.5,476.9 L995.2,476.7 L995.9,478.8 L996.7,480.0 L997.4,480.3 L998.1,479.2 L998.8,478.5 L999.6,480.4 L1000.3,481.6 L1001.0,480.2 L1001.7,481.1 L1002.5,480.2 L1003.2,480.6 L1003.9,482.9 L1004.6,480.5 L1005.4,483.2 L1006.1,481.2 L1006.8,481.9 L1007.5,483.2 L1008.2,483.2 L1008.9,481.7 L1009.7,482.5 L1010.4,482.9 L1011.1,483.2 L1011.8,483.2 L1012.4,484.6 L1013.1,482.4 L1013.8,485.0 L1014.5,485.3 L1015.2,482.6 L1015.8,484.4 L1016.5,483.6 L1017.1,482.7 L1017.8,485.1 L1018.4,486.0 L1019.0,484.8 L1019.8,486.1 L1020.5,485.9 L1021.2,483.4 L1022.0,486.0 L1022.7,487.8 L1023.4,488.6 L1024.1,485.2 L1024.8,485.1 L1025.5,487.9 L1026.2,487.2 L1026.9,488.0 L1027.6,487.3 L1028.3,489.2 L1029.0,489.3 L1029.7,488.1 L1030.4,488.9 L1031.0,488.9 L1031.7,490.1 L1032.4,489.9 L1033.1,490.1 L1033.7,490.8 L1034.4,490.2 L1035.1,489.6 L1035.7,491.7 L1036.4,490.0 L1037.0,489.1 L1037.7,489.9 L1038.4,491.4 L1039.0,490.8 L1039.7,491.1 L1040.3,492.2 L1041.0,492.7 L1041.6,491.9 L1042.3,491.8 L1042.9,492.9 L1043.6,494.1 L1044.2,491.2 L1044.9,492.4 L1045.5,491.9 L1046.2,492.6 L1046.8,494.9 L1047.5,496.9 L1048.1,494.1 L1048.8,493.0 L1049.4,493.1 L1050.1,495.9 L1050.7,496.4 L1051.4,496.5 L1052.0,496.4 L1052.8,494.7 L1053.5,494.6 L1054.2,495.9 L1054.9,497.3 L1055.7,495.6 L1056.4,495.1 L1057.2,498.5 L1058.0,494.8 L1058.8,499.4 L1059.6,495.7 L1060.3,498.6 L1061.1,497.1 L1061.9,499.8 L1062.7,497.5 L1063.5,498.5 L1064.3,499.3 L1065.1,498.3 L1065.9,497.1 L1066.7,498.3 L1067.5,498.2 L1068.2,499.9 L1069.0,494.4 L1069.8,501.7 L1070.5,503.3 L1071.3,500.7 L1072.0,499.3 L1072.8,499.8 L1073.5,499.7 L1074.2,499.6 L1074.9,503.3 L1075.6,498.0 L1076.2,500.3 L1076.9,501.7 L1077.5,499.9 L1078.1,504.7 L1078.7,501.8 L1079.3,502.6 L1079.8,502.0 L1080.4,502.4 L1080.9,501.7 L1081.4,504.8 L1081.8,501.7 L1082.3,502.1 L1082.7,504.4 L1083.0,501.7 L1083.4,506.2" fill="none" stroke="#1a14f0" stroke-width="2.7" stroke-linejoin="round"/>
<path d="M698.9,528.1 L699.0,528.3 L699.1,527.4 L699.2,526.9 L699.3,525.9 L699.4,525.9 L699.5,526.2 L699.6,525.1 L699.7,524.9 L699.8,523.7 L699.9,523.1 L700.1,522.2 L700.2,520.2 L700.3,521.1 L700.5,520.1 L700.6,519.3 L700.8,517.1 L700.9,516.2 L701.1,516.0 L701.3,515.4 L701.4,515.1 L701.6,514.1 L701.8,513.6 L702.0,512.0 L702.1,511.9 L702.3,511.1 L702.5,509.7 L702.7,510.5 L702.9,508.9 L703.1,508.6 L703.3,506.7 L703.5,506.0 L703.7,505.6 L703.9,505.1 L704.1,504.9 L704.4,503.9 L704.6,502.7 L704.9,501.6 L705.1,501.1 L705.4,501.6 L705.6,499.5 L705.9,499.5 L706.2,498.9 L706.4,496.9 L706.7,497.3 L707.0,497.5 L707.3,494.6 L707.6,495.1 L707.9,494.6 L708.2,493.5 L708.5,493.8 L708.9,492.8 L709.2,491.3 L709.6,492.3 L710.0,491.6 L710.4,491.3 L710.8,491.1 L711.2,489.9 L711.6,489.2 L712.1,487.8 L712.6,488.7 L713.2,487.4 L713.7,487.1 L714.3,486.2 L714.9,486.1 L715.6,486.0 L716.2,487.0 L716.9,484.4 L717.6,484.5 L718.3,485.4 L719.0,486.0 L719.7,485.2 L720.4,483.2 L721.1,482.6 L721.9,484.4 L722.6,483.4 L723.3,482.9 L724.0,484.2 L724.7,484.1 L725.4,483.2 L726.1,483.1 L726.7,483.0 L727.4,483.7 L728.0,482.8 L728.6,482.5 L729.4,482.2 L730.1,480.4 L730.9,482.1 L731.6,481.5 L732.3,480.9 L733.0,478.8 L733.7,479.4 L734.4,480.1 L735.1,477.9 L735.8,478.8 L736.4,479.4 L737.1,477.5 L737.8,479.4 L738.4,478.4 L739.1,477.8 L739.8,478.0 L740.4,478.2 L741.1,477.9 L741.8,478.7 L742.4,477.4 L743.1,477.8 L743.7,479.0 L744.3,478.5 L745.0,478.0 L745.6,479.7 L746.2,480.4 L746.8,479.3 L747.5,478.9 L748.1,480.2 L748.7,480.6 L749.4,480.9 L750.0,482.6 L750.6,481.2 L751.2,483.4 L751.9,482.0 L752.5,482.8 L753.1,484.4 L753.8,485.3 L754.4,485.6 L755.0,485.7 L755.5,485.9 L756.0,486.3 L756.5,487.0 L757.0,486.9 L757.5,487.6 L757.9,488.2 L758.4,488.2 L758.9,489.2 L759.3,489.5 L759.8,491.0 L760.3,490.2 L760.7,490.0 L761.2,490.5 L761.7,491.3 L762.2,492.5 L762.7,492.1 L763.2,493.1 L763.7,494.8 L764.2,492.0 L764.7,493.7 L765.3,495.4 L765.8,496.1 L766.4,496.6 L767.0,496.8 L767.6,498.4 L768.2,498.8 L768.6,498.6 L768.9,501.4 L769.3,500.2 L769.7,500.0 L770.0,500.8 L770.4,501.2 L770.8,501.8 L771.2,500.2 L771.6,502.5 L772.0,504.2 L772.4,503.0 L772.8,504.4 L773.2,505.7 L773.6,506.2 L774.0,507.3 L774.5,505.3 L774.9,506.9 L775.3,507.5 L775.7,508.8 L776.2,509.8 L776.6,507.3 L777.0,511.0 L777.5,509.5 L777.9,511.8 L778.4,510.7 L778.8,512.6 L779.3,514.1 L779.7,513.6 L780.1,514.5 L780.6,515.6 L781.0,515.6 L781.5,516.1 L781.9,518.0 L782.4,518.2 L782.8,517.7 L783.2,520.8 L783.7,518.2 L784.1,520.5 L784.6,520.1 L785.0,521.1 L785.4,522.1 L785.9,522.3 L786.3,523.3 L786.7,522.0 L787.2,522.6 L787.6,525.0 L788.0,524.2 L788.4,524.7 L788.9,524.9 L789.3,527.8 L789.7,527.9 L790.2,529.1 L790.6,527.7 L791.0,529.0 L791.5,528.6 L791.9,530.8 L792.4,532.1 L792.8,530.6 L793.2,533.2 L793.7,533.3 L794.1,532.9 L794.6,532.0 L795.0,535.4 L795.5,534.8 L795.9,534.9 L796.3,536.3 L796.8,536.9 L797.2,538.4 L797.7,536.9 L798.1,539.3 L798.6,540.2 L799.0,540.7 L799.4,539.9 L799.9,540.0 L800.3,542.1 L800.7,541.9 L801.1,542.5 L801.6,544.1 L802.0,543.3 L802.4,542.1 L802.8,544.3 L803.2,543.6 L803.6,546.4 L804.0,546.5 L804.4,546.2 L804.8,547.3 L805.2,548.6 L805.6,548.4 L806.0,550.0 L806.4,549.4 L806.7,550.8 L807.1,551.7 L807.5,552.3 L807.8,550.8 L808.3,552.9 L808.8,551.2 L809.2,552.5 L809.7,552.4 L810.1,555.7 L810.5,554.3 L810.9,556.0 L811.3,556.4 L811.7,557.2 L812.1,557.3 L812.5,558.6 L812.8,560.5 L813.2,559.6 L813.5,560.6 L813.9,561.6 L814.2,561.1 L814.6,560.7 L814.9,561.9 L815.3,563.9 L815.7,562.0 L816.0,563.5 L816.4,565.5 L816.7,565.9 L817.1,565.8 L817.5,567.1 L817.9,567.1 L818.3,566.5 L818.7,566.7 L819.2,568.1 L819.6,570.1 L820.1,569.4 L820.5,569.8 L821.0,570.5 L821.4,570.4 L821.8,572.1 L822.2,571.7 L822.6,573.6 L823.1,571.7 L823.5,574.6 L823.9,574.3 L824.4,573.6 L824.9,576.6 L825.3,576.2 L825.8,575.0 L826.3,576.7 L826.7,578.3 L827.2,578.2 L827.7,579.9 L828.2,580.4 L828.7,580.9 L829.2,581.1 L829.7,582.6 L830.2,582.5 L830.7,582.9 L831.2,581.1 L831.7,584.4 L832.2,585.4 L832.7,584.4 L833.2,584.8 L833.7,587.6 L834.1,584.8 L834.6,587.4 L835.1,589.7 L835.6,587.2 L836.1,589.2 L836.5,590.9 L837.0,589.5 L837.5,590.7 L837.9,591.6 L838.3,590.4 L838.8,591.7 L839.2,592.6 L839.6,593.6 L840.0,593.3 L840.4,593.6 L840.8,593.4 L841.3,594.6 L841.8,596.4 L842.3,596.3 L842.7,596.1 L843.2,596.7 L843.6,600.6 L844.0,599.8 L844.4,600.0 L844.8,597.5 L845.2,601.2 L845.6,601.6 L846.0,603.4 L846.3,602.8 L846.7,602.9 L847.1,604.0 L847.5,602.3 L847.8,605.7 L848.2,605.6 L848.5,605.2 L848.9,607.7 L849.3,608.8 L849.6,606.3 L850.0,607.6 L850.4,609.1 L850.7,609.6 L851.1,609.6 L851.5,609.6 L851.9,613.2 L852.3,612.7 L852.7,611.2 L853.1,611.6 L853.6,615.2 L854.0,615.1 L854.4,616.4 L854.9,616.0 L855.3,615.0 L855.7,616.6 L856.1,614.9 L856.6,616.8 L857.0,618.0 L857.5,619.2 L857.9,618.5 L858.4,619.7 L858.8,620.8 L859.3,621.3 L859.7,622.2 L860.2,622.3 L860.7,622.4 L861.1,624.1 L861.6,623.9 L862.1,623.6 L862.5,624.4 L863.0,625.6 L863.5,626.0 L864.0,626.9 L864.4,627.3 L864.9,628.0 L865.4,628.2 L865.9,627.7 L866.3,629.9 L866.8,631.0 L867.3,630.9 L867.7,630.8 L868.2,632.0 L868.7,631.1 L869.1,630.6 L869.6,633.0 L870.1,632.5 L870.5,634.7 L871.1,633.4 L871.6,632.4 L872.2,634.5 L872.7,637.6 L873.3,636.2 L873.8,635.7 L874.4,636.8 L874.9,638.5 L875.5,639.0 L876.0,639.1 L876.6,640.9 L877.1,640.6 L877.7,640.3 L878.2,641.3 L878.8,642.8 L879.3,642.5 L879.9,643.0 L880.4,641.3 L881.0,642.7 L881.5,644.0 L882.1,643.3 L882.6,645.1 L883.2,645.0 L883.7,645.7 L884.3,645.0 L884.8,648.2 L885.4,647.2 L885.9,646.1 L886.5,646.8 L887.0,649.8 L887.6,647.2 L888.3,648.9 L888.9,649.4 L889.5,648.8 L890.1,648.0 L890.7,649.7 L891.3,650.3 L891.9,651.5 L892.5,651.5 L893.1,651.1 L893.8,652.3 L894.4,652.3 L895.0,652.3 L895.6,652.5 L896.2,652.6 L896.8,653.9 L897.4,652.4 L898.0,653.2 L898.6,654.2 L899.3,653.0 L899.9,654.4 L900.5,653.1 L901.1,654.9 L901.7,656.5 L902.3,656.9 L902.9,656.6 L903.5,656.8 L904.1,655.9 L904.8,659.7 L905.4,658.7 L906.0,659.7 L906.7,658.0 L907.3,659.1 L908.0,657.7 L908.6,660.9 L909.3,661.4 L909.9,658.8 L910.6,661.2 L911.2,662.3 L911.9,660.1 L912.5,660.4 L913.2,661.6 L913.8,662.5 L914.4,662.0 L915.0,663.9 L915.6,664.5 L916.2,665.3 L916.8,665.7 L917.4,666.9 L917.9,666.9 L918.5,664.6 L919.0,665.8 L919.5,665.5 L920.0,665.8 L920.8,667.4 L921.6,667.9 L922.3,669.0 L923.0,667.2 L923.7,668.0 L924.3,669.8 L924.9,670.0 L925.5,670.3 L926.1,671.0 L926.6,670.6 L927.2,672.6 L927.7,672.6 L928.3,672.4 L928.8,672.1 L929.4,673.0 L929.9,670.5 L930.7,672.8 L931.5,674.4 L932.3,673.0 L933.1,675.2 L933.9,675.5 L934.7,674.1 L935.4,675.6 L936.1,675.7 L936.7,676.8 L937.3,677.2 L937.8,676.6 L938.2,675.9" fill="none" stroke="#22ee10" stroke-width="2.7" stroke-linejoin="round"/>
<path d="M696.3,421 V678.5 H1122" fill="none" stroke="#000" stroke-width="2.7"/>
<line x1="696" y1="450.8" x2="705" y2="450.8" stroke="#000" stroke-width="2.7" />
<line x1="696" y1="507.5" x2="705" y2="507.5" stroke="#000" stroke-width="2.7" />
<line x1="696" y1="563.6" x2="705" y2="563.6" stroke="#000" stroke-width="2.7" />
<line x1="696" y1="620.7" x2="705" y2="620.7" stroke="#000" stroke-width="2.7" />
<line x1="750" y1="678.5" x2="750" y2="669.5" stroke="#000" stroke-width="2.7" />
<line x1="820.4" y1="678.5" x2="820.4" y2="669.5" stroke="#000" stroke-width="2.7" />
<line x1="890" y1="678.5" x2="890" y2="669.5" stroke="#000" stroke-width="2.7" />
<line x1="960" y1="678.5" x2="960" y2="669.5" stroke="#000" stroke-width="2.7" />
<line x1="1030.6" y1="678.5" x2="1030.6" y2="669.5" stroke="#000" stroke-width="2.7" />
<line x1="1100.6" y1="678.5" x2="1100.6" y2="669.5" stroke="#000" stroke-width="2.7" />
<text transform="translate(647.23,461.60) scale(0.2917,0.2600)" font-size="100" fill="#000" >0.4</text>
<text transform="translate(647.22,518.30) scale(0.2939,0.2600)" font-size="100" fill="#000" >0.3</text>
<text transform="translate(647.22,574.40) scale(0.2962,0.2600)" font-size="100" fill="#000" >0.2</text>
<text transform="translate(647.22,631.50) scale(0.2950,0.2600)" font-size="100" fill="#000" >0.1</text>
<text transform="translate(670.29,688.50) scale(0.3021,0.2700)" font-size="100" fill="#000" >0</text>
<text transform="translate(725.40,715.00) scale(0.2981,0.2900)" font-size="100" fill="#000" >450</text>
<text transform="translate(795.19,715.00) scale(0.3019,0.2900)" font-size="100" fill="#000" >500</text>
<text transform="translate(864.79,715.00) scale(0.3019,0.2900)" font-size="100" fill="#000" >550</text>
<text transform="translate(934.48,715.00) scale(0.3038,0.2900)" font-size="100" fill="#000" >600</text>
<text transform="translate(1005.08,715.00) scale(0.3038,0.2900)" font-size="100" fill="#000" >650</text>
<text transform="translate(1075.08,715.00) scale(0.3038,0.2900)" font-size="100" fill="#000" >700</text>
<text transform="translate(809.50,753.50) scale(0.3422,0.3370)" font-size="100" fill="#000" >wavelength (nm)</text>
<text transform="translate(632.00,734.37) rotate(-90) scale(0.3429,0.3370)" font-size="100" fill="#000" >absorption (arb. units)</text>
<text transform="translate(1094.38,518.50) scale(0.2959,0.2900)" font-size="100" fill="#5a2ff0" >10+10 nm</text>
<text transform="translate(1094.37,622.50) scale(0.2970,0.2900)" font-size="100" fill="#ff1a12" >10 nm</text>
<text transform="translate(1094.37,664.00) scale(0.2970,0.2900)" font-size="100" fill="#8ad94a" >10 nm</text>
<text transform="translate(606.39,395.25) scale(0.5287,0.5000)" font-size="100" fill="#000" >c</text>
<rect x="1405.2" y="416.3" width="129.5999999999999" height="33.099999999999966" fill="#f1f1f1" stroke="#000" stroke-width="1.9"/>
<rect x="1405.2" y="412" width="129.5999999999999" height="4.300000000000011" fill="#bcd3d3" stroke="#000" stroke-width="1.9"/>
<ellipse cx="1429.4" cy="405.3" rx="7.6" ry="6" fill="#d4d4d4" stroke="#000" stroke-width="1.9"/>
<ellipse cx="1459" cy="405.3" rx="7.6" ry="6" fill="#d4d4d4" stroke="#000" stroke-width="1.9"/>
<ellipse cx="1489.7" cy="405.3" rx="7.6" ry="6" fill="#d4d4d4" stroke="#000" stroke-width="1.9"/>
<ellipse cx="1518.5" cy="405.3" rx="7.6" ry="6" fill="#d4d4d4" stroke="#000" stroke-width="1.9"/>
<rect x="1691.4" y="344.1" width="130.0" height="33.0" fill="#f1f1f1" stroke="#000" stroke-width="1.9"/>
<rect x="1691.4" y="335.2" width="130.0" height="8.900000000000034" fill="#bcd3d3" stroke="#000" stroke-width="1.9"/>
<ellipse cx="1711.6" cy="330.1" rx="10.6" ry="9.2" fill="#d4d4d4" stroke="#000" stroke-width="1.9"/>
<ellipse cx="1741.5" cy="330.1" rx="10.6" ry="9.2" fill="#d4d4d4" stroke="#000" stroke-width="1.9"/>
<ellipse cx="1771.9" cy="330.1" rx="10.6" ry="9.2" fill="#d4d4d4" stroke="#000" stroke-width="1.9"/>
<ellipse cx="1801.1" cy="330.1" rx="10.6" ry="9.2" fill="#d4d4d4" stroke="#000" stroke-width="1.9"/>
<rect x="1730.9" y="581.8" width="130.0" height="33.30000000000007" fill="#f1f1f1" stroke="#000" stroke-width="1.9"/>
<rect x="1730.9" y="568" width="130.0" height="13.799999999999955" fill="#bcd3d3" stroke="#000" stroke-width="1.9"/>
<ellipse cx="1750.4" cy="567.4" rx="11.6" ry="10.2" fill="#d4d4d4" stroke="#000" stroke-width="1.9"/>
<ellipse cx="1780.2" cy="567.4" rx="11.6" ry="10.2" fill="#d4d4d4" stroke="#000" stroke-width="1.9"/>
<ellipse cx="1810.2" cy="567.4" rx="11.6" ry="10.2" fill="#d4d4d4" stroke="#000" stroke-width="1.9"/>
<ellipse cx="1839.8" cy="567.4" rx="11.6" ry="10.2" fill="#d4d4d4" stroke="#000" stroke-width="1.9"/>
<path d="M1409.8,613.7 L1471.8,587.8 L1534.8,539.6 L1597,470 L1659,370 L1722.5,497.8 L1785,497.8 L1847,539.6" fill="none" stroke="#ff1c10" stroke-width="3.5" stroke-dasharray="3.3 3.5"/>
<circle cx="1409.8" cy="613.7" r="9" fill="#fff" fill-opacity="0"/>
<path d="M1409.8,604.6 L1419.3,619.8 L1400.3,619.8 Z" fill="none" stroke="#ff1c10" stroke-width="3.4" stroke-linejoin="miter"/>
<circle cx="1471.8" cy="587.8" r="9" fill="#fff" fill-opacity="0"/>
<path d="M1471.8,578.7 L1481.3,593.9 L1462.3,593.9 Z" fill="none" stroke="#ff1c10" stroke-width="3.4" stroke-linejoin="miter"/>
<circle cx="1534.8" cy="539.6" r="9" fill="#fff" fill-opacity="0"/>
<path d="M1534.8,530.5 L1544.3,545.7 L1525.3,545.7 Z" fill="none" stroke="#ff1c10" stroke-width="3.4" stroke-linejoin="miter"/>
<circle cx="1597" cy="470" r="9" fill="#fff" fill-opacity="0"/>
<path d="M1597,460.9 L1606.5,476.1 L1587.5,476.1 Z" fill="none" stroke="#ff1c10" stroke-width="3.4" stroke-linejoin="miter"/>
<circle cx="1659" cy="370" r="9" fill="#fff" fill-opacity="0"/>
<path d="M1659,360.9 L1668.5,376.1 L1649.5,376.1 Z" fill="none" stroke="#ff1c10" stroke-width="3.4" stroke-linejoin="miter"/>
<circle cx="1722.5" cy="497.8" r="9" fill="#fff" fill-opacity="0"/>
<path d="M1722.5,488.7 L1732.0,503.9 L1713.0,503.9 Z" fill="none" stroke="#ff1c10" stroke-width="3.4" stroke-linejoin="miter"/>
<circle cx="1785" cy="497.8" r="9" fill="#fff" fill-opacity="0"/>
<path d="M1785,488.7 L1794.5,503.9 L1775.5,503.9 Z" fill="none" stroke="#ff1c10" stroke-width="3.4" stroke-linejoin="miter"/>
<circle cx="1847" cy="539.6" r="9" fill="#fff" fill-opacity="0"/>
<path d="M1847,530.5 L1856.5,545.7 L1837.5,545.7 Z" fill="none" stroke="#ff1c10" stroke-width="3.4" stroke-linejoin="miter"/>
<path d="M1409.8,549.8 L1471.8,533.9 L1534.8,502.3 L1597,393 L1659,229.5 L1722.5,161.5 L1785,93 L1847,123.5" fill="none" stroke="#1a00fa" stroke-width="3.6" stroke-dasharray="6.7 4 2.8 4"/>
<path d="M1402.6,538.8H1417.0M1409.8,538.8V560.5M1402.6,560.5H1417.0" stroke="#1a00fa" stroke-width="2.6" fill="none"/>
<circle cx="1409.8" cy="549.8" r="7.6" fill="none" stroke="#1a00fa" stroke-width="3.4"/>
<path d="M1464.6,520.6H1479.0M1471.8,520.6V547.2M1464.6,547.2H1479.0" stroke="#1a00fa" stroke-width="2.6" fill="none"/>
<circle cx="1471.8" cy="533.9" r="7.6" fill="none" stroke="#1a00fa" stroke-width="3.4"/>
<path d="M1527.6,472H1542.0M1534.8,472V532M1527.6,532H1542.0" stroke="#1a00fa" stroke-width="2.6" fill="none"/>
<circle cx="1534.8" cy="502.3" r="7.6" fill="none" stroke="#1a00fa" stroke-width="3.4"/>
<path d="M1589.8,370.4H1604.2M1597,370.4V415.3M1589.8,415.3H1604.2" stroke="#1a00fa" stroke-width="2.6" fill="none"/>
<circle cx="1597" cy="393" r="7.6" fill="none" stroke="#1a00fa" stroke-width="3.4"/>
<path d="M1651.8,187.7H1666.2M1659,187.7V271M1651.8,271H1666.2" stroke="#1a00fa" stroke-width="2.6" fill="none"/>
<circle cx="1659" cy="229.5" r="7.6" fill="none" stroke="#1a00fa" stroke-width="3.4"/>
<path d="M1715.3,112H1729.7M1722.5,112V210M1715.3,210H1729.7" stroke="#1a00fa" stroke-width="2.6" fill="none"/>
<circle cx="1722.5" cy="161.5" r="7.6" fill="none" stroke="#1a00fa" stroke-width="3.4"/>
<path d="M1777.8,35H1792.2M1785,35V150M1777.8,150H1792.2" stroke="#1a00fa" stroke-width="2.6" fill="none"/>
<circle cx="1785" cy="93" r="7.6" fill="none" stroke="#1a00fa" stroke-width="3.4"/>
<path d="M1839.8,69.5H1854.2M1847,69.5V177M1839.8,177H1854.2" stroke="#1a00fa" stroke-width="2.6" fill="none"/>
<circle cx="1847" cy="123.5" r="7.6" fill="none" stroke="#1a00fa" stroke-width="3.4"/>
<path d="M1385.7,12 V667.6 H1881" fill="none" stroke="#000" stroke-width="2.7"/>
<path d="M1385.7,12 V666.2" fill="none" stroke="#1a00fa" stroke-width="2.7"/>
<path d="M1881,242.4 V667.6" fill="none" stroke="#ff1c10" stroke-width="2.7"/>
<line x1="1385.7" y1="101.6" x2="1396.5" y2="101.6" stroke="#1a00fa" stroke-width="2.7" />
<text transform="translate(1304.06,114.90) scale(0.3381,0.3040)" font-size="100" fill="#1a00fa" >1000</text>
<line x1="1385.7" y1="194.7" x2="1396.5" y2="194.7" stroke="#1a00fa" stroke-width="2.7" />
<text transform="translate(1321.64,208.00) scale(0.3464,0.3040)" font-size="100" fill="#1a00fa" >800</text>
<line x1="1385.7" y1="288.9" x2="1396.5" y2="288.9" stroke="#1a00fa" stroke-width="2.7" />
<text transform="translate(1321.46,302.20) scale(0.3475,0.3040)" font-size="100" fill="#1a00fa" >600</text>
<line x1="1385.7" y1="382.7" x2="1396.5" y2="382.7" stroke="#1a00fa" stroke-width="2.7" />
<text transform="translate(1322.52,396.00) scale(0.3410,0.3040)" font-size="100" fill="#1a00fa" >400</text>
<line x1="1385.7" y1="476.8" x2="1396.5" y2="476.8" stroke="#1a00fa" stroke-width="2.7" />
<text transform="translate(1321.46,490.10) scale(0.3475,0.3040)" font-size="100" fill="#1a00fa" >200</text>
<line x1="1385.7" y1="571.3" x2="1396.5" y2="571.3" stroke="#1a00fa" stroke-width="2.7" />
<text transform="translate(1361.85,584.60) scale(0.3125,0.3040)" font-size="100" fill="#1a00fa" >0</text>
<line x1="1868.8" y1="275" x2="1881" y2="275" stroke="#ff1c10" stroke-width="2.7" />
<text transform="translate(1887.96,286.00) scale(0.3475,0.3040)" font-size="100" fill="#ff1c10" >250</text>
<line x1="1868.8" y1="352.6" x2="1881" y2="352.6" stroke="#ff1c10" stroke-width="2.7" />
<text transform="translate(1887.96,363.60) scale(0.3475,0.3040)" font-size="100" fill="#ff1c10" >200</text>
<line x1="1868.8" y1="431.3" x2="1881" y2="431.3" stroke="#ff1c10" stroke-width="2.7" />
<text transform="translate(1887.05,442.30) scale(0.3531,0.3040)" font-size="100" fill="#ff1c10" >150</text>
<line x1="1868.8" y1="510" x2="1881" y2="510" stroke="#ff1c10" stroke-width="2.7" />
<text transform="translate(1887.05,521.00) scale(0.3531,0.3040)" font-size="100" fill="#ff1c10" >100</text>
<line x1="1868.8" y1="589" x2="1881" y2="589" stroke="#ff1c10" stroke-width="2.7" />
<text transform="translate(1888.29,600.00) scale(0.3527,0.3040)" font-size="100" fill="#ff1c10" >50</text>
<line x1="1476.3" y1="667.6" x2="1476.3" y2="653.6" stroke="#000" stroke-width="2.7" />
<line x1="1532.6" y1="667.6" x2="1532.6" y2="653.6" stroke="#000" stroke-width="2.7" />
<line x1="1597" y1="667.6" x2="1597" y2="653.6" stroke="#000" stroke-width="2.7" />
<line x1="1653" y1="667.6" x2="1653" y2="653.6" stroke="#000" stroke-width="2.7" />
<line x1="1720.6" y1="667.6" x2="1720.6" y2="653.6" stroke="#000" stroke-width="2.7" />
<line x1="1775.7" y1="667.6" x2="1775.7" y2="653.6" stroke="#000" stroke-width="2.7" />
<line x1="1841" y1="667.6" x2="1841" y2="653.6" stroke="#000" stroke-width="2.7" />
<text transform="translate(1451.60,706.70) scale(0.3511,0.3040)" font-size="100" fill="#000" >0.5</text>
<text transform="translate(1506.90,706.70) scale(0.3594,0.3040)" font-size="100" fill="#000" >1.0</text>
<text transform="translate(1572.29,706.70) scale(0.3608,0.3040)" font-size="100" fill="#000" >1.5</text>
<text transform="translate(1629.24,706.70) scale(0.3525,0.3040)" font-size="100" fill="#000" >2.0</text>
<text transform="translate(1694.73,706.70) scale(0.3538,0.3040)" font-size="100" fill="#000" >2.5</text>
<text transform="translate(1751.30,706.70) scale(0.3498,0.3040)" font-size="100" fill="#000" >3.0</text>
<text transform="translate(1815.60,706.70) scale(0.3511,0.3040)" font-size="100" fill="#000" >3.5</text>
<path d="M1423.5,72 H1476" fill="none" stroke="#1a00fa" stroke-width="3.6" stroke-dasharray="6.7 4 2.8 4"/>
<circle cx="1448" cy="72" r="7.6" fill="#fff" stroke="#1a00fa" stroke-width="3.4"/>
<text transform="translate(1481.46,81.70) scale(0.3419,0.3370)" font-size="100" fill="#1a00fa" >SERS (R6G)</text>
<path d="M1423.5,127 H1476" fill="none" stroke="#ff1c10" stroke-width="3.6" stroke-dasharray="6.7 4 2.8 4"/>
<rect x="1438" y="116" width="20" height="18" fill="#fff"/>
<path d="M1448,117.9 L1457.5,133.1 L1438.5,133.1 Z" fill="none" stroke="#ff1c10" stroke-width="3.4" stroke-linejoin="miter"/>
<text transform="translate(1481.44,139.50) scale(0.3465,0.3370)" font-size="100" fill="#ff1c10" >SNR</text>
<text transform="translate(1295.90,561.72) rotate(-90) scale(0.3812,0.3800)" font-size="100" fill="#1a00fa" >SERS intensity (arb. units)</text>
<text transform="translate(1272.26,37.40) scale(0.5111,0.5020)" font-size="100" fill="#000" >d</text>
<text transform="translate(1970.00,375.30) rotate(90) scale(0.3787,0.3800)" font-size="100" fill="#ff1c10" >SNR</text>
<text transform="translate(1961.00,456.06) rotate(90) scale(0.2532,0.2580)" font-size="100" fill="#ff1c10" >SERS</text>
<text x="1438" y="745.6" font-size="37.8">FC thickness, t<tspan font-size="26" dy="8.5">FC</tspan><tspan dy="-8.5"> (nm)</tspan></text>
<rect x="162.30" y="1461.50" width="30.70" height="70.80" fill="#1400ff" stroke="#000" stroke-width="2.6"/>
<rect x="241.10" y="1320.10" width="29.90" height="212.20" fill="#1400ff" stroke="#000" stroke-width="2.6"/>
<rect x="319.80" y="1314.50" width="29.90" height="217.80" fill="#1400ff" stroke="#000" stroke-width="2.6"/>
<rect x="392.60" y="1239.30" width="30.30" height="293.00" fill="#1400ff" stroke="#000" stroke-width="2.6"/>
<rect x="431.10" y="1125.30" width="28.20" height="407.00" fill="#ff1e0e" stroke="#000" stroke-width="2.6"/>
<rect x="486.10" y="1239.30" width="29.60" height="293.00" fill="#1400ff" stroke="#000" stroke-width="2.6"/>
<rect x="523.30" y="840.30" width="29.10" height="692.00" fill="#ff1e0e" stroke="#000" stroke-width="2.6"/>
<rect x="578.10" y="1222.80" width="30.30" height="309.50" fill="#1400ff" stroke="#000" stroke-width="2.6"/>
<rect x="615.60" y="1248.00" width="28.90" height="284.30" fill="#ff1e0e" stroke="#000" stroke-width="2.6"/>
<circle cx="259.7" cy="961.5" r="16" fill="#d4d4d4" stroke="#000" stroke-width="2"/>
<circle cx="295.8" cy="961.5" r="16" fill="#d4d4d4" stroke="#000" stroke-width="2"/>
<circle cx="331.8" cy="961.5" r="16" fill="#d4d4d4" stroke="#000" stroke-width="2"/>
<rect x="234.5" y="977.2" width="121.80000000000001" height="30.09999999999991" fill="#f1f1f1" stroke="#000" stroke-width="2"/>
<rect x="234.5" y="969.5" width="121.80000000000001" height="7.7000000000000455" fill="#bcd3d3" stroke="#000" stroke-width="2"/>
<circle cx="215.3" cy="1066" r="17.8" fill="#d4d4d4" stroke="#000" stroke-width="2"/>
<circle cx="251" cy="1066" r="17.8" fill="#d4d4d4" stroke="#000" stroke-width="2"/>
<circle cx="286" cy="1066" r="17.8" fill="#d4d4d4" stroke="#000" stroke-width="2"/>
<rect x="189.7" y="1079.8" width="122.90000000000003" height="30.799999999999955" fill="#f1f1f1" stroke="#000" stroke-width="2"/>
<rect x="189.7" y="1071.7" width="122.90000000000003" height="8.099999999999909" fill="#bcd3d3" stroke="#000" stroke-width="2"/>
<circle cx="163.8" cy="1218.5" r="12.6" fill="#d4d4d4" stroke="#000" stroke-width="2"/>
<circle cx="192.5" cy="1218.5" r="12.6" fill="#d4d4d4" stroke="#000" stroke-width="2"/>
<circle cx="221.2" cy="1218.5" r="12.6" fill="#d4d4d4" stroke="#000" stroke-width="2"/>
<circle cx="249.2" cy="1218.5" r="12.6" fill="#d4d4d4" stroke="#000" stroke-width="2"/>
<rect x="146" y="1228.5" width="122.5" height="30.5" fill="#f1f1f1" stroke="#000" stroke-width="2"/>
<rect x="146" y="1220.8" width="122.5" height="7.7000000000000455" fill="#bcd3d3" stroke="#000" stroke-width="2"/>
<path d="M368.6,984.2 H534.8 V952.7" fill="none" stroke="#000" stroke-width="2.6"/>
<circle cx="534.8" cy="952.7" r="4" fill="#000"/>
<path d="M329,1081.5 H612.5 V1200.5" fill="none" stroke="#000" stroke-width="2.6"/>
<circle cx="612" cy="1200.5" r="4" fill="#000"/>
<path d="M209,1265.3 V1337.7 H254.8" fill="none" stroke="#000" stroke-width="2.6"/>
<circle cx="254.8" cy="1337.7" r="4" fill="#000"/>
<path d="M122,796 V1531.3 H698.3" fill="none" stroke="#000" stroke-width="3"/>
<line x1="122" y1="849" x2="133.7" y2="849" stroke="#000" stroke-width="3" />
<text transform="translate(40.26,862.75) scale(0.3322,0.3500)" font-size="100" fill="#000" >1000</text>
<line x1="122" y1="986" x2="133.7" y2="986" stroke="#000" stroke-width="3" />
<text transform="translate(58.19,999.75) scale(0.3363,0.3500)" font-size="100" fill="#000" >800</text>
<line x1="122" y1="1123.5" x2="133.7" y2="1123.5" stroke="#000" stroke-width="3" />
<text transform="translate(58.01,1137.25) scale(0.3373,0.3500)" font-size="100" fill="#000" >600</text>
<line x1="122" y1="1260" x2="133.7" y2="1260" stroke="#000" stroke-width="3" />
<text transform="translate(59.04,1273.75) scale(0.3311,0.3500)" font-size="100" fill="#000" >400</text>
<line x1="122" y1="1396.5" x2="133.7" y2="1396.5" stroke="#000" stroke-width="3" />
<text transform="translate(58.01,1410.25) scale(0.3373,0.3500)" font-size="100" fill="#000" >200</text>
<text transform="translate(166.37,1572.30) scale(0.3723,0.3500)" font-size="100" fill="#000" >8</text>
<text transform="translate(236.35,1572.30) scale(0.3330,0.3500)" font-size="100" fill="#000" >10</text>
<text transform="translate(315.11,1572.30) scale(0.3381,0.3500)" font-size="100" fill="#000" >12</text>
<text transform="translate(405.04,1572.30) scale(0.3347,0.3500)" font-size="100" fill="#000" >16</text>
<text transform="translate(499.03,1572.30) scale(0.3249,0.3500)" font-size="100" fill="#000" >20</text>
<text transform="translate(594.23,1572.30) scale(0.3233,0.3500)" font-size="100" fill="#000" >24</text>
<rect x="142.9" y="799.9" width="19.5" height="18" fill="#ff1e0e" stroke="#000" stroke-width="2.4"/>
<rect x="142.9" y="851" width="19.5" height="18.6" fill="#1400ff" stroke="#000" stroke-width="2.4"/>
<text x="174" y="820.75" font-size="33.5" fill="#ff1e0e">Double (t<tspan font-size="23" dy="8">Ag</tspan><tspan dy="-8"> /2+t</tspan><tspan font-size="23" dy="8">Ag</tspan><tspan dy="-8"> /2)</tspan></text>
<text x="174" y="872" font-size="33.5" fill="#1400ff">Single (t<tspan font-size="23" dy="8">Ag</tspan><tspan dy="-8"> )</tspan></text>
<text x="537.3" y="838" font-size="44" fill="#ff1e0e" text-anchor="middle" font-weight="bold">*</text>
<text x="216" y="1607" font-size="34">total Ag thickness, t<tspan font-size="23" dy="8">Ag</tspan><tspan dy="-8"> (nm)</tspan></text>
<text transform="translate(30.20,1388.62) rotate(-90) scale(0.3824,0.3800)" font-size="100" fill="#000" >SERS Intensity (arb. units)</text>
<text transform="translate(0.21,809.10) scale(0.5213,0.5036)" font-size="100" fill="#000" >e</text>
<path d="M879.8,859.9 L945.8,863.6 L1029.5,897.1 L1112.9,931.8 L1196.6,946.1 L1279.7,974.6" fill="none" stroke="#1400ff" stroke-width="2" stroke-dasharray="10 9.5" stroke-linecap="butt"/>
<path d="M874.8,859.9H884.8M879.8,859.9V859.9M874.8,859.9H884.8" stroke="#1400ff" stroke-width="2.4" fill="none"/>
<rect x="875.05" y="855.15" width="9.5" height="9.5" fill="none" stroke="#1400ff" stroke-width="2"/>
<path d="M940.8,831.4H950.8M945.8,831.4V896.5M940.8,896.5H950.8" stroke="#1400ff" stroke-width="2.4" fill="none"/>
<rect x="941.05" y="858.85" width="9.5" height="9.5" fill="none" stroke="#1400ff" stroke-width="2"/>
<path d="M1024.5,871.7H1034.5M1029.5,871.7V922.8M1024.5,922.8H1034.5" stroke="#1400ff" stroke-width="2.4" fill="none"/>
<rect x="1024.75" y="892.35" width="9.5" height="9.5" fill="none" stroke="#1400ff" stroke-width="2"/>
<path d="M1107.9,906.4H1117.9M1112.9,906.4V957.2M1107.9,957.2H1117.9" stroke="#1400ff" stroke-width="2.4" fill="none"/>
<rect x="1108.15" y="927.05" width="9.5" height="9.5" fill="none" stroke="#1400ff" stroke-width="2"/>
<path d="M1191.6,903.3H1201.6M1196.6,903.3V989.5M1191.6,989.5H1201.6" stroke="#1400ff" stroke-width="2.4" fill="none"/>
<rect x="1191.85" y="941.35" width="9.5" height="9.5" fill="none" stroke="#1400ff" stroke-width="2"/>
<path d="M1274.7,937.4H1284.7M1279.7,937.4V1011.2M1274.7,1011.2H1284.7" stroke="#1400ff" stroke-width="2.4" fill="none"/>
<rect x="1274.95" y="969.85" width="9.5" height="9.5" fill="none" stroke="#1400ff" stroke-width="2"/>
<path d="M879.8,859.9 L945.8,855.2 L1029.5,855.2 L1112.9,884.7 L1196.6,883.1 L1279.7,890.0" fill="none" stroke="#ff1e0e" stroke-width="2" stroke-dasharray="10 9.5" stroke-linecap="butt"/>
<path d="M874.8,833.5H884.8M879.8,833.5V886.9M874.8,886.9H884.8" stroke="#ff1e0e" stroke-width="2.4" fill="none"/>
<rect x="875.05" y="855.15" width="9.5" height="9.5" fill="none" stroke="#ff1e0e" stroke-width="2"/>
<path d="M940.8,823.3H950.8M945.8,823.3V887.2M940.8,887.2H950.8" stroke="#ff1e0e" stroke-width="2.4" fill="none"/>
<rect x="941.05" y="850.45" width="9.5" height="9.5" fill="none" stroke="#ff1e0e" stroke-width="2"/>
<path d="M1024.5,828.9H1034.5M1029.5,828.9V882.2M1024.5,882.2H1034.5" stroke="#ff1e0e" stroke-width="2.4" fill="none"/>
<rect x="1024.75" y="850.45" width="9.5" height="9.5" fill="none" stroke="#ff1e0e" stroke-width="2"/>
<path d="M1107.9,874.8H1117.9M1112.9,874.8V894.9M1107.9,894.9H1117.9" stroke="#ff1e0e" stroke-width="2.4" fill="none"/>
<rect x="1108.15" y="879.95" width="9.5" height="9.5" fill="none" stroke="#ff1e0e" stroke-width="2"/>
<path d="M1191.6,871.4H1201.6M1196.6,871.4V894M1191.6,894H1201.6" stroke="#ff1e0e" stroke-width="2.4" fill="none"/>
<rect x="1191.85" y="878.35" width="9.5" height="9.5" fill="none" stroke="#ff1e0e" stroke-width="2"/>
<path d="M1274.7,859.3H1284.7M1279.7,859.3V920.3M1274.7,920.3H1284.7" stroke="#ff1e0e" stroke-width="2.4" fill="none"/>
<rect x="1274.95" y="885.25" width="9.5" height="9.5" fill="none" stroke="#ff1e0e" stroke-width="2"/>
<path d="M854.2,811 V1082.5 H1306.6" fill="none" stroke="#000" stroke-width="3"/>
<line x1="854.2" y1="859.8" x2="865.5" y2="859.8" stroke="#000" stroke-width="3" />
<text transform="translate(802.43,874.00) scale(0.2928,0.3100)" font-size="100" fill="#000" >3.0</text>
<line x1="854.2" y1="934.3" x2="865.5" y2="934.3" stroke="#000" stroke-width="3" />
<text transform="translate(802.12,948.50) scale(0.2950,0.3100)" font-size="100" fill="#000" >2.0</text>
<line x1="854.2" y1="1008" x2="865.5" y2="1008" stroke="#000" stroke-width="3" />
<text transform="translate(801.34,1022.20) scale(0.3008,0.3100)" font-size="100" fill="#000" >1.0</text>
<text transform="translate(825.31,1096.70) scale(0.3229,0.3100)" font-size="100" fill="#000" >0</text>
<line x1="862.7" y1="1082.5" x2="862.7" y2="1072" stroke="#000" stroke-width="3" />
<text transform="translate(853.66,1119.00) scale(0.3229,0.3000)" font-size="100" fill="#000" >0</text>
<line x1="945.5" y1="1082.5" x2="945.5" y2="1072" stroke="#000" stroke-width="3" />
<text transform="translate(936.44,1119.00) scale(0.3263,0.3000)" font-size="100" fill="#000" >5</text>
<line x1="1028.6" y1="1082.5" x2="1028.6" y2="1072" stroke="#000" stroke-width="3" />
<text transform="translate(1011.64,1119.00) scale(0.2950,0.3000)" font-size="100" fill="#000" >10</text>
<line x1="1112.3" y1="1082.5" x2="1112.3" y2="1072" stroke="#000" stroke-width="3" />
<text transform="translate(1095.33,1119.00) scale(0.2965,0.3000)" font-size="100" fill="#000" >15</text>
<line x1="1196" y1="1082.5" x2="1196" y2="1072" stroke="#000" stroke-width="3" />
<text transform="translate(1179.81,1119.00) scale(0.2878,0.3000)" font-size="100" fill="#000" >20</text>
<line x1="1279.7" y1="1082.5" x2="1279.7" y2="1072" stroke="#000" stroke-width="3" />
<text transform="translate(1263.50,1119.00) scale(0.2892,0.3000)" font-size="100" fill="#000" >25</text>
<text transform="translate(910.98,1153.50) scale(0.3410,0.3400)" font-size="100" fill="#000" >storage duration (days)</text>
<text transform="translate(880.40,1005.60) scale(0.3412,0.3370)" font-size="100" fill="#ff1e0e" >w/ vacuum sealing</text>
<text transform="translate(880.40,1042.80) scale(0.3408,0.3370)" font-size="100" fill="#1400ff" >w/o vacuum sealing</text>
<text transform="translate(741.80,1007.14) rotate(-90) scale(0.3418,0.3370)" font-size="100" fill="#000" >SERS</text>
<text transform="translate(782.50,1110.13) rotate(-90) scale(0.3424,0.3370)" font-size="100" fill="#000" >intensity (arb. units)</text>
<text x="862.5" y="821" font-size="24">x 10<tspan font-size="16" dy="-8">3</tspan></text>
<text transform="translate(711.04,808.80) scale(0.5736,0.5090)" font-size="100" fill="#000" >f</text>
<path d="M1596.0,837.0 L1754.5,862.5 L1913.3,856.0" fill="none" stroke="#000" stroke-width="2.5" stroke-dasharray="0.1 4.9" stroke-linecap="round"/>
<path d="M1590.5,803.3H1601.5M1596,803.3V869.6M1590.5,869.6H1601.5" stroke="#000" stroke-width="1.7" fill="none"/>
<rect x="1591.50" y="832.50" width="9" height="9" fill="none" stroke="#000" stroke-width="2.3"/>
<path d="M1749.0,837.3H1760.0M1754.5,837.3V887.3M1749.0,887.3H1760.0" stroke="#000" stroke-width="1.7" fill="none"/>
<rect x="1750.00" y="858.00" width="9" height="9" fill="none" stroke="#000" stroke-width="2.3"/>
<path d="M1907.8,814.9H1918.8M1913.3,814.9V896.8M1907.8,896.8H1918.8" stroke="#000" stroke-width="1.7" fill="none"/>
<rect x="1908.80" y="851.50" width="9" height="9" fill="none" stroke="#000" stroke-width="2.3"/>
<path d="M1513.6,794 V1081 H1965.4" fill="none" stroke="#000" stroke-width="2.7"/>
<line x1="1513.6" y1="804.8" x2="1527" y2="804.8" stroke="#000" stroke-width="2.7" />
<text transform="translate(1464.43,816.60) scale(0.2893,0.3000)" font-size="100" fill="#000" >1.2</text>
<line x1="1513.6" y1="851.9" x2="1527" y2="851.9" stroke="#000" stroke-width="2.7" />
<text transform="translate(1464.46,863.70) scale(0.2859,0.3000)" font-size="100" fill="#000" >1.0</text>
<line x1="1513.6" y1="899.2" x2="1527" y2="899.2" stroke="#000" stroke-width="2.7" />
<text transform="translate(1465.48,911.00) scale(0.2794,0.3000)" font-size="100" fill="#000" >0.8</text>
<line x1="1513.6" y1="946.1" x2="1527" y2="946.1" stroke="#000" stroke-width="2.7" />
<text transform="translate(1465.48,957.90) scale(0.2794,0.3000)" font-size="100" fill="#000" >0.6</text>
<line x1="1513.6" y1="993.4" x2="1527" y2="993.4" stroke="#000" stroke-width="2.7" />
<text transform="translate(1465.49,1005.20) scale(0.2773,0.3000)" font-size="100" fill="#000" >0.4</text>
<line x1="1513.6" y1="1041" x2="1527" y2="1041" stroke="#000" stroke-width="2.7" />
<text transform="translate(1465.47,1052.80) scale(0.2815,0.3000)" font-size="100" fill="#000" >0.2</text>
<line x1="1596" y1="1081" x2="1596" y2="1070" stroke="#000" stroke-width="2.7" />
<text transform="translate(1587.37,1115.50) scale(0.3168,0.3000)" font-size="100" fill="#000" >4</text>
<line x1="1754.5" y1="1081" x2="1754.5" y2="1070" stroke="#000" stroke-width="2.7" />
<text transform="translate(1744.74,1115.50) scale(0.3516,0.3000)" font-size="100" fill="#000" >7</text>
<line x1="1913.3" y1="1081" x2="1913.3" y2="1070" stroke="#000" stroke-width="2.7" />
<text transform="translate(1896.05,1115.50) scale(0.3000,0.3000)" font-size="100" fill="#000" >10</text>
<text transform="translate(1718.79,1147.50) scale(0.3407,0.3350)" font-size="100" fill="#000" >pH</text>
<text transform="translate(1410.00,1079.92) rotate(-90) scale(0.3409,0.3370)" font-size="100" fill="#000" >normalized SERS</text>
<text transform="translate(1450.50,1093.51) rotate(-90) scale(0.3399,0.3370)" font-size="100" fill="#000" >intensity (arb. units)</text>
<text transform="translate(1337.91,808.94) scale(0.5222,0.5074)" font-size="100" fill="#000" >g</text>
<clipPath id="pt"><rect x="967.1" y="1336.6" width="176.10000000000002" height="169.70000000000005"/></clipPath>
<filter id="soft" x="-10%" y="-10%" width="120%" height="120%"><feGaussianBlur stdDeviation="1.6"/></filter>
<filter id="soft2"><feGaussianBlur stdDeviation="0.6"/></filter>
<filter id="soft3" x="-20%" y="-20%" width="140%" height="140%"><feGaussianBlur stdDeviation="5"/></filter>
<linearGradient id="skyt" x1="0" y1="0" x2="0" y2="1"><stop offset="0" stop-color="#c9e0e9"/><stop offset="1" stop-color="#dff1f5"/></linearGradient>
<linearGradient id="glove" x1="0" y1="0" x2="1" y2="0"><stop offset="0" stop-color="#d3cfbf"/><stop offset="0.7" stop-color="#e6e2d4"/><stop offset="1" stop-color="#ddd8c8"/></linearGradient>
<linearGradient id="peach" x1="0" y1="0" x2="1" y2="1"><stop offset="0" stop-color="#f4e4d2"/><stop offset="1" stop-color="#ead4be"/></linearGradient>
<linearGradient id="filmg" x1="0" y1="0" x2="0" y2="1"><stop offset="0" stop-color="#aeacd6"/><stop offset="0.45" stop-color="#9894c8"/><stop offset="1" stop-color="#8c84bc"/></linearGradient>
<g clip-path="url(#pt)">
<rect x="967.1" y="1336.6" width="176.10000000000002" height="169.70000000000005" fill="url(#skyt)"/>
<g filter="url(#soft)">
<path d="M957.1,1326.6C971.3,1298.3 1028.3,1319.8 1042.1,1326.6C1055.9,1333.4 1040.6,1358.1 1040.1,1367.6C1039.6,1377.1 1040.3,1378.8 1039.1,1383.6C1037.9,1388.4 1036.8,1392.8 1033.1,1396.6C1029.4,1400.4 1021.4,1402.6 1017.1,1406.6C1012.8,1410.6 1007.3,1416.3 1007.1,1420.6C1006.9,1424.9 1015.3,1427.1 1016.1,1432.6C1016.9,1438.1 1015.3,1447.3 1012.1,1453.6C1008.9,1459.9 1003.3,1464.8 997.1,1470.6C990.9,1476.4 981.8,1484.3 975.1,1488.6C968.4,1492.9 960.1,1523.6 957.1,1496.6C954.1,1469.6 942.9,1354.9 957.1,1326.6Z" fill="url(#glove)" />
<path d="M957.1,1399.6C962.1,1393.8 979.1,1396.8 987.1,1398.6C995.1,1400.4 1001.8,1406.6 1005.1,1410.6C1008.4,1414.6 1008.4,1419.1 1007.1,1422.6C1005.8,1426.1 1005.4,1429.8 997.1,1431.6C988.8,1433.4 963.8,1438.9 957.1,1433.6C950.4,1428.3 952.1,1405.4 957.1,1399.6Z" fill="#ecd3c1" />
<path d="M1153.1,1358.6C1147.1,1349.9 1126.8,1377.3 1117.1,1384.6C1107.4,1391.9 1099.4,1397.9 1095.1,1402.6C1090.8,1407.3 1089.1,1408.9 1091.1,1412.6C1093.1,1416.3 1098.4,1420.6 1107.1,1424.6C1115.8,1428.6 1135.4,1434.6 1143.1,1436.6C1150.8,1438.6 1151.4,1449.6 1153.1,1436.6C1154.8,1423.6 1159.1,1367.3 1153.1,1358.6Z" fill="url(#peach)" />
<path d="M1153.1,1431.6C1147.1,1418.3 1128.4,1427.4 1117.1,1428.6C1105.8,1429.8 1092.8,1435.3 1085.1,1438.6C1077.4,1441.9 1072.1,1442.6 1071.1,1448.6C1070.1,1454.6 1075.8,1464.6 1079.1,1474.6C1082.4,1484.6 1078.8,1502.9 1091.1,1508.6C1103.4,1514.3 1142.8,1521.4 1153.1,1508.6C1163.4,1495.8 1159.1,1444.9 1153.1,1431.6Z" fill="#efdfcf" />
</g>
<g filter="url(#soft2)">
<path d="M1005.1,1421.6C1006.4,1415.4 1015.3,1408.8 1021.1,1403.6C1026.9,1398.4 1033.8,1393.4 1040.1,1390.6C1046.4,1387.8 1053.6,1386.6 1059.1,1386.6C1064.6,1386.6 1068.1,1387.8 1073.1,1390.6C1078.1,1393.4 1083.9,1398.4 1089.1,1403.6C1094.3,1408.8 1104.9,1416.9 1104.1,1421.6C1103.3,1426.3 1090.3,1428.4 1084.1,1431.6C1077.9,1434.8 1072.4,1438.3 1067.1,1440.6C1061.8,1442.9 1058.4,1444.6 1052.1,1445.6C1045.8,1446.6 1035.6,1447.4 1029.1,1446.6C1022.6,1445.8 1017.1,1444.8 1013.1,1440.6C1009.1,1436.4 1003.8,1427.8 1005.1,1421.6Z" fill="url(#filmg)" stroke="#55535c" stroke-width="1.3"/>
<path d="M1067.1,1428.6C1069.4,1425.3 1079.4,1421.9 1085.1,1420.6C1090.8,1419.3 1100.8,1418.6 1101.1,1420.6C1101.4,1422.6 1092.1,1429.3 1087.1,1432.6C1082.1,1435.9 1074.4,1441.3 1071.1,1440.6C1067.8,1439.9 1064.8,1431.9 1067.1,1428.6Z" fill="#cfd0dc" />
<path d="M1025.1,1421.6C1025.8,1419.3 1032.4,1414.8 1037.1,1412.6C1041.8,1410.4 1047.4,1409.6 1053.1,1408.6C1058.8,1407.6 1065.4,1406.6 1071.1,1406.6C1076.8,1406.6 1086.8,1406.9 1087.1,1408.6C1087.4,1410.3 1078.8,1414.3 1073.1,1416.6C1067.4,1418.9 1059.8,1420.9 1053.1,1422.6C1046.4,1424.3 1037.8,1426.8 1033.1,1426.6C1028.4,1426.4 1024.4,1423.9 1025.1,1421.6Z" fill="#6a6c90" />
<path d="M1009.1,1424.6 C1037.1,1416.6 1067.1,1408.6 1103.1,1420.6" fill="none" stroke="#3e3c44" stroke-width="1.8"/>
<path d="M1019.1,1428.6 C1047.1,1424.6 1075.1,1418.6 1101.1,1424.6" fill="none" stroke="#8a8898" stroke-width="1.2"/>
<ellipse cx="1049.1" cy="1439.6" rx="6" ry="3" fill="#e0dcc8"/>
<ellipse cx="1039.1" cy="1416.6" rx="8" ry="3" fill="#c8d0e8" transform="rotate(-18 1039.1 1416.6)"/>
</g>
</g>
<clipPath id="pb"><rect x="1150.9" y="1336.9" width="176.19999999999982" height="171.19999999999982"/></clipPath>
<linearGradient id="fist" x1="0" y1="0" x2="1" y2="1"><stop offset="0" stop-color="#eedcd0"/><stop offset="0.5" stop-color="#f3e6dc"/><stop offset="1" stop-color="#e8d4c6"/></linearGradient>
<linearGradient id="rhand" x1="0" y1="0" x2="1" y2="1"><stop offset="0" stop-color="#f1e4d8"/><stop offset="1" stop-color="#e9d8ca"/></linearGradient>
<g clip-path="url(#pb)">
<rect x="1150.9" y="1336.9" width="176.19999999999982" height="171.19999999999982" fill="url(#skyt)"/>
<g filter="url(#soft)">
<path d="M1140.9,1326.9C1152.9,1303.4 1200.1,1322.1 1212.9,1326.9C1225.7,1331.7 1215.1,1348.7 1217.9,1355.9C1220.7,1363.1 1227.1,1365.9 1229.9,1369.9C1232.7,1373.9 1234.2,1375.7 1234.9,1379.9C1235.6,1384.1 1234.7,1389.2 1233.9,1394.9C1233.1,1400.6 1231.6,1409.1 1229.9,1413.9C1228.2,1418.7 1226.7,1420.1 1223.9,1423.9C1221.1,1427.7 1218.4,1432.4 1212.9,1436.9C1207.4,1441.4 1198.1,1447.1 1190.9,1450.9C1183.7,1454.7 1178.2,1457.1 1169.9,1459.9C1161.6,1462.7 1145.7,1490.1 1140.9,1467.9C1136.1,1445.7 1128.9,1350.4 1140.9,1326.9Z" fill="url(#fist)" />
<path d="M1140.9,1326.9C1149.2,1321.9 1178.9,1323.9 1190.9,1326.9C1202.9,1329.9 1207.9,1338.6 1212.9,1344.9C1217.9,1351.2 1222.9,1362.6 1220.9,1364.9C1218.9,1367.2 1209.2,1360.6 1200.9,1358.9C1192.6,1357.2 1180.9,1355.2 1170.9,1354.9C1160.9,1354.6 1145.9,1361.6 1140.9,1356.9C1135.9,1352.2 1132.6,1331.9 1140.9,1326.9Z" fill="#e9d6ca" />
<path d="M1336.9,1370.9C1330.6,1348.7 1308.7,1376.2 1298.9,1379.9C1289.1,1383.6 1282.7,1388.2 1277.9,1392.9C1273.1,1397.6 1273.1,1403.2 1269.9,1407.9C1266.7,1412.6 1261.4,1416.1 1258.9,1420.9C1256.4,1425.7 1255.2,1430.2 1254.9,1436.9C1254.6,1443.6 1254.9,1452.6 1256.9,1460.9C1258.9,1469.2 1263.9,1478.2 1266.9,1486.9C1269.9,1495.6 1263.2,1508.6 1274.9,1512.9C1286.6,1517.2 1326.6,1536.6 1336.9,1512.9C1347.2,1489.2 1343.2,1393.1 1336.9,1370.9Z" fill="url(#rhand)" />
</g>
<path d="M1165.9,1396.9 L1195.9,1411.9" stroke="#fbf4ec" stroke-width="10" fill="none" filter="url(#soft3)"/>
<g filter="url(#soft2)">
<path d="M1235.9,1380.9C1237.7,1377.6 1240.7,1375.4 1244.9,1374.9C1249.1,1374.4 1255.9,1376.6 1260.9,1377.9C1265.9,1379.2 1273.2,1380.4 1274.9,1382.9C1276.6,1385.4 1271.7,1388.9 1270.9,1392.9C1270.1,1396.9 1271.6,1401.9 1269.9,1406.9C1268.2,1411.9 1263.4,1417.9 1260.9,1422.9C1258.4,1427.9 1256.6,1432.6 1254.9,1436.9C1253.2,1441.2 1252.9,1445.2 1250.9,1448.9C1248.9,1452.6 1245.9,1456.6 1242.9,1458.9C1239.9,1461.2 1236.7,1463.7 1232.9,1462.9C1229.1,1462.1 1223.1,1456.4 1219.9,1453.9C1216.7,1451.4 1213.7,1450.2 1213.9,1447.9C1214.1,1445.6 1218.9,1442.7 1220.9,1439.9C1222.9,1437.1 1225.6,1433.7 1225.9,1430.9C1226.2,1428.1 1222.4,1426.6 1222.9,1422.9C1223.4,1419.2 1227.1,1413.6 1228.9,1408.9C1230.7,1404.2 1232.7,1399.6 1233.9,1394.9C1235.1,1390.2 1234.1,1384.2 1235.9,1380.9Z" fill="#7e7ab8" stroke="#3e3a40" stroke-width="1.4"/>
<path d="M1240.9,1386.9C1243.1,1383.9 1247.9,1382.6 1250.9,1382.9C1253.9,1383.2 1258.2,1384.9 1258.9,1388.9C1259.6,1392.9 1256.7,1400.9 1254.9,1406.9C1253.1,1412.9 1250.1,1420.2 1247.9,1424.9C1245.7,1429.6 1244.1,1433.6 1241.9,1434.9C1239.7,1436.2 1236.1,1435.9 1234.9,1432.9C1233.7,1429.9 1234.4,1422.2 1234.9,1416.9C1235.4,1411.6 1236.9,1405.9 1237.9,1400.9C1238.9,1395.9 1238.7,1389.9 1240.9,1386.9Z" fill="#675864" />
<path d="M1238.9,1386.9 C1242.9,1401.9 1236.9,1421.9 1232.9,1436.9 M1250.9,1384.9 C1250.9,1404.9 1246.9,1424.9 1240.9,1440.9 M1262.9,1388.9 C1260.9,1408.9 1254.9,1428.9 1250.9,1444.9" fill="none" stroke="#c8c4cc" stroke-width="1"/>
<path d="M1220.9,1444.9C1222.2,1441.6 1230.6,1438.9 1234.9,1438.9C1239.2,1438.9 1245.9,1441.9 1246.9,1444.9C1247.9,1447.9 1244.2,1454.6 1240.9,1456.9C1237.6,1459.2 1230.2,1460.9 1226.9,1458.9C1223.6,1456.9 1219.6,1448.2 1220.9,1444.9Z" fill="#8e90d0" />
</g>
</g>
<path d="M872.8,1260.2 L980.0,1236.8 L1087.2,1281.6 L1302.2,1281.0" fill="none" stroke="#1400ff" stroke-width="3" stroke-dasharray="3 2.6" stroke-linecap="butt"/>
<path d="M867.8,1260.2H877.8M872.8,1260.2V1260.2M867.8,1260.2H877.8" stroke="#1400ff" stroke-width="2.1" fill="none"/>
<rect x="868.05" y="1255.45" width="9.5" height="9.5" fill="none" stroke="#1400ff" stroke-width="2.8"/>
<path d="M975.0,1206.4H985.0M980,1206.4V1262M975.0,1262H985.0" stroke="#1400ff" stroke-width="2.1" fill="none"/>
<rect x="975.25" y="1232.05" width="9.5" height="9.5" fill="none" stroke="#1400ff" stroke-width="2.8"/>
<path d="M1082.2,1237.8H1092.2M1087.2,1237.8V1323.8M1082.2,1323.8H1092.2" stroke="#1400ff" stroke-width="2.1" fill="none"/>
<rect x="1082.45" y="1276.85" width="9.5" height="9.5" fill="none" stroke="#1400ff" stroke-width="2.8"/>
<path d="M1297.2,1237H1307.2M1302.2,1237V1323M1297.2,1323H1307.2" stroke="#1400ff" stroke-width="2.1" fill="none"/>
<rect x="1297.45" y="1276.25" width="9.5" height="9.5" fill="none" stroke="#1400ff" stroke-width="2.8"/>
<path d="M872.8,1260.2 L980.0,1262.4 L1087.2,1263.0 L1302.2,1280.0" fill="none" stroke="#ff1e0e" stroke-width="3" stroke-dasharray="3 2.6" stroke-linecap="butt"/>
<path d="M867.8,1232H877.8M872.8,1232V1288M867.8,1288H877.8" stroke="#ff1e0e" stroke-width="2.1" fill="none"/>
<rect x="868.05" y="1255.45" width="9.5" height="9.5" fill="none" stroke="#ff1e0e" stroke-width="2.8"/>
<path d="M975.0,1232H985.0M980,1232V1291.2M975.0,1291.2H985.0" stroke="#ff1e0e" stroke-width="2.1" fill="none"/>
<rect x="975.25" y="1257.65" width="9.5" height="9.5" fill="none" stroke="#ff1e0e" stroke-width="2.8"/>
<path d="M1082.2,1219.8H1092.2M1087.2,1219.8V1305.6M1082.2,1305.6H1092.2" stroke="#ff1e0e" stroke-width="2.1" fill="none"/>
<rect x="1082.45" y="1258.25" width="9.5" height="9.5" fill="none" stroke="#ff1e0e" stroke-width="2.8"/>
<path d="M1297.2,1237.4H1307.2M1302.2,1237.4V1322.6M1297.2,1322.6H1307.2" stroke="#ff1e0e" stroke-width="2.1" fill="none"/>
<rect x="1297.45" y="1275.25" width="9.5" height="9.5" fill="none" stroke="#ff1e0e" stroke-width="2.8"/>
<path d="M850.4,1171.2 V1531.8 H1330.4" fill="none" stroke="#000" stroke-width="3"/>
<line x1="850.4" y1="1192" x2="860" y2="1192" stroke="#000" stroke-width="3" />
<text transform="translate(784.59,1206.20) scale(0.2943,0.3100)" font-size="100" fill="#000" >10.0</text>
<line x1="850.4" y1="1264.6" x2="860" y2="1264.6" stroke="#000" stroke-width="3" />
<text transform="translate(800.98,1278.80) scale(0.2939,0.3100)" font-size="100" fill="#000" >8.0</text>
<line x1="850.4" y1="1337.6" x2="860" y2="1337.6" stroke="#000" stroke-width="3" />
<text transform="translate(800.82,1351.80) scale(0.2950,0.3100)" font-size="100" fill="#000" >6.0</text>
<line x1="850.4" y1="1410.2" x2="860" y2="1410.2" stroke="#000" stroke-width="3" />
<text transform="translate(801.72,1424.40) scale(0.2884,0.3100)" font-size="100" fill="#000" >4.0</text>
<line x1="850.4" y1="1483.2" x2="860" y2="1483.2" stroke="#000" stroke-width="3" />
<text transform="translate(800.82,1497.40) scale(0.2950,0.3100)" font-size="100" fill="#000" >2.0</text>
<line x1="872.8" y1="1531.8" x2="872.8" y2="1520" stroke="#000" stroke-width="3" />
<text transform="translate(863.76,1567.50) scale(0.3229,0.3000)" font-size="100" fill="#000" >0</text>
<line x1="980" y1="1531.8" x2="980" y2="1520" stroke="#000" stroke-width="3" />
<text transform="translate(963.30,1567.50) scale(0.2995,0.3000)" font-size="100" fill="#000" >50</text>
<line x1="1087.2" y1="1531.8" x2="1087.2" y2="1520" stroke="#000" stroke-width="3" />
<text transform="translate(1061.71,1567.50) scale(0.2990,0.3000)" font-size="100" fill="#000" >100</text>
<line x1="1195" y1="1531.8" x2="1195" y2="1520" stroke="#000" stroke-width="3" />
<text transform="translate(1169.51,1567.50) scale(0.2990,0.3000)" font-size="100" fill="#000" >150</text>
<line x1="1302.2" y1="1531.8" x2="1302.2" y2="1520" stroke="#000" stroke-width="3" />
<text transform="translate(1277.48,1567.50) scale(0.2943,0.3000)" font-size="100" fill="#000" >200</text>
<text transform="translate(1022.89,1609.00) scale(0.3393,0.3350)" font-size="100" fill="#000" >flex cycle</text>
<text transform="translate(741.60,1420.53) rotate(-90) scale(0.3399,0.3370)" font-size="100" fill="#000" >SERS</text>
<text transform="translate(782.50,1514.23) rotate(-90) scale(0.3423,0.3370)" font-size="100" fill="#000" >intensity (arb. units)</text>
<text x="875.5" y="1185" font-size="24">x 10<tspan font-size="16" dy="-8">3</tspan></text>
<text transform="translate(713.35,1204.90) scale(0.5214,0.5062)" font-size="100" fill="#000" >h</text>
<text transform="translate(981.99,1496.50) scale(0.3418,0.3100)" font-size="100" fill="#ff1a12" >twist</text>
<text transform="translate(1165.58,1496.50) scale(0.3418,0.3100)" font-size="100" fill="#5a2ff0" >bend</text>
<rect x="1105" y="1490.9" width="28" height="3.6" fill="#000" />
<rect x="1288.5" y="1490.9" width="28.3" height="3.6" fill="#000" />
<path d="M1587.0,1269.5 L1691.1,1255.5 L1795.7,1283.3 L1900.5,1380.0" fill="none" stroke="#000" stroke-width="2.5" stroke-dasharray="0.1 4.9" stroke-linecap="round"/>
<path d="M1582.0,1239.4H1592.0M1587,1239.4V1299.7M1582.0,1299.7H1592.0" stroke="#000" stroke-width="1.7" fill="none"/>
<rect x="1582.50" y="1265.00" width="9" height="9" fill="none" stroke="#000" stroke-width="2.3"/>
<path d="M1686.1,1226.3H1696.1M1691.1,1226.3V1283.3M1686.1,1283.3H1696.1" stroke="#000" stroke-width="1.7" fill="none"/>
<rect x="1686.60" y="1251.00" width="9" height="9" fill="none" stroke="#000" stroke-width="2.3"/>
<path d="M1790.7,1243.8H1800.7M1795.7,1243.8V1323.1M1790.7,1323.1H1800.7" stroke="#000" stroke-width="1.7" fill="none"/>
<rect x="1791.20" y="1278.80" width="9" height="9" fill="none" stroke="#000" stroke-width="2.3"/>
<path d="M1895.5,1367.7H1905.5M1900.5,1367.7V1391.8M1895.5,1391.8H1905.5" stroke="#000" stroke-width="1.7" fill="none"/>
<rect x="1896.00" y="1375.50" width="9" height="9" fill="none" stroke="#000" stroke-width="2.3"/>
<path d="M1514.3,1202.9 V1531.2 M1507.5,1531.2 H1944.7" fill="none" stroke="#000" stroke-width="2.7"/>
<line x1="1514.3" y1="1269.5" x2="1525" y2="1269.5" stroke="#000" stroke-width="2.7" />
<text transform="translate(1465.35,1281.30) scale(0.2867,0.3000)" font-size="100" fill="#000" >1.0</text>
<line x1="1514.3" y1="1323.5" x2="1525" y2="1323.5" stroke="#000" stroke-width="2.7" />
<text transform="translate(1466.38,1335.30) scale(0.2802,0.3000)" font-size="100" fill="#000" >0.8</text>
<line x1="1514.3" y1="1377" x2="1525" y2="1377" stroke="#000" stroke-width="2.7" />
<text transform="translate(1466.38,1388.80) scale(0.2802,0.3000)" font-size="100" fill="#000" >0.6</text>
<line x1="1514.3" y1="1430.7" x2="1525" y2="1430.7" stroke="#000" stroke-width="2.7" />
<text transform="translate(1466.39,1442.50) scale(0.2780,0.3000)" font-size="100" fill="#000" >0.4</text>
<line x1="1514.3" y1="1484.3" x2="1525" y2="1484.3" stroke="#000" stroke-width="2.7" />
<text transform="translate(1466.37,1496.10) scale(0.2823,0.3000)" font-size="100" fill="#000" >0.2</text>
<line x1="1587" y1="1531.2" x2="1587" y2="1519" stroke="#000" stroke-width="2.7" />
<text transform="translate(1577.67,1568.70) scale(0.3333,0.3000)" font-size="100" fill="#000" >0</text>
<line x1="1691.1" y1="1531.2" x2="1691.1" y2="1519" stroke="#000" stroke-width="2.7" />
<text transform="translate(1681.75,1568.70) scale(0.3368,0.3000)" font-size="100" fill="#000" >5</text>
<line x1="1795.7" y1="1531.2" x2="1795.7" y2="1519" stroke="#000" stroke-width="2.7" />
<text transform="translate(1778.45,1568.70) scale(0.3000,0.3000)" font-size="100" fill="#000" >10</text>
<line x1="1900.5" y1="1531.2" x2="1900.5" y2="1519" stroke="#000" stroke-width="2.7" />
<text transform="translate(1884.04,1568.70) scale(0.2927,0.3000)" font-size="100" fill="#000" >20</text>
<text transform="translate(1633.38,1603.00) scale(0.3414,0.3400)" font-size="100" fill="#000" >peeling cycle</text>
<text transform="translate(1401.00,1524.01) rotate(-90) scale(0.3404,0.3370)" font-size="100" fill="#000" >normalized SERS</text>
<text transform="translate(1442.00,1539.14) rotate(-90) scale(0.3448,0.3370)" font-size="100" fill="#000" >intensity (arb. units)</text>
<text transform="translate(1338.79,1204.90) scale(0.4778,0.5048)" font-size="100" fill="#000" >i</text>
</svg></body></html>
